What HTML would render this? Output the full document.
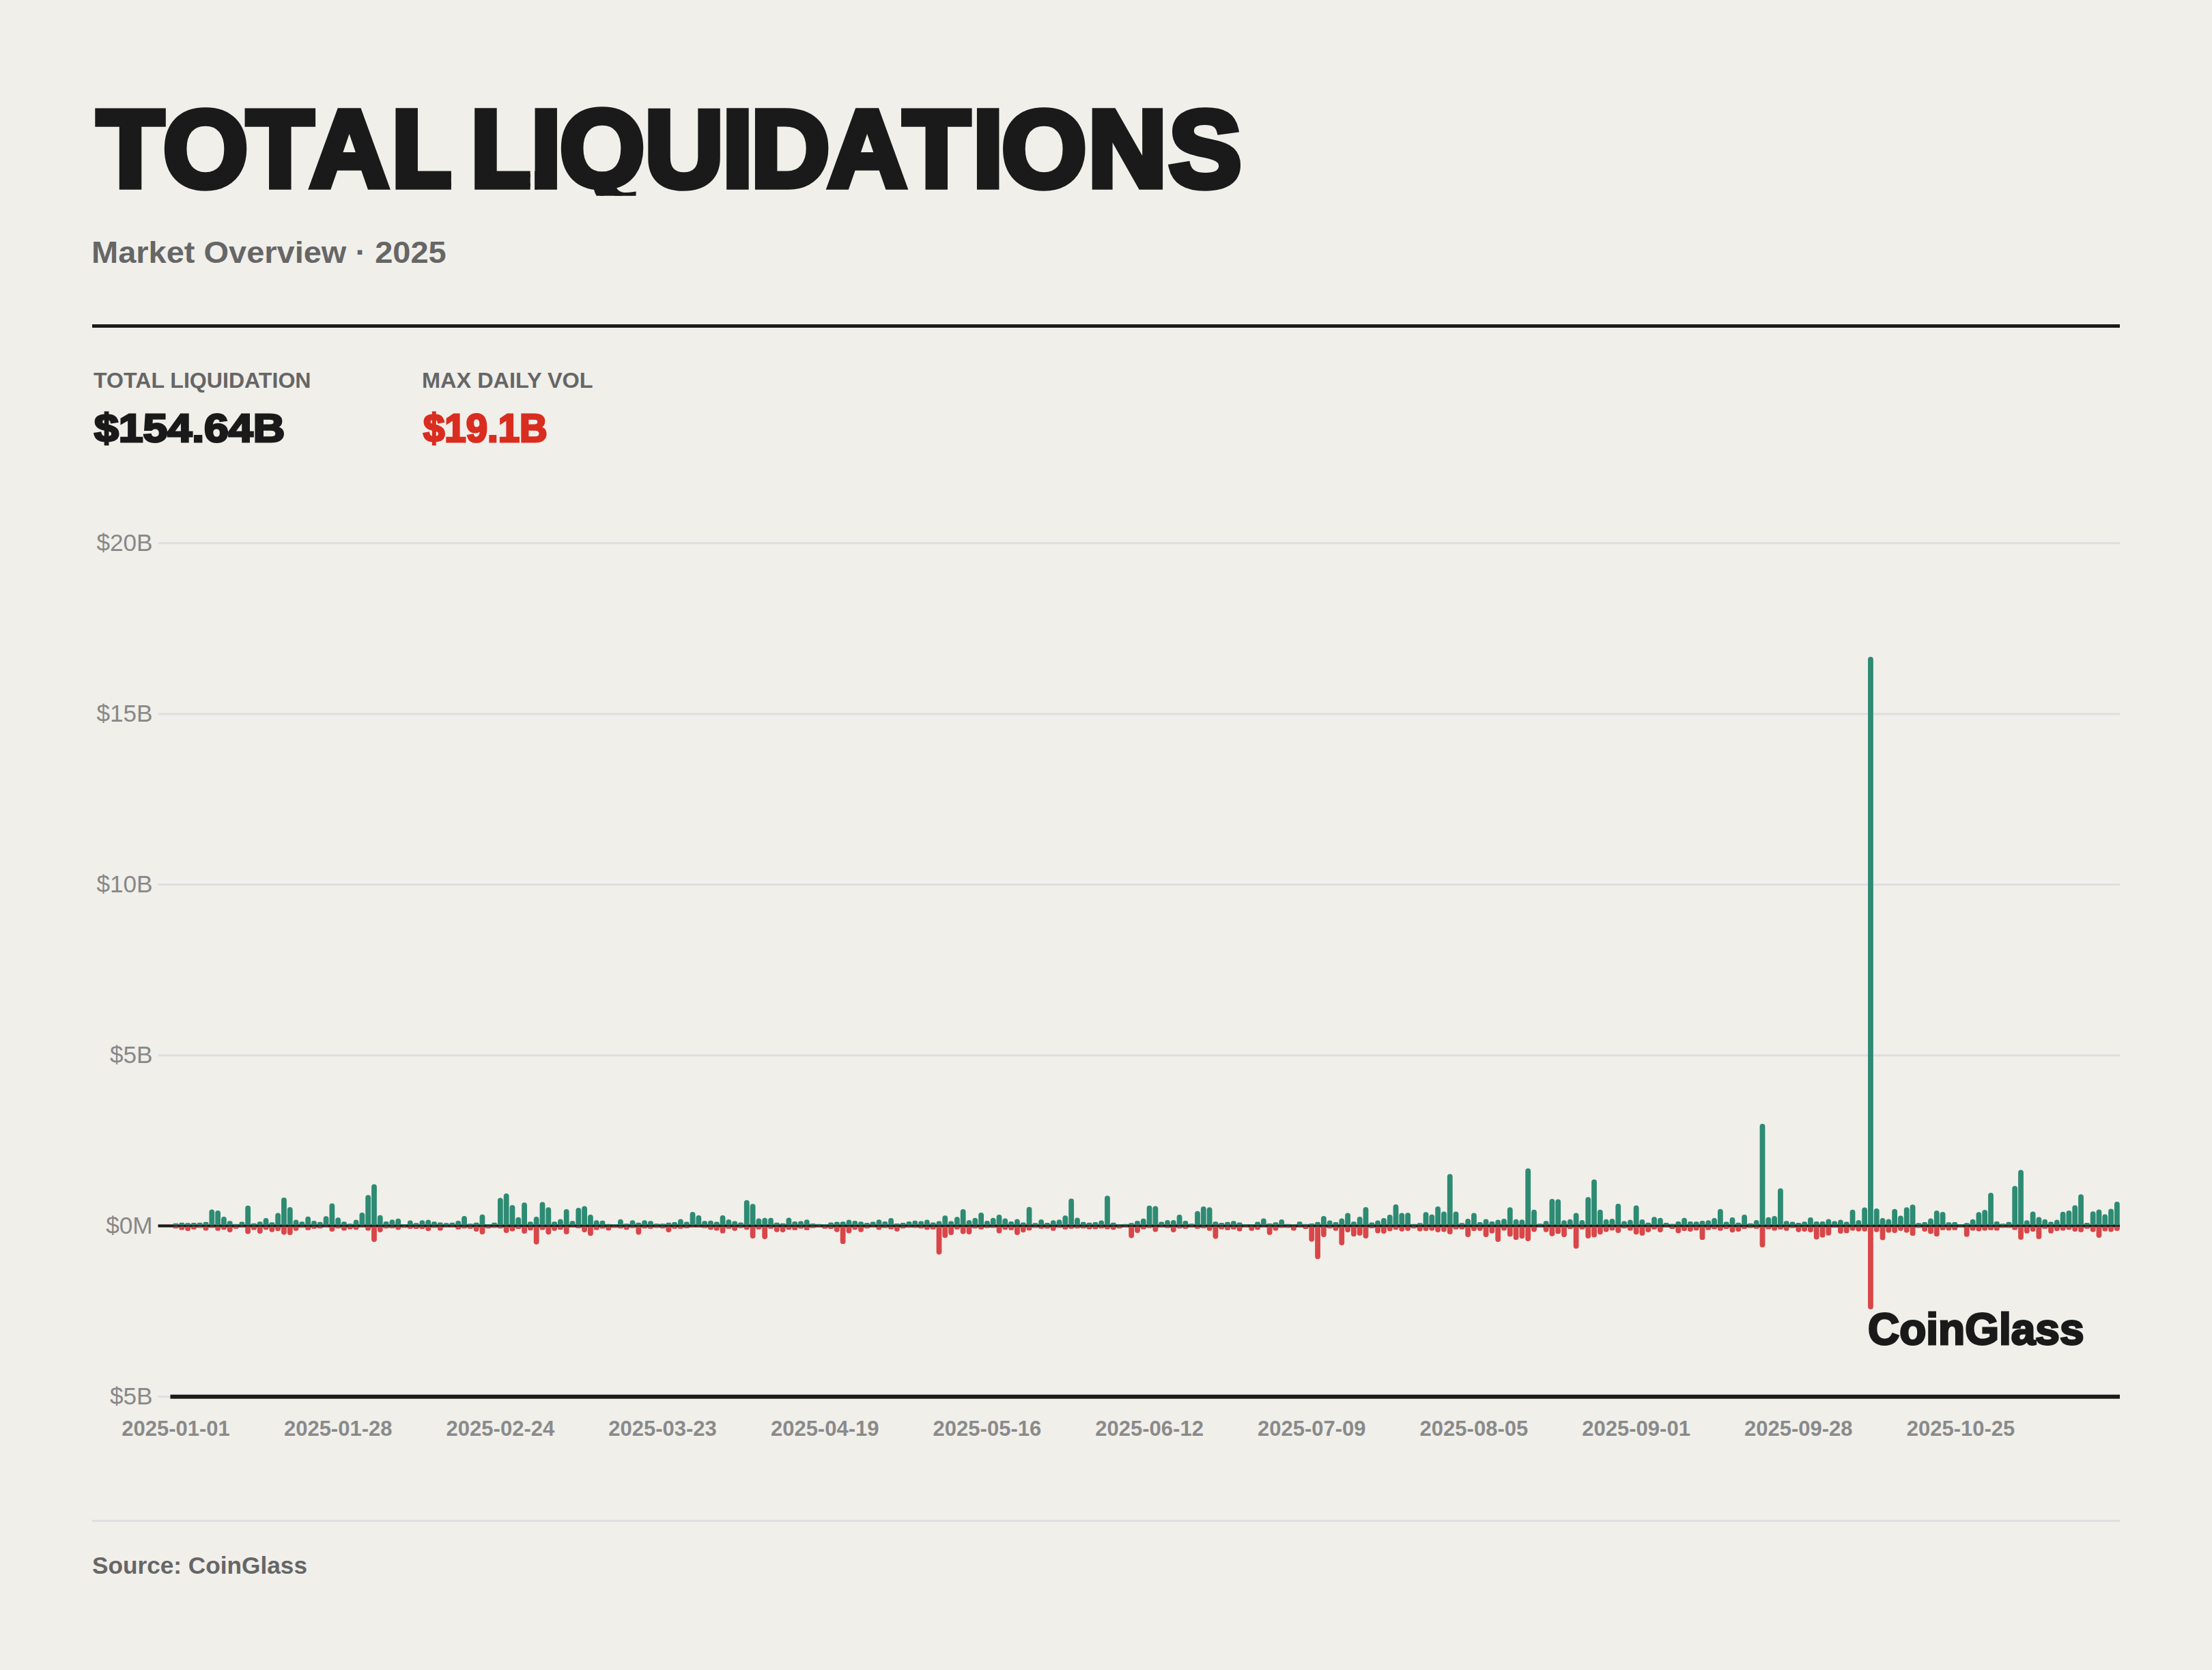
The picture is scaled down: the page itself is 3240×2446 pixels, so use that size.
<!DOCTYPE html>
<html lang="en">
<head>
<meta charset="utf-8">
<title>Total Liquidations</title>
<style>
html,body{margin:0;padding:0;}
body{width:3240px;height:2446px;background:#f0efea;font-family:"Liberation Sans",sans-serif;position:relative;overflow:hidden;color:#1a1a1a;}
.abs{position:absolute;white-space:nowrap;line-height:1;transform-origin:0 0;margin:0;font-weight:700;}
.tsvg{display:block;}
.ttl{font-weight:700;fill:#1a1a1a;stroke:#1a1a1a;stroke-linejoin:miter;}
.sub{color:#666;}
.rule{position:absolute;left:135px;top:474.5px;width:2970px;height:5.5px;background:#1a1a1a;}
.frule{position:absolute;left:135px;top:2226.3px;width:2970px;height:3px;background:#dddee0;}
.lab{color:#666;}
.red{color:#d92d20;}
.wm{color:#1a1a1a;}
svg.chart{position:absolute;left:0;top:0;}
svg text{font-family:"Liberation Sans",sans-serif;}
.yl{font-size:35.2px;fill:#888;}
.xl{font-size:31px;font-weight:700;fill:#8a8a8a;}
.g{fill:#2d8b73;}
.r{fill:#d94648;}
</style>
</head>
<body>
<h1 class="abs" style="left:0;top:0"><svg class="tsvg" width="3240" height="400" viewBox="0 0 3240 400"><clipPath id="tc"><rect x="0" y="0" width="660.9" height="400"/><rect x="690" y="0" width="86.7" height="400"/><rect x="783.2" y="0" width="37.8" height="400"/><rect x="821" y="0" width="125" height="286.8"/><rect x="946" y="0" width="2294" height="400"/></clipPath><text class="ttl" clip-path="url(#tc)" y="273.05" x="142.2 238.9 361.6 454.1 573.5 661.0 689.3 777.5 820.1 944.4 1058.2 1100.1 1212.6 1323.0 1424.9 1467.3 1593.8 1712.1" font-size="159.71" stroke-width="9.5">TOTAL LIQUIDATIONS</text></svg></h1>
<div class="abs sub" id="sub" style="left:133.86px;top:348.46px;font-size:44.35px;transform:scaleX(1.0594);">Market Overview · 2025</div>
<div class="rule"></div>
<div class="abs lab" id="lab1" style="left:137.40px;top:540.99px;font-size:32.03px;transform:scaleX(1.0024);">TOTAL LIQUIDATION</div>
<div class="abs val" id="val1" style="left:137.97px;top:599.27px;font-size:57.68px;transform:scaleX(1.1161);-webkit-text-stroke:3px currentColor;">$154.64B</div>
<div class="abs lab" id="lab2" style="left:617.77px;top:540.99px;font-size:32.03px;transform:scaleX(1.0138);">MAX DAILY VOL</div>
<div class="abs val red" id="val2" style="left:620.47px;top:599.27px;font-size:57.68px;transform:scaleX(0.9770);-webkit-text-stroke:3px currentColor;">$19.1B</div>
<svg class="chart" width="3240" height="2446" viewBox="0 0 3240 2446">
<rect x="231.5" y="794.1" width="2873.5" height="3" fill="#dddee0"/>
<rect x="231.5" y="1044.2" width="2873.5" height="3" fill="#dddee0"/>
<rect x="231.5" y="1294.2" width="2873.5" height="3" fill="#dddee0"/>
<rect x="231.5" y="1544.3" width="2873.5" height="3" fill="#dddee0"/>
<rect x="231.5" y="2044.2" width="20" height="3" fill="#dddee0"/>
<rect x="231.5" y="1793.40" width="2873.5" height="4.2" fill="#1a1a1a"/>
<g class="bars">
<path class="g" d="M253.6 1793.1V1793.1A1.4 1.4 0 0 1 255 1791.7H260A1.4 1.4 0 0 1 261.4 1793.1V1793.1A1.4 1.4 0 0 1 260 1794.5H255A1.4 1.4 0 0 1 253.6 1793.1ZM262.4 1792.9V1792.6A1.9 1.9 0 0 1 264.3 1790.7H268.3A1.9 1.9 0 0 1 270.2 1792.6V1792.9A1.6 1.6 0 0 1 268.6 1794.5H264A1.6 1.6 0 0 1 262.4 1792.9ZM271.21 1792.9V1792.9A1.6 1.6 0 0 1 272.81 1791.3H277.41A1.6 1.6 0 0 1 279.01 1792.9V1792.9A1.6 1.6 0 0 1 277.41 1794.5H272.81A1.6 1.6 0 0 1 271.21 1792.9ZM280.01 1792.9V1792.8A1.7 1.7 0 0 1 281.71 1791.1H286.11A1.7 1.7 0 0 1 287.81 1792.8V1792.9A1.6 1.6 0 0 1 286.21 1794.5H281.61A1.6 1.6 0 0 1 280.01 1792.9ZM288.81 1792.9V1792.6A1.9 1.9 0 0 1 290.71 1790.7H294.71A1.9 1.9 0 0 1 296.61 1792.6V1792.9A1.6 1.6 0 0 1 295.01 1794.5H290.41A1.6 1.6 0 0 1 288.81 1792.9ZM297.62 1792.9V1792.15A2.35 2.35 0 0 1 299.97 1789.8H303.06A2.35 2.35 0 0 1 305.42 1792.15V1792.9A1.6 1.6 0 0 1 303.81 1794.5H299.22A1.6 1.6 0 0 1 297.62 1792.9ZM306.42 1792.9V1775.4A3.9 3.9 0 0 1 310.32 1771.5H310.32A3.9 3.9 0 0 1 314.22 1775.4V1792.9A1.6 1.6 0 0 1 312.62 1794.5H308.02A1.6 1.6 0 0 1 306.42 1792.9ZM315.22 1792.9V1777A3.9 3.9 0 0 1 319.12 1773.1H319.12A3.9 3.9 0 0 1 323.02 1777V1792.9A1.6 1.6 0 0 1 321.42 1794.5H316.82A1.6 1.6 0 0 1 315.22 1792.9ZM324.02 1792.9V1785.9A3.9 3.9 0 0 1 327.92 1782H327.92A3.9 3.9 0 0 1 331.82 1785.9V1792.9A1.6 1.6 0 0 1 330.22 1794.5H325.62A1.6 1.6 0 0 1 324.02 1792.9ZM332.83 1792.9V1791.35A3.15 3.15 0 0 1 335.98 1788.2H337.48A3.15 3.15 0 0 1 340.63 1791.35V1792.9A1.6 1.6 0 0 1 339.03 1794.5H334.43A1.6 1.6 0 0 1 332.83 1792.9ZM341.63 1793.6V1793.6A0.9 0.9 0 0 1 342.53 1792.7H348.53A0.9 0.9 0 0 1 349.43 1793.6V1793.6A0.9 0.9 0 0 1 348.53 1794.5H342.53A0.9 0.9 0 0 1 341.63 1793.6ZM350.43 1792.9V1791.95A2.55 2.55 0 0 1 352.98 1789.4H355.68A2.55 2.55 0 0 1 358.23 1791.95V1792.9A1.6 1.6 0 0 1 356.63 1794.5H352.03A1.6 1.6 0 0 1 350.43 1792.9ZM359.24 1792.9V1769.7A3.9 3.9 0 0 1 363.14 1765.8H363.14A3.9 3.9 0 0 1 367.04 1769.7V1792.9A1.6 1.6 0 0 1 365.44 1794.5H360.84A1.6 1.6 0 0 1 359.24 1792.9ZM368.04 1793.1V1793.1A1.4 1.4 0 0 1 369.44 1791.7H374.44A1.4 1.4 0 0 1 375.84 1793.1V1793.1A1.4 1.4 0 0 1 374.44 1794.5H369.44A1.4 1.4 0 0 1 368.04 1793.1ZM376.84 1792.9V1791.9A2.6 2.6 0 0 1 379.44 1789.3H382.04A2.6 2.6 0 0 1 384.64 1791.9V1792.9A1.6 1.6 0 0 1 383.04 1794.5H378.44A1.6 1.6 0 0 1 376.84 1792.9ZM385.65 1792.9V1788A3.9 3.9 0 0 1 389.55 1784.1H389.55A3.9 3.9 0 0 1 393.45 1788V1792.9A1.6 1.6 0 0 1 391.85 1794.5H387.25A1.6 1.6 0 0 1 385.65 1792.9ZM394.45 1792.9V1792.35A2.15 2.15 0 0 1 396.6 1790.2H400.1A2.15 2.15 0 0 1 402.25 1792.35V1792.9A1.6 1.6 0 0 1 400.65 1794.5H396.05A1.6 1.6 0 0 1 394.45 1792.9ZM403.25 1792.9V1780.4A3.9 3.9 0 0 1 407.15 1776.5H407.15A3.9 3.9 0 0 1 411.05 1780.4V1792.9A1.6 1.6 0 0 1 409.45 1794.5H404.85A1.6 1.6 0 0 1 403.25 1792.9ZM412.05 1792.9V1758A3.9 3.9 0 0 1 415.95 1754.1H415.95A3.9 3.9 0 0 1 419.85 1758V1792.9A1.6 1.6 0 0 1 418.25 1794.5H413.65A1.6 1.6 0 0 1 412.05 1792.9ZM420.86 1792.9V1771.8A3.9 3.9 0 0 1 424.76 1767.9H424.76A3.9 3.9 0 0 1 428.66 1771.8V1792.9A1.6 1.6 0 0 1 427.06 1794.5H422.46A1.6 1.6 0 0 1 420.86 1792.9ZM429.66 1792.9V1790.5A3.9 3.9 0 0 1 433.56 1786.6H433.56A3.9 3.9 0 0 1 437.46 1790.5V1792.9A1.6 1.6 0 0 1 435.86 1794.5H431.26A1.6 1.6 0 0 1 429.66 1792.9ZM438.46 1792.9V1791.85A2.65 2.65 0 0 1 441.11 1789.2H443.61A2.65 2.65 0 0 1 446.26 1791.85V1792.9A1.6 1.6 0 0 1 444.66 1794.5H440.06A1.6 1.6 0 0 1 438.46 1792.9ZM447.27 1792.9V1785.7A3.9 3.9 0 0 1 451.17 1781.8H451.17A3.9 3.9 0 0 1 455.07 1785.7V1792.9A1.6 1.6 0 0 1 453.47 1794.5H448.87A1.6 1.6 0 0 1 447.27 1792.9ZM456.07 1792.9V1791.2A3.3 3.3 0 0 1 459.37 1787.9H460.57A3.3 3.3 0 0 1 463.87 1791.2V1792.9A1.6 1.6 0 0 1 462.27 1794.5H457.67A1.6 1.6 0 0 1 456.07 1792.9ZM464.87 1792.9V1792.15A2.35 2.35 0 0 1 467.22 1789.8H470.32A2.35 2.35 0 0 1 472.67 1792.15V1792.9A1.6 1.6 0 0 1 471.07 1794.5H466.47A1.6 1.6 0 0 1 464.87 1792.9ZM473.68 1792.9V1785.2A3.9 3.9 0 0 1 477.58 1781.3H477.58A3.9 3.9 0 0 1 481.48 1785.2V1792.9A1.6 1.6 0 0 1 479.88 1794.5H475.28A1.6 1.6 0 0 1 473.68 1792.9ZM482.48 1792.9V1766.5A3.9 3.9 0 0 1 486.38 1762.6H486.38A3.9 3.9 0 0 1 490.28 1766.5V1792.9A1.6 1.6 0 0 1 488.68 1794.5H484.08A1.6 1.6 0 0 1 482.48 1792.9ZM491.28 1792.9V1787.1A3.9 3.9 0 0 1 495.18 1783.2H495.18A3.9 3.9 0 0 1 499.08 1787.1V1792.9A1.6 1.6 0 0 1 497.48 1794.5H492.88A1.6 1.6 0 0 1 491.28 1792.9ZM500.08 1792.9V1791.9A2.6 2.6 0 0 1 502.68 1789.3H505.28A2.6 2.6 0 0 1 507.88 1791.9V1792.9A1.6 1.6 0 0 1 506.28 1794.5H501.68A1.6 1.6 0 0 1 500.08 1792.9ZM508.89 1793.4V1793.4A1.1 1.1 0 0 1 509.99 1792.3H515.59A1.1 1.1 0 0 1 516.69 1793.4V1793.4A1.1 1.1 0 0 1 515.59 1794.5H509.99A1.1 1.1 0 0 1 508.89 1793.4ZM517.69 1792.9V1790.5A3.9 3.9 0 0 1 521.59 1786.6H521.59A3.9 3.9 0 0 1 525.49 1790.5V1792.9A1.6 1.6 0 0 1 523.89 1794.5H519.29A1.6 1.6 0 0 1 517.69 1792.9ZM526.49 1792.9V1779.8A3.9 3.9 0 0 1 530.39 1775.9H530.39A3.9 3.9 0 0 1 534.29 1779.8V1792.9A1.6 1.6 0 0 1 532.69 1794.5H528.09A1.6 1.6 0 0 1 526.49 1792.9ZM535.3 1792.9V1754.1A3.9 3.9 0 0 1 539.2 1750.2H539.2A3.9 3.9 0 0 1 543.1 1754.1V1792.9A1.6 1.6 0 0 1 541.5 1794.5H536.9A1.6 1.6 0 0 1 535.3 1792.9ZM544.1 1792.9V1738.3A3.9 3.9 0 0 1 548 1734.4H548A3.9 3.9 0 0 1 551.9 1738.3V1792.9A1.6 1.6 0 0 1 550.3 1794.5H545.7A1.6 1.6 0 0 1 544.1 1792.9ZM552.9 1792.9V1783.6A3.9 3.9 0 0 1 556.8 1779.7H556.8A3.9 3.9 0 0 1 560.7 1783.6V1792.9A1.6 1.6 0 0 1 559.1 1794.5H554.5A1.6 1.6 0 0 1 552.9 1792.9ZM561.71 1792.9V1791.7A2.8 2.8 0 0 1 564.5 1788.9H566.71A2.8 2.8 0 0 1 569.5 1791.7V1792.9A1.6 1.6 0 0 1 567.9 1794.5H563.31A1.6 1.6 0 0 1 561.71 1792.9ZM570.51 1792.9V1790.2A3.9 3.9 0 0 1 574.41 1786.3H574.41A3.9 3.9 0 0 1 578.31 1790.2V1792.9A1.6 1.6 0 0 1 576.71 1794.5H572.11A1.6 1.6 0 0 1 570.51 1792.9ZM579.31 1792.9V1788.6A3.9 3.9 0 0 1 583.21 1784.7H583.21A3.9 3.9 0 0 1 587.11 1788.6V1792.9A1.6 1.6 0 0 1 585.51 1794.5H580.91A1.6 1.6 0 0 1 579.31 1792.9ZM588.11 1793.75V1793.75A0.75 0.75 0 0 1 588.86 1793H595.16A0.75 0.75 0 0 1 595.91 1793.75V1793.75A0.75 0.75 0 0 1 595.16 1794.5H588.86A0.75 0.75 0 0 1 588.11 1793.75ZM596.92 1792.9V1791A3.5 3.5 0 0 1 600.42 1787.5H601.22A3.5 3.5 0 0 1 604.72 1791V1792.9A1.6 1.6 0 0 1 603.12 1794.5H598.52A1.6 1.6 0 0 1 596.92 1792.9ZM605.72 1792.9V1792.9A1.6 1.6 0 0 1 607.32 1791.3H611.92A1.6 1.6 0 0 1 613.52 1792.9V1792.9A1.6 1.6 0 0 1 611.92 1794.5H607.32A1.6 1.6 0 0 1 605.72 1792.9ZM614.52 1792.9V1790.9A3.6 3.6 0 0 1 618.12 1787.3H618.72A3.6 3.6 0 0 1 622.32 1790.9V1792.9A1.6 1.6 0 0 1 620.72 1794.5H616.12A1.6 1.6 0 0 1 614.52 1792.9ZM623.33 1792.9V1790.5A3.9 3.9 0 0 1 627.23 1786.6H627.23A3.9 3.9 0 0 1 631.13 1790.5V1792.9A1.6 1.6 0 0 1 629.53 1794.5H624.93A1.6 1.6 0 0 1 623.33 1792.9ZM632.13 1792.9V1791.85A2.65 2.65 0 0 1 634.78 1789.2H637.28A2.65 2.65 0 0 1 639.93 1791.85V1792.9A1.6 1.6 0 0 1 638.33 1794.5H633.73A1.6 1.6 0 0 1 632.13 1792.9ZM640.93 1792.9V1792.45A2.05 2.05 0 0 1 642.98 1790.4H646.68A2.05 2.05 0 0 1 648.73 1792.45V1792.9A1.6 1.6 0 0 1 647.13 1794.5H642.53A1.6 1.6 0 0 1 640.93 1792.9ZM649.74 1792.9V1792.9A1.6 1.6 0 0 1 651.34 1791.3H655.93A1.6 1.6 0 0 1 657.53 1792.9V1792.9A1.6 1.6 0 0 1 655.93 1794.5H651.34A1.6 1.6 0 0 1 649.74 1792.9ZM658.54 1792.9V1792.65A1.85 1.85 0 0 1 660.39 1790.8H664.49A1.85 1.85 0 0 1 666.34 1792.65V1792.9A1.6 1.6 0 0 1 664.74 1794.5H660.14A1.6 1.6 0 0 1 658.54 1792.9ZM667.34 1792.9V1791.2A3.3 3.3 0 0 1 670.64 1787.9H671.84A3.3 3.3 0 0 1 675.14 1791.2V1792.9A1.6 1.6 0 0 1 673.54 1794.5H668.94A1.6 1.6 0 0 1 667.34 1792.9ZM676.14 1792.9V1784.8A3.9 3.9 0 0 1 680.04 1780.9H680.04A3.9 3.9 0 0 1 683.94 1784.8V1792.9A1.6 1.6 0 0 1 682.34 1794.5H677.74A1.6 1.6 0 0 1 676.14 1792.9ZM684.95 1793.4V1793.4A1.1 1.1 0 0 1 686.05 1792.3H691.65A1.1 1.1 0 0 1 692.75 1793.4V1793.4A1.1 1.1 0 0 1 691.65 1794.5H686.05A1.1 1.1 0 0 1 684.95 1793.4ZM693.75 1792.9V1792.6A1.9 1.9 0 0 1 695.65 1790.7H699.65A1.9 1.9 0 0 1 701.55 1792.6V1792.9A1.6 1.6 0 0 1 699.95 1794.5H695.35A1.6 1.6 0 0 1 693.75 1792.9ZM702.55 1792.9V1782.6A3.9 3.9 0 0 1 706.45 1778.7H706.45A3.9 3.9 0 0 1 710.35 1782.6V1792.9A1.6 1.6 0 0 1 708.75 1794.5H704.15A1.6 1.6 0 0 1 702.55 1792.9ZM711.36 1793.75V1793.75A0.75 0.75 0 0 1 712.11 1793H718.41A0.75 0.75 0 0 1 719.16 1793.75V1793.75A0.75 0.75 0 0 1 718.41 1794.5H712.11A0.75 0.75 0 0 1 711.36 1793.75ZM720.16 1792.9V1792.65A1.85 1.85 0 0 1 722.01 1790.8H726.11A1.85 1.85 0 0 1 727.96 1792.65V1792.9A1.6 1.6 0 0 1 726.36 1794.5H721.76A1.6 1.6 0 0 1 720.16 1792.9ZM728.96 1792.9V1758.3A3.9 3.9 0 0 1 732.86 1754.4H732.86A3.9 3.9 0 0 1 736.76 1758.3V1792.9A1.6 1.6 0 0 1 735.16 1794.5H730.56A1.6 1.6 0 0 1 728.96 1792.9ZM737.76 1792.9V1751.9A3.9 3.9 0 0 1 741.66 1748H741.66A3.9 3.9 0 0 1 745.56 1751.9V1792.9A1.6 1.6 0 0 1 743.96 1794.5H739.37A1.6 1.6 0 0 1 737.76 1792.9ZM746.57 1792.9V1769A3.9 3.9 0 0 1 750.47 1765.1H750.47A3.9 3.9 0 0 1 754.37 1769V1792.9A1.6 1.6 0 0 1 752.77 1794.5H748.17A1.6 1.6 0 0 1 746.57 1792.9ZM755.37 1792.9V1786.7A3.9 3.9 0 0 1 759.27 1782.8H759.27A3.9 3.9 0 0 1 763.17 1786.7V1792.9A1.6 1.6 0 0 1 761.57 1794.5H756.97A1.6 1.6 0 0 1 755.37 1792.9ZM764.17 1792.9V1765.2A3.9 3.9 0 0 1 768.07 1761.3H768.07A3.9 3.9 0 0 1 771.97 1765.2V1792.9A1.6 1.6 0 0 1 770.37 1794.5H765.77A1.6 1.6 0 0 1 764.17 1792.9ZM772.98 1792.9V1791.85A2.65 2.65 0 0 1 775.63 1789.2H778.13A2.65 2.65 0 0 1 780.78 1791.85V1792.9A1.6 1.6 0 0 1 779.18 1794.5H774.58A1.6 1.6 0 0 1 772.98 1792.9ZM781.78 1792.9V1785.9A3.9 3.9 0 0 1 785.68 1782H785.68A3.9 3.9 0 0 1 789.58 1785.9V1792.9A1.6 1.6 0 0 1 787.98 1794.5H783.38A1.6 1.6 0 0 1 781.78 1792.9ZM790.58 1792.9V1764.4A3.9 3.9 0 0 1 794.48 1760.5H794.48A3.9 3.9 0 0 1 798.38 1764.4V1792.9A1.6 1.6 0 0 1 796.78 1794.5H792.18A1.6 1.6 0 0 1 790.58 1792.9ZM799.39 1792.9V1772.2A3.9 3.9 0 0 1 803.29 1768.3H803.29A3.9 3.9 0 0 1 807.19 1772.2V1792.9A1.6 1.6 0 0 1 805.59 1794.5H800.99A1.6 1.6 0 0 1 799.39 1792.9ZM808.19 1792.9V1791.85A2.65 2.65 0 0 1 810.84 1789.2H813.34A2.65 2.65 0 0 1 815.99 1791.85V1792.9A1.6 1.6 0 0 1 814.39 1794.5H809.79A1.6 1.6 0 0 1 808.19 1792.9ZM816.99 1792.9V1789.3A3.9 3.9 0 0 1 820.89 1785.4H820.89A3.9 3.9 0 0 1 824.79 1789.3V1792.9A1.6 1.6 0 0 1 823.19 1794.5H818.59A1.6 1.6 0 0 1 816.99 1792.9ZM825.8 1792.9V1775A3.9 3.9 0 0 1 829.7 1771.1H829.7A3.9 3.9 0 0 1 833.6 1775V1792.9A1.6 1.6 0 0 1 832 1794.5H827.4A1.6 1.6 0 0 1 825.8 1792.9ZM834.6 1792.9V1791.35A3.15 3.15 0 0 1 837.75 1788.2H839.25A3.15 3.15 0 0 1 842.4 1791.35V1792.9A1.6 1.6 0 0 1 840.8 1794.5H836.2A1.6 1.6 0 0 1 834.6 1792.9ZM843.4 1792.9V1772.8A3.9 3.9 0 0 1 847.3 1768.9H847.3A3.9 3.9 0 0 1 851.2 1772.8V1792.9A1.6 1.6 0 0 1 849.6 1794.5H845A1.6 1.6 0 0 1 843.4 1792.9ZM852.2 1792.9V1770.3A3.9 3.9 0 0 1 856.1 1766.4H856.1A3.9 3.9 0 0 1 860 1770.3V1792.9A1.6 1.6 0 0 1 858.4 1794.5H853.8A1.6 1.6 0 0 1 852.2 1792.9ZM861.01 1792.9V1782.9A3.9 3.9 0 0 1 864.91 1779H864.91A3.9 3.9 0 0 1 868.81 1782.9V1792.9A1.6 1.6 0 0 1 867.21 1794.5H862.61A1.6 1.6 0 0 1 861.01 1792.9ZM869.81 1792.9V1790.9A3.6 3.6 0 0 1 873.41 1787.3H874.01A3.6 3.6 0 0 1 877.61 1790.9V1792.9A1.6 1.6 0 0 1 876.01 1794.5H871.41A1.6 1.6 0 0 1 869.81 1792.9ZM878.61 1792.9V1791.1A3.4 3.4 0 0 1 882.01 1787.7H883.01A3.4 3.4 0 0 1 886.41 1791.1V1792.9A1.6 1.6 0 0 1 884.81 1794.5H880.21A1.6 1.6 0 0 1 878.61 1792.9ZM887.42 1793.6V1793.6A0.9 0.9 0 0 1 888.32 1792.7H894.32A0.9 0.9 0 0 1 895.22 1793.6V1793.6A0.9 0.9 0 0 1 894.32 1794.5H888.32A0.9 0.9 0 0 1 887.42 1793.6ZM896.22 1793.75V1793.75A0.75 0.75 0 0 1 896.97 1793H903.27A0.75 0.75 0 0 1 904.02 1793.75V1793.75A0.75 0.75 0 0 1 903.27 1794.5H896.97A0.75 0.75 0 0 1 896.22 1793.75ZM905.02 1792.9V1789.7A3.9 3.9 0 0 1 908.92 1785.8H908.92A3.9 3.9 0 0 1 912.82 1789.7V1792.9A1.6 1.6 0 0 1 911.22 1794.5H906.62A1.6 1.6 0 0 1 905.02 1792.9ZM913.83 1793.4V1793.4A1.1 1.1 0 0 1 914.93 1792.3H920.52A1.1 1.1 0 0 1 921.62 1793.4V1793.4A1.1 1.1 0 0 1 920.52 1794.5H914.93A1.1 1.1 0 0 1 913.83 1793.4ZM922.63 1792.9V1790.9A3.6 3.6 0 0 1 926.23 1787.3H926.83A3.6 3.6 0 0 1 930.43 1790.9V1792.9A1.6 1.6 0 0 1 928.83 1794.5H924.23A1.6 1.6 0 0 1 922.63 1792.9ZM931.43 1792.9V1792.6A1.9 1.9 0 0 1 933.33 1790.7H937.33A1.9 1.9 0 0 1 939.23 1792.6V1792.9A1.6 1.6 0 0 1 937.63 1794.5H933.03A1.6 1.6 0 0 1 931.43 1792.9ZM940.23 1792.9V1790.9A3.6 3.6 0 0 1 943.83 1787.3H944.43A3.6 3.6 0 0 1 948.03 1790.9V1792.9A1.6 1.6 0 0 1 946.43 1794.5H941.83A1.6 1.6 0 0 1 940.23 1792.9ZM949.04 1792.9V1791.35A3.15 3.15 0 0 1 952.19 1788.2H953.69A3.15 3.15 0 0 1 956.84 1791.35V1792.9A1.6 1.6 0 0 1 955.24 1794.5H950.64A1.6 1.6 0 0 1 949.04 1792.9ZM957.84 1793.4V1793.4A1.1 1.1 0 0 1 958.94 1792.3H964.54A1.1 1.1 0 0 1 965.64 1793.4V1793.4A1.1 1.1 0 0 1 964.54 1794.5H958.94A1.1 1.1 0 0 1 957.84 1793.4ZM966.64 1793.4V1793.4A1.1 1.1 0 0 1 967.74 1792.3H973.34A1.1 1.1 0 0 1 974.44 1793.4V1793.4A1.1 1.1 0 0 1 973.34 1794.5H967.74A1.1 1.1 0 0 1 966.64 1793.4ZM975.45 1792.9V1792.65A1.85 1.85 0 0 1 977.3 1790.8H981.4A1.85 1.85 0 0 1 983.25 1792.65V1792.9A1.6 1.6 0 0 1 981.65 1794.5H977.05A1.6 1.6 0 0 1 975.45 1792.9ZM984.25 1792.9V1792.3A2.2 2.2 0 0 1 986.45 1790.1H989.85A2.2 2.2 0 0 1 992.05 1792.3V1792.9A1.6 1.6 0 0 1 990.45 1794.5H985.85A1.6 1.6 0 0 1 984.25 1792.9ZM993.05 1792.9V1789.3A3.9 3.9 0 0 1 996.95 1785.4H996.95A3.9 3.9 0 0 1 1000.85 1789.3V1792.9A1.6 1.6 0 0 1 999.25 1794.5H994.65A1.6 1.6 0 0 1 993.05 1792.9ZM1001.86 1792.9V1792.05A2.45 2.45 0 0 1 1004.31 1789.6H1007.21A2.45 2.45 0 0 1 1009.66 1792.05V1792.9A1.6 1.6 0 0 1 1008.06 1794.5H1003.46A1.6 1.6 0 0 1 1001.86 1792.9ZM1010.66 1792.9V1778.8A3.9 3.9 0 0 1 1014.56 1774.9H1014.56A3.9 3.9 0 0 1 1018.46 1778.8V1792.9A1.6 1.6 0 0 1 1016.86 1794.5H1012.26A1.6 1.6 0 0 1 1010.66 1792.9ZM1019.46 1792.9V1783.8A3.9 3.9 0 0 1 1023.36 1779.9H1023.36A3.9 3.9 0 0 1 1027.26 1783.8V1792.9A1.6 1.6 0 0 1 1025.66 1794.5H1021.06A1.6 1.6 0 0 1 1019.46 1792.9ZM1028.26 1792.9V1791.35A3.15 3.15 0 0 1 1031.41 1788.2H1032.91A3.15 3.15 0 0 1 1036.06 1791.35V1792.9A1.6 1.6 0 0 1 1034.46 1794.5H1029.86A1.6 1.6 0 0 1 1028.26 1792.9ZM1037.07 1792.9V1791.1A3.4 3.4 0 0 1 1040.47 1787.7H1041.47A3.4 3.4 0 0 1 1044.87 1791.1V1792.9A1.6 1.6 0 0 1 1043.27 1794.5H1038.67A1.6 1.6 0 0 1 1037.07 1792.9ZM1045.87 1792.9V1791.95A2.55 2.55 0 0 1 1048.42 1789.4H1051.12A2.55 2.55 0 0 1 1053.67 1791.95V1792.9A1.6 1.6 0 0 1 1052.07 1794.5H1047.47A1.6 1.6 0 0 1 1045.87 1792.9ZM1054.67 1792.9V1784A3.9 3.9 0 0 1 1058.57 1780.1H1058.57A3.9 3.9 0 0 1 1062.47 1784V1792.9A1.6 1.6 0 0 1 1060.87 1794.5H1056.27A1.6 1.6 0 0 1 1054.67 1792.9ZM1063.48 1792.9V1789.9A3.9 3.9 0 0 1 1067.38 1786H1067.38A3.9 3.9 0 0 1 1071.28 1789.9V1792.9A1.6 1.6 0 0 1 1069.68 1794.5H1065.08A1.6 1.6 0 0 1 1063.48 1792.9ZM1072.28 1792.9V1791.5A3 3 0 0 1 1075.28 1788.5H1077.08A3 3 0 0 1 1080.08 1791.5V1792.9A1.6 1.6 0 0 1 1078.48 1794.5H1073.88A1.6 1.6 0 0 1 1072.28 1792.9ZM1081.08 1792.9V1792.45A2.05 2.05 0 0 1 1083.13 1790.4H1086.83A2.05 2.05 0 0 1 1088.88 1792.45V1792.9A1.6 1.6 0 0 1 1087.28 1794.5H1082.68A1.6 1.6 0 0 1 1081.08 1792.9ZM1089.88 1792.9V1761.7A3.9 3.9 0 0 1 1093.79 1757.8H1093.78A3.9 3.9 0 0 1 1097.68 1761.7V1792.9A1.6 1.6 0 0 1 1096.09 1794.5H1091.48A1.6 1.6 0 0 1 1089.88 1792.9ZM1098.69 1792.9V1767.1A3.9 3.9 0 0 1 1102.59 1763.2H1102.59A3.9 3.9 0 0 1 1106.49 1767.1V1792.9A1.6 1.6 0 0 1 1104.89 1794.5H1100.29A1.6 1.6 0 0 1 1098.69 1792.9ZM1107.49 1792.9V1788.3A3.9 3.9 0 0 1 1111.39 1784.4H1111.39A3.9 3.9 0 0 1 1115.29 1788.3V1792.9A1.6 1.6 0 0 1 1113.69 1794.5H1109.09A1.6 1.6 0 0 1 1107.49 1792.9ZM1116.29 1792.9V1787.6A3.9 3.9 0 0 1 1120.19 1783.7H1120.19A3.9 3.9 0 0 1 1124.09 1787.6V1792.9A1.6 1.6 0 0 1 1122.49 1794.5H1117.89A1.6 1.6 0 0 1 1116.29 1792.9ZM1125.1 1792.9V1787.6A3.9 3.9 0 0 1 1129 1783.7H1129A3.9 3.9 0 0 1 1132.9 1787.6V1792.9A1.6 1.6 0 0 1 1131.3 1794.5H1126.7A1.6 1.6 0 0 1 1125.1 1792.9ZM1133.9 1792.9V1792.65A1.85 1.85 0 0 1 1135.75 1790.8H1139.85A1.85 1.85 0 0 1 1141.7 1792.65V1792.9A1.6 1.6 0 0 1 1140.1 1794.5H1135.5A1.6 1.6 0 0 1 1133.9 1792.9ZM1142.7 1793.1V1793.1A1.4 1.4 0 0 1 1144.1 1791.7H1149.1A1.4 1.4 0 0 1 1150.5 1793.1V1793.1A1.4 1.4 0 0 1 1149.1 1794.5H1144.1A1.4 1.4 0 0 1 1142.7 1793.1ZM1151.51 1792.9V1787.4A3.9 3.9 0 0 1 1155.41 1783.5H1155.41A3.9 3.9 0 0 1 1159.31 1787.4V1792.9A1.6 1.6 0 0 1 1157.71 1794.5H1153.11A1.6 1.6 0 0 1 1151.51 1792.9ZM1160.31 1792.9V1791.7A2.8 2.8 0 0 1 1163.11 1788.9H1165.31A2.8 2.8 0 0 1 1168.11 1791.7V1792.9A1.6 1.6 0 0 1 1166.51 1794.5H1161.91A1.6 1.6 0 0 1 1160.31 1792.9ZM1169.11 1792.9V1791.5A3 3 0 0 1 1172.11 1788.5H1173.91A3 3 0 0 1 1176.91 1791.5V1792.9A1.6 1.6 0 0 1 1175.31 1794.5H1170.71A1.6 1.6 0 0 1 1169.11 1792.9ZM1177.91 1792.9V1790.2A3.9 3.9 0 0 1 1181.82 1786.3H1181.81A3.9 3.9 0 0 1 1185.71 1790.2V1792.9A1.6 1.6 0 0 1 1184.12 1794.5H1179.51A1.6 1.6 0 0 1 1177.91 1792.9ZM1186.72 1793.25V1793.25A1.25 1.25 0 0 1 1187.97 1792H1193.27A1.25 1.25 0 0 1 1194.52 1793.25V1793.25A1.25 1.25 0 0 1 1193.27 1794.5H1187.97A1.25 1.25 0 0 1 1186.72 1793.25ZM1195.52 1793.6V1793.6A0.9 0.9 0 0 1 1196.42 1792.7H1202.42A0.9 0.9 0 0 1 1203.32 1793.6V1793.6A0.9 0.9 0 0 1 1202.42 1794.5H1196.42A0.9 0.9 0 0 1 1195.52 1793.6ZM1204.32 1793.85V1793.85A0.65 0.65 0 0 1 1204.97 1793.2H1211.47A0.65 0.65 0 0 1 1212.12 1793.85V1793.85A0.65 0.65 0 0 1 1211.47 1794.5H1204.97A0.65 0.65 0 0 1 1204.32 1793.85ZM1213.13 1792.9V1792.45A2.05 2.05 0 0 1 1215.18 1790.4H1218.88A2.05 2.05 0 0 1 1220.93 1792.45V1792.9A1.6 1.6 0 0 1 1219.33 1794.5H1214.73A1.6 1.6 0 0 1 1213.13 1792.9ZM1221.93 1792.9V1791.95A2.55 2.55 0 0 1 1224.48 1789.4H1227.18A2.55 2.55 0 0 1 1229.73 1791.95V1792.9A1.6 1.6 0 0 1 1228.13 1794.5H1223.53A1.6 1.6 0 0 1 1221.93 1792.9ZM1230.73 1792.9V1791.85A2.65 2.65 0 0 1 1233.38 1789.2H1235.88A2.65 2.65 0 0 1 1238.53 1791.85V1792.9A1.6 1.6 0 0 1 1236.93 1794.5H1232.33A1.6 1.6 0 0 1 1230.73 1792.9ZM1239.54 1792.9V1790.3A3.9 3.9 0 0 1 1243.44 1786.4H1243.44A3.9 3.9 0 0 1 1247.34 1790.3V1792.9A1.6 1.6 0 0 1 1245.74 1794.5H1241.14A1.6 1.6 0 0 1 1239.54 1792.9ZM1248.34 1792.9V1791.2A3.3 3.3 0 0 1 1251.64 1787.9H1252.84A3.3 3.3 0 0 1 1256.14 1791.2V1792.9A1.6 1.6 0 0 1 1254.54 1794.5H1249.94A1.6 1.6 0 0 1 1248.34 1792.9ZM1257.14 1792.9V1791.85A2.65 2.65 0 0 1 1259.79 1789.2H1262.29A2.65 2.65 0 0 1 1264.94 1791.85V1792.9A1.6 1.6 0 0 1 1263.34 1794.5H1258.74A1.6 1.6 0 0 1 1257.14 1792.9ZM1265.95 1792.9V1792.8A1.7 1.7 0 0 1 1267.65 1791.1H1272.05A1.7 1.7 0 0 1 1273.75 1792.8V1792.9A1.6 1.6 0 0 1 1272.15 1794.5H1267.55A1.6 1.6 0 0 1 1265.95 1792.9ZM1274.75 1792.9V1792.05A2.45 2.45 0 0 1 1277.2 1789.6H1280.1A2.45 2.45 0 0 1 1282.55 1792.05V1792.9A1.6 1.6 0 0 1 1280.95 1794.5H1276.35A1.6 1.6 0 0 1 1274.75 1792.9ZM1283.55 1792.9V1790.2A3.9 3.9 0 0 1 1287.45 1786.3H1287.45A3.9 3.9 0 0 1 1291.35 1790.2V1792.9A1.6 1.6 0 0 1 1289.75 1794.5H1285.15A1.6 1.6 0 0 1 1283.55 1792.9ZM1292.35 1792.9V1791.7A2.8 2.8 0 0 1 1295.15 1788.9H1297.35A2.8 2.8 0 0 1 1300.15 1791.7V1792.9A1.6 1.6 0 0 1 1298.55 1794.5H1293.95A1.6 1.6 0 0 1 1292.35 1792.9ZM1301.16 1792.9V1788A3.9 3.9 0 0 1 1305.06 1784.1H1305.06A3.9 3.9 0 0 1 1308.96 1788V1792.9A1.6 1.6 0 0 1 1307.36 1794.5H1302.76A1.6 1.6 0 0 1 1301.16 1792.9ZM1309.96 1793.3V1793.3A1.2 1.2 0 0 1 1311.16 1792.1H1316.56A1.2 1.2 0 0 1 1317.76 1793.3V1793.3A1.2 1.2 0 0 1 1316.56 1794.5H1311.16A1.2 1.2 0 0 1 1309.96 1793.3ZM1318.76 1792.9V1792.8A1.7 1.7 0 0 1 1320.46 1791.1H1324.86A1.7 1.7 0 0 1 1326.56 1792.8V1792.9A1.6 1.6 0 0 1 1324.96 1794.5H1320.36A1.6 1.6 0 0 1 1318.76 1792.9ZM1327.57 1792.9V1791.7A2.8 2.8 0 0 1 1330.37 1788.9H1332.57A2.8 2.8 0 0 1 1335.37 1791.7V1792.9A1.6 1.6 0 0 1 1333.77 1794.5H1329.17A1.6 1.6 0 0 1 1327.57 1792.9ZM1336.37 1792.9V1791.15A3.35 3.35 0 0 1 1339.72 1787.8H1340.82A3.35 3.35 0 0 1 1344.17 1791.15V1792.9A1.6 1.6 0 0 1 1342.57 1794.5H1337.97A1.6 1.6 0 0 1 1336.37 1792.9ZM1345.17 1792.9V1791.5A3 3 0 0 1 1348.17 1788.5H1349.97A3 3 0 0 1 1352.97 1791.5V1792.9A1.6 1.6 0 0 1 1351.37 1794.5H1346.77A1.6 1.6 0 0 1 1345.17 1792.9ZM1353.97 1792.9V1790.5A3.9 3.9 0 0 1 1357.88 1786.6H1357.87A3.9 3.9 0 0 1 1361.77 1790.5V1792.9A1.6 1.6 0 0 1 1360.17 1794.5H1355.57A1.6 1.6 0 0 1 1353.97 1792.9ZM1362.78 1792.9V1792.45A2.05 2.05 0 0 1 1364.83 1790.4H1368.53A2.05 2.05 0 0 1 1370.58 1792.45V1792.9A1.6 1.6 0 0 1 1368.98 1794.5H1364.38A1.6 1.6 0 0 1 1362.78 1792.9ZM1371.58 1792.9V1791.5A3 3 0 0 1 1374.58 1788.5H1376.38A3 3 0 0 1 1379.38 1791.5V1792.9A1.6 1.6 0 0 1 1377.78 1794.5H1373.18A1.6 1.6 0 0 1 1371.58 1792.9ZM1380.38 1792.9V1784.2A3.9 3.9 0 0 1 1384.28 1780.3H1384.28A3.9 3.9 0 0 1 1388.18 1784.2V1792.9A1.6 1.6 0 0 1 1386.58 1794.5H1381.98A1.6 1.6 0 0 1 1380.38 1792.9ZM1389.19 1792.9V1791.5A3 3 0 0 1 1392.19 1788.5H1393.99A3 3 0 0 1 1396.99 1791.5V1792.9A1.6 1.6 0 0 1 1395.39 1794.5H1390.79A1.6 1.6 0 0 1 1389.19 1792.9ZM1397.99 1792.9V1786.1A3.9 3.9 0 0 1 1401.89 1782.2H1401.89A3.9 3.9 0 0 1 1405.79 1786.1V1792.9A1.6 1.6 0 0 1 1404.19 1794.5H1399.59A1.6 1.6 0 0 1 1397.99 1792.9ZM1406.79 1792.9V1775A3.9 3.9 0 0 1 1410.69 1771.1H1410.69A3.9 3.9 0 0 1 1414.59 1775V1792.9A1.6 1.6 0 0 1 1412.99 1794.5H1408.39A1.6 1.6 0 0 1 1406.79 1792.9ZM1415.6 1792.9V1790.75A3.75 3.75 0 0 1 1419.35 1787H1419.65A3.75 3.75 0 0 1 1423.4 1790.75V1792.9A1.6 1.6 0 0 1 1421.8 1794.5H1417.2A1.6 1.6 0 0 1 1415.6 1792.9ZM1424.4 1792.9V1787.6A3.9 3.9 0 0 1 1428.3 1783.7H1428.3A3.9 3.9 0 0 1 1432.2 1787.6V1792.9A1.6 1.6 0 0 1 1430.6 1794.5H1426A1.6 1.6 0 0 1 1424.4 1792.9ZM1433.2 1792.9V1779.8A3.9 3.9 0 0 1 1437.1 1775.9H1437.1A3.9 3.9 0 0 1 1441 1779.8V1792.9A1.6 1.6 0 0 1 1439.4 1794.5H1434.8A1.6 1.6 0 0 1 1433.2 1792.9ZM1442.01 1792.9V1791.2A3.3 3.3 0 0 1 1445.31 1787.9H1446.51A3.3 3.3 0 0 1 1449.81 1791.2V1792.9A1.6 1.6 0 0 1 1448.21 1794.5H1443.61A1.6 1.6 0 0 1 1442.01 1792.9ZM1450.81 1792.9V1787.6A3.9 3.9 0 0 1 1454.71 1783.7H1454.71A3.9 3.9 0 0 1 1458.61 1787.6V1792.9A1.6 1.6 0 0 1 1457.01 1794.5H1452.41A1.6 1.6 0 0 1 1450.81 1792.9ZM1459.61 1792.9V1782.9A3.9 3.9 0 0 1 1463.51 1779H1463.51A3.9 3.9 0 0 1 1467.41 1782.9V1792.9A1.6 1.6 0 0 1 1465.81 1794.5H1461.21A1.6 1.6 0 0 1 1459.61 1792.9ZM1468.41 1792.9V1788.3A3.9 3.9 0 0 1 1472.31 1784.4H1472.31A3.9 3.9 0 0 1 1476.21 1788.3V1792.9A1.6 1.6 0 0 1 1474.61 1794.5H1470.01A1.6 1.6 0 0 1 1468.41 1792.9ZM1477.22 1792.9V1791.7A2.8 2.8 0 0 1 1480.02 1788.9H1482.22A2.8 2.8 0 0 1 1485.02 1791.7V1792.9A1.6 1.6 0 0 1 1483.42 1794.5H1478.82A1.6 1.6 0 0 1 1477.22 1792.9ZM1486.02 1792.9V1789.3A3.9 3.9 0 0 1 1489.92 1785.4H1489.92A3.9 3.9 0 0 1 1493.82 1789.3V1792.9A1.6 1.6 0 0 1 1492.22 1794.5H1487.62A1.6 1.6 0 0 1 1486.02 1792.9ZM1494.82 1792.9V1792.45A2.05 2.05 0 0 1 1496.87 1790.4H1500.57A2.05 2.05 0 0 1 1502.62 1792.45V1792.9A1.6 1.6 0 0 1 1501.02 1794.5H1496.42A1.6 1.6 0 0 1 1494.82 1792.9ZM1503.63 1792.9V1771.6A3.9 3.9 0 0 1 1507.53 1767.7H1507.53A3.9 3.9 0 0 1 1511.43 1771.6V1792.9A1.6 1.6 0 0 1 1509.83 1794.5H1505.23A1.6 1.6 0 0 1 1503.63 1792.9ZM1512.43 1792.9V1792.9A1.6 1.6 0 0 1 1514.03 1791.3H1518.63A1.6 1.6 0 0 1 1520.23 1792.9V1792.9A1.6 1.6 0 0 1 1518.63 1794.5H1514.03A1.6 1.6 0 0 1 1512.43 1792.9ZM1521.23 1792.9V1789.9A3.9 3.9 0 0 1 1525.13 1786H1525.13A3.9 3.9 0 0 1 1529.03 1789.9V1792.9A1.6 1.6 0 0 1 1527.43 1794.5H1522.83A1.6 1.6 0 0 1 1521.23 1792.9ZM1530.04 1792.9V1792.8A1.7 1.7 0 0 1 1531.74 1791.1H1536.13A1.7 1.7 0 0 1 1537.84 1792.8V1792.9A1.6 1.6 0 0 1 1536.24 1794.5H1531.63A1.6 1.6 0 0 1 1530.04 1792.9ZM1538.84 1792.9V1790.9A3.6 3.6 0 0 1 1542.44 1787.3H1543.04A3.6 3.6 0 0 1 1546.64 1790.9V1792.9A1.6 1.6 0 0 1 1545.04 1794.5H1540.44A1.6 1.6 0 0 1 1538.84 1792.9ZM1547.64 1792.9V1790.2A3.9 3.9 0 0 1 1551.54 1786.3H1551.54A3.9 3.9 0 0 1 1555.44 1790.2V1792.9A1.6 1.6 0 0 1 1553.84 1794.5H1549.24A1.6 1.6 0 0 1 1547.64 1792.9ZM1556.44 1792.9V1784.2A3.9 3.9 0 0 1 1560.34 1780.3H1560.34A3.9 3.9 0 0 1 1564.24 1784.2V1792.9A1.6 1.6 0 0 1 1562.64 1794.5H1558.04A1.6 1.6 0 0 1 1556.44 1792.9ZM1565.25 1792.9V1759.5A3.9 3.9 0 0 1 1569.15 1755.6H1569.15A3.9 3.9 0 0 1 1573.05 1759.5V1792.9A1.6 1.6 0 0 1 1571.45 1794.5H1566.85A1.6 1.6 0 0 1 1565.25 1792.9ZM1574.05 1792.9V1787.4A3.9 3.9 0 0 1 1577.95 1783.5H1577.95A3.9 3.9 0 0 1 1581.85 1787.4V1792.9A1.6 1.6 0 0 1 1580.25 1794.5H1575.65A1.6 1.6 0 0 1 1574.05 1792.9ZM1582.85 1792.9V1792.15A2.35 2.35 0 0 1 1585.2 1789.8H1588.3A2.35 2.35 0 0 1 1590.65 1792.15V1792.9A1.6 1.6 0 0 1 1589.05 1794.5H1584.45A1.6 1.6 0 0 1 1582.85 1792.9ZM1591.66 1792.9V1792.65A1.85 1.85 0 0 1 1593.51 1790.8H1597.61A1.85 1.85 0 0 1 1599.46 1792.65V1792.9A1.6 1.6 0 0 1 1597.86 1794.5H1593.26A1.6 1.6 0 0 1 1591.66 1792.9ZM1600.46 1792.9V1792.25A2.25 2.25 0 0 1 1602.71 1790H1606.01A2.25 2.25 0 0 1 1608.26 1792.25V1792.9A1.6 1.6 0 0 1 1606.66 1794.5H1602.06A1.6 1.6 0 0 1 1600.46 1792.9ZM1609.26 1792.9V1791A3.5 3.5 0 0 1 1612.76 1787.5H1613.56A3.5 3.5 0 0 1 1617.06 1791V1792.9A1.6 1.6 0 0 1 1615.46 1794.5H1610.86A1.6 1.6 0 0 1 1609.26 1792.9ZM1618.07 1792.9V1755.1A3.9 3.9 0 0 1 1621.97 1751.2H1621.96A3.9 3.9 0 0 1 1625.87 1755.1V1792.9A1.6 1.6 0 0 1 1624.27 1794.5H1619.66A1.6 1.6 0 0 1 1618.07 1792.9ZM1626.87 1792.9V1792.65A1.85 1.85 0 0 1 1628.72 1790.8H1632.82A1.85 1.85 0 0 1 1634.67 1792.65V1792.9A1.6 1.6 0 0 1 1633.07 1794.5H1628.47A1.6 1.6 0 0 1 1626.87 1792.9ZM1635.67 1793.75V1793.75A0.75 0.75 0 0 1 1636.42 1793H1642.72A0.75 0.75 0 0 1 1643.47 1793.75V1793.75A0.75 0.75 0 0 1 1642.72 1794.5H1636.42A0.75 0.75 0 0 1 1635.67 1793.75ZM1644.47 1793.6V1793.6A0.9 0.9 0 0 1 1645.37 1792.7H1651.37A0.9 0.9 0 0 1 1652.27 1793.6V1793.6A0.9 0.9 0 0 1 1651.37 1794.5H1645.37A0.9 0.9 0 0 1 1644.47 1793.6ZM1653.28 1792.9V1792.9A1.6 1.6 0 0 1 1654.88 1791.3H1659.48A1.6 1.6 0 0 1 1661.08 1792.9V1792.9A1.6 1.6 0 0 1 1659.48 1794.5H1654.88A1.6 1.6 0 0 1 1653.28 1792.9ZM1662.08 1792.9V1791.2A3.3 3.3 0 0 1 1665.38 1787.9H1666.58A3.3 3.3 0 0 1 1669.88 1791.2V1792.9A1.6 1.6 0 0 1 1668.28 1794.5H1663.68A1.6 1.6 0 0 1 1662.08 1792.9ZM1670.88 1792.9V1788.6A3.9 3.9 0 0 1 1674.78 1784.7H1674.78A3.9 3.9 0 0 1 1678.68 1788.6V1792.9A1.6 1.6 0 0 1 1677.08 1794.5H1672.48A1.6 1.6 0 0 1 1670.88 1792.9ZM1679.69 1792.9V1769.7A3.9 3.9 0 0 1 1683.59 1765.8H1683.59A3.9 3.9 0 0 1 1687.49 1769.7V1792.9A1.6 1.6 0 0 1 1685.89 1794.5H1681.29A1.6 1.6 0 0 1 1679.69 1792.9ZM1688.49 1792.9V1770.3A3.9 3.9 0 0 1 1692.39 1766.4H1692.39A3.9 3.9 0 0 1 1696.29 1770.3V1792.9A1.6 1.6 0 0 1 1694.69 1794.5H1690.09A1.6 1.6 0 0 1 1688.49 1792.9ZM1697.29 1792.9V1791.95A2.55 2.55 0 0 1 1699.84 1789.4H1702.54A2.55 2.55 0 0 1 1705.09 1791.95V1792.9A1.6 1.6 0 0 1 1703.49 1794.5H1698.89A1.6 1.6 0 0 1 1697.29 1792.9ZM1706.1 1792.9V1790.75A3.75 3.75 0 0 1 1709.85 1787H1710.14A3.75 3.75 0 0 1 1713.89 1790.75V1792.9A1.6 1.6 0 0 1 1712.3 1794.5H1707.69A1.6 1.6 0 0 1 1706.1 1792.9ZM1714.9 1792.9V1790.75A3.75 3.75 0 0 1 1718.65 1787H1718.95A3.75 3.75 0 0 1 1722.7 1790.75V1792.9A1.6 1.6 0 0 1 1721.1 1794.5H1716.5A1.6 1.6 0 0 1 1714.9 1792.9ZM1723.7 1792.9V1782.9A3.9 3.9 0 0 1 1727.6 1779H1727.6A3.9 3.9 0 0 1 1731.5 1782.9V1792.9A1.6 1.6 0 0 1 1729.9 1794.5H1725.3A1.6 1.6 0 0 1 1723.7 1792.9ZM1732.5 1792.9V1791.2A3.3 3.3 0 0 1 1735.8 1787.9H1737A3.3 3.3 0 0 1 1740.3 1791.2V1792.9A1.6 1.6 0 0 1 1738.7 1794.5H1734.1A1.6 1.6 0 0 1 1732.5 1792.9ZM1741.31 1793.4V1793.4A1.1 1.1 0 0 1 1742.41 1792.3H1748.01A1.1 1.1 0 0 1 1749.11 1793.4V1793.4A1.1 1.1 0 0 1 1748.01 1794.5H1742.41A1.1 1.1 0 0 1 1741.31 1793.4ZM1750.11 1792.9V1777.6A3.9 3.9 0 0 1 1754.01 1773.7H1754.01A3.9 3.9 0 0 1 1757.91 1777.6V1792.9A1.6 1.6 0 0 1 1756.31 1794.5H1751.71A1.6 1.6 0 0 1 1750.11 1792.9ZM1758.91 1792.9V1770.9A3.9 3.9 0 0 1 1762.81 1767H1762.81A3.9 3.9 0 0 1 1766.71 1770.9V1792.9A1.6 1.6 0 0 1 1765.11 1794.5H1760.51A1.6 1.6 0 0 1 1758.91 1792.9ZM1767.72 1792.9V1772.2A3.9 3.9 0 0 1 1771.62 1768.3H1771.62A3.9 3.9 0 0 1 1775.52 1772.2V1792.9A1.6 1.6 0 0 1 1773.92 1794.5H1769.32A1.6 1.6 0 0 1 1767.72 1792.9ZM1776.52 1792.9V1791.85A2.65 2.65 0 0 1 1779.17 1789.2H1781.67A2.65 2.65 0 0 1 1784.32 1791.85V1792.9A1.6 1.6 0 0 1 1782.72 1794.5H1778.12A1.6 1.6 0 0 1 1776.52 1792.9ZM1785.32 1792.9V1792.8A1.7 1.7 0 0 1 1787.02 1791.1H1791.42A1.7 1.7 0 0 1 1793.12 1792.8V1792.9A1.6 1.6 0 0 1 1791.52 1794.5H1786.92A1.6 1.6 0 0 1 1785.32 1792.9ZM1794.12 1792.9V1792.15A2.35 2.35 0 0 1 1796.47 1789.8H1799.57A2.35 2.35 0 0 1 1801.92 1792.15V1792.9A1.6 1.6 0 0 1 1800.33 1794.5H1795.72A1.6 1.6 0 0 1 1794.12 1792.9ZM1802.93 1792.9V1791.4A3.1 3.1 0 0 1 1806.03 1788.3H1807.63A3.1 3.1 0 0 1 1810.73 1791.4V1792.9A1.6 1.6 0 0 1 1809.13 1794.5H1804.53A1.6 1.6 0 0 1 1802.93 1792.9ZM1811.73 1792.9V1792.45A2.05 2.05 0 0 1 1813.78 1790.4H1817.48A2.05 2.05 0 0 1 1819.53 1792.45V1792.9A1.6 1.6 0 0 1 1817.93 1794.5H1813.33A1.6 1.6 0 0 1 1811.73 1792.9ZM1820.53 1793.75V1793.75A0.75 0.75 0 0 1 1821.28 1793H1827.58A0.75 0.75 0 0 1 1828.33 1793.75V1793.75A0.75 0.75 0 0 1 1827.58 1794.5H1821.28A0.75 0.75 0 0 1 1820.53 1793.75ZM1829.34 1793.75V1793.75A0.75 0.75 0 0 1 1830.09 1793H1836.39A0.75 0.75 0 0 1 1837.14 1793.75V1793.75A0.75 0.75 0 0 1 1836.39 1794.5H1830.09A0.75 0.75 0 0 1 1829.34 1793.75ZM1838.14 1792.9V1791.95A2.55 2.55 0 0 1 1840.69 1789.4H1843.39A2.55 2.55 0 0 1 1845.94 1791.95V1792.9A1.6 1.6 0 0 1 1844.34 1794.5H1839.74A1.6 1.6 0 0 1 1838.14 1792.9ZM1846.94 1792.9V1788.4A3.9 3.9 0 0 1 1850.84 1784.5H1850.84A3.9 3.9 0 0 1 1854.74 1788.4V1792.9A1.6 1.6 0 0 1 1853.14 1794.5H1848.54A1.6 1.6 0 0 1 1846.94 1792.9ZM1855.75 1793.25V1793.25A1.25 1.25 0 0 1 1857 1792H1862.3A1.25 1.25 0 0 1 1863.55 1793.25V1793.25A1.25 1.25 0 0 1 1862.3 1794.5H1857A1.25 1.25 0 0 1 1855.75 1793.25ZM1864.55 1792.9V1792.35A2.15 2.15 0 0 1 1866.7 1790.2H1870.2A2.15 2.15 0 0 1 1872.35 1792.35V1792.9A1.6 1.6 0 0 1 1870.75 1794.5H1866.15A1.6 1.6 0 0 1 1864.55 1792.9ZM1873.35 1792.9V1789.9A3.9 3.9 0 0 1 1877.25 1786H1877.25A3.9 3.9 0 0 1 1881.15 1789.9V1792.9A1.6 1.6 0 0 1 1879.55 1794.5H1874.95A1.6 1.6 0 0 1 1873.35 1792.9ZM1882.15 1793.6V1793.6A0.9 0.9 0 0 1 1883.05 1792.7H1889.05A0.9 0.9 0 0 1 1889.95 1793.6V1793.6A0.9 0.9 0 0 1 1889.05 1794.5H1883.05A0.9 0.9 0 0 1 1882.15 1793.6ZM1890.96 1793.85V1793.85A0.65 0.65 0 0 1 1891.61 1793.2H1898.11A0.65 0.65 0 0 1 1898.76 1793.85V1793.85A0.65 0.65 0 0 1 1898.11 1794.5H1891.61A0.65 0.65 0 0 1 1890.96 1793.85ZM1899.76 1792.9V1791.85A2.65 2.65 0 0 1 1902.41 1789.2H1904.91A2.65 2.65 0 0 1 1907.56 1791.85V1792.9A1.6 1.6 0 0 1 1905.96 1794.5H1901.36A1.6 1.6 0 0 1 1899.76 1792.9ZM1908.56 1793.6V1793.6A0.9 0.9 0 0 1 1909.46 1792.7H1915.46A0.9 0.9 0 0 1 1916.36 1793.6V1793.6A0.9 0.9 0 0 1 1915.46 1794.5H1909.46A0.9 0.9 0 0 1 1908.56 1793.6ZM1917.37 1793.25V1793.25A1.25 1.25 0 0 1 1918.62 1792H1923.92A1.25 1.25 0 0 1 1925.17 1793.25V1793.25A1.25 1.25 0 0 1 1923.92 1794.5H1918.62A1.25 1.25 0 0 1 1917.37 1793.25ZM1926.17 1792.9V1792.15A2.35 2.35 0 0 1 1928.52 1789.8H1931.62A2.35 2.35 0 0 1 1933.97 1792.15V1792.9A1.6 1.6 0 0 1 1932.37 1794.5H1927.77A1.6 1.6 0 0 1 1926.17 1792.9ZM1934.97 1792.9V1784.8A3.9 3.9 0 0 1 1938.87 1780.9H1938.87A3.9 3.9 0 0 1 1942.77 1784.8V1792.9A1.6 1.6 0 0 1 1941.17 1794.5H1936.57A1.6 1.6 0 0 1 1934.97 1792.9ZM1943.78 1792.9V1791A3.5 3.5 0 0 1 1947.28 1787.5H1948.08A3.5 3.5 0 0 1 1951.58 1791V1792.9A1.6 1.6 0 0 1 1949.98 1794.5H1945.38A1.6 1.6 0 0 1 1943.78 1792.9ZM1952.58 1792.9V1792.3A2.2 2.2 0 0 1 1954.78 1790.1H1958.18A2.2 2.2 0 0 1 1960.38 1792.3V1792.9A1.6 1.6 0 0 1 1958.78 1794.5H1954.18A1.6 1.6 0 0 1 1952.58 1792.9ZM1961.38 1792.9V1788.4A3.9 3.9 0 0 1 1965.28 1784.5H1965.28A3.9 3.9 0 0 1 1969.18 1788.4V1792.9A1.6 1.6 0 0 1 1967.58 1794.5H1962.98A1.6 1.6 0 0 1 1961.38 1792.9ZM1970.19 1792.9V1780.4A3.9 3.9 0 0 1 1974.09 1776.5H1974.09A3.9 3.9 0 0 1 1977.99 1780.4V1792.9A1.6 1.6 0 0 1 1976.39 1794.5H1971.79A1.6 1.6 0 0 1 1970.19 1792.9ZM1978.99 1792.9V1791.85A2.65 2.65 0 0 1 1981.64 1789.2H1984.14A2.65 2.65 0 0 1 1986.79 1791.85V1792.9A1.6 1.6 0 0 1 1985.19 1794.5H1980.59A1.6 1.6 0 0 1 1978.99 1792.9ZM1987.79 1792.9V1785.9A3.9 3.9 0 0 1 1991.69 1782H1991.69A3.9 3.9 0 0 1 1995.59 1785.9V1792.9A1.6 1.6 0 0 1 1993.99 1794.5H1989.39A1.6 1.6 0 0 1 1987.79 1792.9ZM1996.59 1792.9V1771.8A3.9 3.9 0 0 1 2000.49 1767.9H2000.49A3.9 3.9 0 0 1 2004.39 1771.8V1792.9A1.6 1.6 0 0 1 2002.79 1794.5H1998.19A1.6 1.6 0 0 1 1996.59 1792.9ZM2005.4 1792.9V1792.45A2.05 2.05 0 0 1 2007.45 1790.4H2011.15A2.05 2.05 0 0 1 2013.2 1792.45V1792.9A1.6 1.6 0 0 1 2011.6 1794.5H2007A1.6 1.6 0 0 1 2005.4 1792.9ZM2014.2 1792.9V1791A3.5 3.5 0 0 1 2017.7 1787.5H2018.5A3.5 3.5 0 0 1 2022 1791V1792.9A1.6 1.6 0 0 1 2020.4 1794.5H2015.8A1.6 1.6 0 0 1 2014.2 1792.9ZM2023 1792.9V1788A3.9 3.9 0 0 1 2026.9 1784.1H2026.9A3.9 3.9 0 0 1 2030.8 1788V1792.9A1.6 1.6 0 0 1 2029.2 1794.5H2024.6A1.6 1.6 0 0 1 2023 1792.9ZM2031.81 1792.9V1782.9A3.9 3.9 0 0 1 2035.71 1779H2035.71A3.9 3.9 0 0 1 2039.61 1782.9V1792.9A1.6 1.6 0 0 1 2038.01 1794.5H2033.41A1.6 1.6 0 0 1 2031.81 1792.9ZM2040.61 1792.9V1767.8A3.9 3.9 0 0 1 2044.51 1763.9H2044.51A3.9 3.9 0 0 1 2048.41 1767.8V1792.9A1.6 1.6 0 0 1 2046.81 1794.5H2042.21A1.6 1.6 0 0 1 2040.61 1792.9ZM2049.41 1792.9V1780.4A3.9 3.9 0 0 1 2053.31 1776.5H2053.31A3.9 3.9 0 0 1 2057.21 1780.4V1792.9A1.6 1.6 0 0 1 2055.61 1794.5H2051.01A1.6 1.6 0 0 1 2049.41 1792.9ZM2058.22 1792.9V1780.2A3.9 3.9 0 0 1 2062.12 1776.3H2062.12A3.9 3.9 0 0 1 2066.02 1780.2V1792.9A1.6 1.6 0 0 1 2064.42 1794.5H2059.82A1.6 1.6 0 0 1 2058.22 1792.9ZM2067.02 1793.6V1793.6A0.9 0.9 0 0 1 2067.92 1792.7H2073.92A0.9 0.9 0 0 1 2074.82 1793.6V1793.6A0.9 0.9 0 0 1 2073.92 1794.5H2067.92A0.9 0.9 0 0 1 2067.02 1793.6ZM2075.82 1792.9V1792.9A1.6 1.6 0 0 1 2077.42 1791.3H2082.02A1.6 1.6 0 0 1 2083.62 1792.9V1792.9A1.6 1.6 0 0 1 2082.02 1794.5H2077.42A1.6 1.6 0 0 1 2075.82 1792.9ZM2084.62 1792.9V1779.1A3.9 3.9 0 0 1 2088.52 1775.2H2088.52A3.9 3.9 0 0 1 2092.42 1779.1V1792.9A1.6 1.6 0 0 1 2090.82 1794.5H2086.22A1.6 1.6 0 0 1 2084.62 1792.9ZM2093.43 1792.9V1782.6A3.9 3.9 0 0 1 2097.33 1778.7H2097.33A3.9 3.9 0 0 1 2101.23 1782.6V1792.9A1.6 1.6 0 0 1 2099.63 1794.5H2095.03A1.6 1.6 0 0 1 2093.43 1792.9ZM2102.23 1792.9V1770.9A3.9 3.9 0 0 1 2106.13 1767H2106.13A3.9 3.9 0 0 1 2110.03 1770.9V1792.9A1.6 1.6 0 0 1 2108.43 1794.5H2103.83A1.6 1.6 0 0 1 2102.23 1792.9ZM2111.03 1792.9V1778.3A3.9 3.9 0 0 1 2114.93 1774.4H2114.93A3.9 3.9 0 0 1 2118.83 1778.3V1792.9A1.6 1.6 0 0 1 2117.23 1794.5H2112.63A1.6 1.6 0 0 1 2111.03 1792.9ZM2119.84 1792.9V1723.5A3.9 3.9 0 0 1 2123.74 1719.6H2123.74A3.9 3.9 0 0 1 2127.64 1723.5V1792.9A1.6 1.6 0 0 1 2126.04 1794.5H2121.44A1.6 1.6 0 0 1 2119.84 1792.9ZM2128.64 1792.9V1778.3A3.9 3.9 0 0 1 2132.54 1774.4H2132.54A3.9 3.9 0 0 1 2136.44 1778.3V1792.9A1.6 1.6 0 0 1 2134.84 1794.5H2130.24A1.6 1.6 0 0 1 2128.64 1792.9ZM2137.44 1792.9V1792.85A1.65 1.65 0 0 1 2139.09 1791.2H2143.59A1.65 1.65 0 0 1 2145.24 1792.85V1792.9A1.6 1.6 0 0 1 2143.64 1794.5H2139.04A1.6 1.6 0 0 1 2137.44 1792.9ZM2146.25 1792.9V1788.8A3.9 3.9 0 0 1 2150.15 1784.9H2150.15A3.9 3.9 0 0 1 2154.05 1788.8V1792.9A1.6 1.6 0 0 1 2152.45 1794.5H2147.85A1.6 1.6 0 0 1 2146.25 1792.9ZM2155.05 1792.9V1780.4A3.9 3.9 0 0 1 2158.95 1776.5H2158.95A3.9 3.9 0 0 1 2162.85 1780.4V1792.9A1.6 1.6 0 0 1 2161.25 1794.5H2156.65A1.6 1.6 0 0 1 2155.05 1792.9ZM2163.85 1792.9V1792.3A2.2 2.2 0 0 1 2166.05 1790.1H2169.45A2.2 2.2 0 0 1 2171.65 1792.3V1792.9A1.6 1.6 0 0 1 2170.05 1794.5H2165.45A1.6 1.6 0 0 1 2163.85 1792.9ZM2172.65 1792.9V1789.5A3.9 3.9 0 0 1 2176.55 1785.6H2176.55A3.9 3.9 0 0 1 2180.45 1789.5V1792.9A1.6 1.6 0 0 1 2178.85 1794.5H2174.25A1.6 1.6 0 0 1 2172.65 1792.9ZM2181.46 1792.9V1791.7A2.8 2.8 0 0 1 2184.26 1788.9H2186.46A2.8 2.8 0 0 1 2189.26 1791.7V1792.9A1.6 1.6 0 0 1 2187.66 1794.5H2183.06A1.6 1.6 0 0 1 2181.46 1792.9ZM2190.26 1792.9V1790.5A3.9 3.9 0 0 1 2194.16 1786.6H2194.16A3.9 3.9 0 0 1 2198.06 1790.5V1792.9A1.6 1.6 0 0 1 2196.46 1794.5H2191.86A1.6 1.6 0 0 1 2190.26 1792.9ZM2199.06 1792.9V1789A3.9 3.9 0 0 1 2202.96 1785.1H2202.96A3.9 3.9 0 0 1 2206.86 1789V1792.9A1.6 1.6 0 0 1 2205.26 1794.5H2200.66A1.6 1.6 0 0 1 2199.06 1792.9ZM2207.87 1792.9V1772.2A3.9 3.9 0 0 1 2211.77 1768.3H2211.77A3.9 3.9 0 0 1 2215.67 1772.2V1792.9A1.6 1.6 0 0 1 2214.07 1794.5H2209.47A1.6 1.6 0 0 1 2207.87 1792.9ZM2216.67 1792.9V1789.7A3.9 3.9 0 0 1 2220.57 1785.8H2220.57A3.9 3.9 0 0 1 2224.47 1789.7V1792.9A1.6 1.6 0 0 1 2222.87 1794.5H2218.27A1.6 1.6 0 0 1 2216.67 1792.9ZM2225.47 1792.9V1790.2A3.9 3.9 0 0 1 2229.37 1786.3H2229.37A3.9 3.9 0 0 1 2233.27 1790.2V1792.9A1.6 1.6 0 0 1 2231.67 1794.5H2227.07A1.6 1.6 0 0 1 2225.47 1792.9ZM2234.28 1792.9V1715.2A3.9 3.9 0 0 1 2238.18 1711.3H2238.18A3.9 3.9 0 0 1 2242.08 1715.2V1792.9A1.6 1.6 0 0 1 2240.48 1794.5H2235.88A1.6 1.6 0 0 1 2234.28 1792.9ZM2243.08 1792.9V1775.7A3.9 3.9 0 0 1 2246.98 1771.8H2246.98A3.9 3.9 0 0 1 2250.88 1775.7V1792.9A1.6 1.6 0 0 1 2249.28 1794.5H2244.68A1.6 1.6 0 0 1 2243.08 1792.9ZM2251.88 1793.4V1793.4A1.1 1.1 0 0 1 2252.98 1792.3H2258.58A1.1 1.1 0 0 1 2259.68 1793.4V1793.4A1.1 1.1 0 0 1 2258.58 1794.5H2252.98A1.1 1.1 0 0 1 2251.88 1793.4ZM2260.68 1792.9V1791.35A3.15 3.15 0 0 1 2263.83 1788.2H2265.33A3.15 3.15 0 0 1 2268.48 1791.35V1792.9A1.6 1.6 0 0 1 2266.88 1794.5H2262.28A1.6 1.6 0 0 1 2260.68 1792.9ZM2269.49 1792.9V1759.9A3.9 3.9 0 0 1 2273.39 1756H2273.39A3.9 3.9 0 0 1 2277.29 1759.9V1792.9A1.6 1.6 0 0 1 2275.69 1794.5H2271.09A1.6 1.6 0 0 1 2269.49 1792.9ZM2278.29 1792.9V1760.4A3.9 3.9 0 0 1 2282.19 1756.5H2282.19A3.9 3.9 0 0 1 2286.09 1760.4V1792.9A1.6 1.6 0 0 1 2284.49 1794.5H2279.89A1.6 1.6 0 0 1 2278.29 1792.9ZM2287.09 1792.9V1790.9A3.6 3.6 0 0 1 2290.69 1787.3H2291.29A3.6 3.6 0 0 1 2294.89 1790.9V1792.9A1.6 1.6 0 0 1 2293.29 1794.5H2288.69A1.6 1.6 0 0 1 2287.09 1792.9ZM2295.9 1792.9V1789.7A3.9 3.9 0 0 1 2299.8 1785.8H2299.8A3.9 3.9 0 0 1 2303.7 1789.7V1792.9A1.6 1.6 0 0 1 2302.1 1794.5H2297.5A1.6 1.6 0 0 1 2295.9 1792.9ZM2304.7 1792.9V1780.4A3.9 3.9 0 0 1 2308.6 1776.5H2308.6A3.9 3.9 0 0 1 2312.5 1780.4V1792.9A1.6 1.6 0 0 1 2310.9 1794.5H2306.3A1.6 1.6 0 0 1 2304.7 1792.9ZM2313.5 1792.9V1790.7A3.8 3.8 0 0 1 2317.3 1786.9H2317.5A3.8 3.8 0 0 1 2321.3 1790.7V1792.9A1.6 1.6 0 0 1 2319.7 1794.5H2315.1A1.6 1.6 0 0 1 2313.5 1792.9ZM2322.31 1792.9V1757.2A3.9 3.9 0 0 1 2326.21 1753.3H2326.21A3.9 3.9 0 0 1 2330.11 1757.2V1792.9A1.6 1.6 0 0 1 2328.51 1794.5H2323.91A1.6 1.6 0 0 1 2322.31 1792.9ZM2331.11 1792.9V1731.4A3.9 3.9 0 0 1 2335.01 1727.5H2335.01A3.9 3.9 0 0 1 2338.91 1731.4V1792.9A1.6 1.6 0 0 1 2337.31 1794.5H2332.71A1.6 1.6 0 0 1 2331.11 1792.9ZM2339.91 1792.9V1775.7A3.9 3.9 0 0 1 2343.81 1771.8H2343.81A3.9 3.9 0 0 1 2347.71 1775.7V1792.9A1.6 1.6 0 0 1 2346.11 1794.5H2341.51A1.6 1.6 0 0 1 2339.91 1792.9ZM2348.71 1792.9V1789.7A3.9 3.9 0 0 1 2352.61 1785.8H2352.61A3.9 3.9 0 0 1 2356.51 1789.7V1792.9A1.6 1.6 0 0 1 2354.91 1794.5H2350.31A1.6 1.6 0 0 1 2348.71 1792.9ZM2357.52 1792.9V1788.9A3.9 3.9 0 0 1 2361.42 1785H2361.42A3.9 3.9 0 0 1 2365.32 1788.9V1792.9A1.6 1.6 0 0 1 2363.72 1794.5H2359.12A1.6 1.6 0 0 1 2357.52 1792.9ZM2366.32 1792.9V1766.9A3.9 3.9 0 0 1 2370.22 1763H2370.22A3.9 3.9 0 0 1 2374.12 1766.9V1792.9A1.6 1.6 0 0 1 2372.52 1794.5H2367.92A1.6 1.6 0 0 1 2366.32 1792.9ZM2375.12 1792.9V1791.5A3 3 0 0 1 2378.12 1788.5H2379.92A3 3 0 0 1 2382.92 1791.5V1792.9A1.6 1.6 0 0 1 2381.32 1794.5H2376.72A1.6 1.6 0 0 1 2375.12 1792.9ZM2383.93 1792.9V1790.5A3.9 3.9 0 0 1 2387.83 1786.6H2387.83A3.9 3.9 0 0 1 2391.73 1790.5V1792.9A1.6 1.6 0 0 1 2390.13 1794.5H2385.53A1.6 1.6 0 0 1 2383.93 1792.9ZM2392.73 1792.9V1769.4A3.9 3.9 0 0 1 2396.63 1765.5H2396.63A3.9 3.9 0 0 1 2400.53 1769.4V1792.9A1.6 1.6 0 0 1 2398.93 1794.5H2394.33A1.6 1.6 0 0 1 2392.73 1792.9ZM2401.53 1792.9V1789.9A3.9 3.9 0 0 1 2405.43 1786H2405.43A3.9 3.9 0 0 1 2409.33 1789.9V1792.9A1.6 1.6 0 0 1 2407.73 1794.5H2403.13A1.6 1.6 0 0 1 2401.53 1792.9ZM2410.34 1792.9V1792.65A1.85 1.85 0 0 1 2412.18 1790.8H2416.29A1.85 1.85 0 0 1 2418.14 1792.65V1792.9A1.6 1.6 0 0 1 2416.54 1794.5H2411.93A1.6 1.6 0 0 1 2410.34 1792.9ZM2419.14 1792.9V1786.1A3.9 3.9 0 0 1 2423.04 1782.2H2423.04A3.9 3.9 0 0 1 2426.94 1786.1V1792.9A1.6 1.6 0 0 1 2425.34 1794.5H2420.74A1.6 1.6 0 0 1 2419.14 1792.9ZM2427.94 1792.9V1787.6A3.9 3.9 0 0 1 2431.84 1783.7H2431.84A3.9 3.9 0 0 1 2435.74 1787.6V1792.9A1.6 1.6 0 0 1 2434.14 1794.5H2429.54A1.6 1.6 0 0 1 2427.94 1792.9ZM2436.74 1792.9V1792.8A1.7 1.7 0 0 1 2438.44 1791.1H2442.84A1.7 1.7 0 0 1 2444.54 1792.8V1792.9A1.6 1.6 0 0 1 2442.94 1794.5H2438.34A1.6 1.6 0 0 1 2436.74 1792.9ZM2445.55 1793.55V1793.55A0.95 0.95 0 0 1 2446.5 1792.6H2452.4A0.95 0.95 0 0 1 2453.35 1793.55V1793.55A0.95 0.95 0 0 1 2452.4 1794.5H2446.5A0.95 0.95 0 0 1 2445.55 1793.55ZM2454.35 1792.9V1791.7A2.8 2.8 0 0 1 2457.15 1788.9H2459.35A2.8 2.8 0 0 1 2462.15 1791.7V1792.9A1.6 1.6 0 0 1 2460.55 1794.5H2455.95A1.6 1.6 0 0 1 2454.35 1792.9ZM2463.15 1792.9V1787.6A3.9 3.9 0 0 1 2467.05 1783.7H2467.05A3.9 3.9 0 0 1 2470.95 1787.6V1792.9A1.6 1.6 0 0 1 2469.35 1794.5H2464.75A1.6 1.6 0 0 1 2463.15 1792.9ZM2471.96 1792.9V1791.7A2.8 2.8 0 0 1 2474.76 1788.9H2476.96A2.8 2.8 0 0 1 2479.76 1791.7V1792.9A1.6 1.6 0 0 1 2478.16 1794.5H2473.56A1.6 1.6 0 0 1 2471.96 1792.9ZM2480.76 1792.9V1791.85A2.65 2.65 0 0 1 2483.41 1789.2H2485.91A2.65 2.65 0 0 1 2488.56 1791.85V1792.9A1.6 1.6 0 0 1 2486.96 1794.5H2482.36A1.6 1.6 0 0 1 2480.76 1792.9ZM2489.56 1792.9V1791.2A3.3 3.3 0 0 1 2492.86 1787.9H2494.06A3.3 3.3 0 0 1 2497.36 1791.2V1792.9A1.6 1.6 0 0 1 2495.76 1794.5H2491.16A1.6 1.6 0 0 1 2489.56 1792.9ZM2498.37 1792.9V1790.9A3.6 3.6 0 0 1 2501.97 1787.3H2502.57A3.6 3.6 0 0 1 2506.17 1790.9V1792.9A1.6 1.6 0 0 1 2504.57 1794.5H2499.97A1.6 1.6 0 0 1 2498.37 1792.9ZM2507.17 1792.9V1788A3.9 3.9 0 0 1 2511.07 1784.1H2511.07A3.9 3.9 0 0 1 2514.97 1788V1792.9A1.6 1.6 0 0 1 2513.37 1794.5H2508.77A1.6 1.6 0 0 1 2507.17 1792.9ZM2515.97 1792.9V1774.7A3.9 3.9 0 0 1 2519.87 1770.8H2519.87A3.9 3.9 0 0 1 2523.77 1774.7V1792.9A1.6 1.6 0 0 1 2522.17 1794.5H2517.57A1.6 1.6 0 0 1 2515.97 1792.9ZM2524.77 1792.9V1792.05A2.45 2.45 0 0 1 2527.22 1789.6H2530.12A2.45 2.45 0 0 1 2532.57 1792.05V1792.9A1.6 1.6 0 0 1 2530.97 1794.5H2526.37A1.6 1.6 0 0 1 2524.77 1792.9ZM2533.58 1792.9V1787A3.9 3.9 0 0 1 2537.48 1783.1H2537.48A3.9 3.9 0 0 1 2541.38 1787V1792.9A1.6 1.6 0 0 1 2539.78 1794.5H2535.18A1.6 1.6 0 0 1 2533.58 1792.9ZM2542.38 1792.9V1792.6A1.9 1.9 0 0 1 2544.28 1790.7H2548.28A1.9 1.9 0 0 1 2550.18 1792.6V1792.9A1.6 1.6 0 0 1 2548.58 1794.5H2543.98A1.6 1.6 0 0 1 2542.38 1792.9ZM2551.18 1792.9V1782.9A3.9 3.9 0 0 1 2555.08 1779H2555.08A3.9 3.9 0 0 1 2558.98 1782.9V1792.9A1.6 1.6 0 0 1 2557.38 1794.5H2552.78A1.6 1.6 0 0 1 2551.18 1792.9ZM2559.99 1793.1V1793.1A1.4 1.4 0 0 1 2561.39 1791.7H2566.39A1.4 1.4 0 0 1 2567.79 1793.1V1793.1A1.4 1.4 0 0 1 2566.39 1794.5H2561.39A1.4 1.4 0 0 1 2559.99 1793.1ZM2568.79 1792.9V1790.75A3.75 3.75 0 0 1 2572.54 1787H2572.84A3.75 3.75 0 0 1 2576.59 1790.75V1792.9A1.6 1.6 0 0 1 2574.99 1794.5H2570.39A1.6 1.6 0 0 1 2568.79 1792.9ZM2577.59 1792.9V1649.9A3.9 3.9 0 0 1 2581.49 1646H2581.49A3.9 3.9 0 0 1 2585.39 1649.9V1792.9A1.6 1.6 0 0 1 2583.79 1794.5H2579.19A1.6 1.6 0 0 1 2577.59 1792.9ZM2586.39 1792.9V1786.7A3.9 3.9 0 0 1 2590.3 1782.8H2590.3A3.9 3.9 0 0 1 2594.2 1786.7V1792.9A1.6 1.6 0 0 1 2592.6 1794.5H2587.99A1.6 1.6 0 0 1 2586.39 1792.9ZM2595.2 1792.9V1784.8A3.9 3.9 0 0 1 2599.1 1780.9H2599.1A3.9 3.9 0 0 1 2603 1784.8V1792.9A1.6 1.6 0 0 1 2601.4 1794.5H2596.8A1.6 1.6 0 0 1 2595.2 1792.9ZM2604 1792.9V1744.3A3.9 3.9 0 0 1 2607.9 1740.4H2607.9A3.9 3.9 0 0 1 2611.8 1744.3V1792.9A1.6 1.6 0 0 1 2610.2 1794.5H2605.6A1.6 1.6 0 0 1 2604 1792.9ZM2612.8 1792.9V1791.35A3.15 3.15 0 0 1 2615.95 1788.2H2617.45A3.15 3.15 0 0 1 2620.6 1791.35V1792.9A1.6 1.6 0 0 1 2619 1794.5H2614.4A1.6 1.6 0 0 1 2612.8 1792.9ZM2621.61 1792.9V1792.05A2.45 2.45 0 0 1 2624.06 1789.6H2626.96A2.45 2.45 0 0 1 2629.41 1792.05V1792.9A1.6 1.6 0 0 1 2627.81 1794.5H2623.21A1.6 1.6 0 0 1 2621.61 1792.9ZM2630.41 1792.9V1792.8A1.7 1.7 0 0 1 2632.11 1791.1H2636.51A1.7 1.7 0 0 1 2638.21 1792.8V1792.9A1.6 1.6 0 0 1 2636.61 1794.5H2632.01A1.6 1.6 0 0 1 2630.41 1792.9ZM2639.21 1792.9V1791.85A2.65 2.65 0 0 1 2641.86 1789.2H2644.36A2.65 2.65 0 0 1 2647.01 1791.85V1792.9A1.6 1.6 0 0 1 2645.41 1794.5H2640.81A1.6 1.6 0 0 1 2639.21 1792.9ZM2648.02 1792.9V1787A3.9 3.9 0 0 1 2651.92 1783.1H2651.92A3.9 3.9 0 0 1 2655.82 1787V1792.9A1.6 1.6 0 0 1 2654.22 1794.5H2649.62A1.6 1.6 0 0 1 2648.02 1792.9ZM2656.82 1792.9V1791.7A2.8 2.8 0 0 1 2659.62 1788.9H2661.82A2.8 2.8 0 0 1 2664.62 1791.7V1792.9A1.6 1.6 0 0 1 2663.02 1794.5H2658.42A1.6 1.6 0 0 1 2656.82 1792.9ZM2665.62 1792.9V1791.7A2.8 2.8 0 0 1 2668.42 1788.9H2670.62A2.8 2.8 0 0 1 2673.42 1791.7V1792.9A1.6 1.6 0 0 1 2671.82 1794.5H2667.22A1.6 1.6 0 0 1 2665.62 1792.9ZM2674.43 1792.9V1789.3A3.9 3.9 0 0 1 2678.33 1785.4H2678.33A3.9 3.9 0 0 1 2682.23 1789.3V1792.9A1.6 1.6 0 0 1 2680.63 1794.5H2676.03A1.6 1.6 0 0 1 2674.43 1792.9ZM2683.23 1792.9V1791.5A3 3 0 0 1 2686.23 1788.5H2688.03A3 3 0 0 1 2691.03 1791.5V1792.9A1.6 1.6 0 0 1 2689.43 1794.5H2684.83A1.6 1.6 0 0 1 2683.23 1792.9ZM2692.03 1792.9V1790.5A3.9 3.9 0 0 1 2695.93 1786.6H2695.93A3.9 3.9 0 0 1 2699.83 1790.5V1792.9A1.6 1.6 0 0 1 2698.23 1794.5H2693.63A1.6 1.6 0 0 1 2692.03 1792.9ZM2700.83 1792.9V1792.05A2.45 2.45 0 0 1 2703.28 1789.6H2706.18A2.45 2.45 0 0 1 2708.63 1792.05V1792.9A1.6 1.6 0 0 1 2707.03 1794.5H2702.43A1.6 1.6 0 0 1 2700.83 1792.9ZM2709.64 1792.9V1775.7A3.9 3.9 0 0 1 2713.54 1771.8H2713.54A3.9 3.9 0 0 1 2717.44 1775.7V1792.9A1.6 1.6 0 0 1 2715.84 1794.5H2711.24A1.6 1.6 0 0 1 2709.64 1792.9ZM2718.44 1792.9V1790.75A3.75 3.75 0 0 1 2722.19 1787H2722.49A3.75 3.75 0 0 1 2726.24 1790.75V1792.9A1.6 1.6 0 0 1 2724.64 1794.5H2720.04A1.6 1.6 0 0 1 2718.44 1792.9ZM2727.24 1792.9V1772.4A3.9 3.9 0 0 1 2731.14 1768.5H2731.14A3.9 3.9 0 0 1 2735.04 1772.4V1792.9A1.6 1.6 0 0 1 2733.44 1794.5H2728.84A1.6 1.6 0 0 1 2727.24 1792.9ZM2736.05 1792.9V965.9A3.9 3.9 0 0 1 2739.95 962H2739.95A3.9 3.9 0 0 1 2743.85 965.9V1792.9A1.6 1.6 0 0 1 2742.25 1794.5H2737.65A1.6 1.6 0 0 1 2736.05 1792.9ZM2744.85 1792.9V1773.8A3.9 3.9 0 0 1 2748.75 1769.9H2748.75A3.9 3.9 0 0 1 2752.65 1773.8V1792.9A1.6 1.6 0 0 1 2751.05 1794.5H2746.45A1.6 1.6 0 0 1 2744.85 1792.9ZM2753.65 1792.9V1788A3.9 3.9 0 0 1 2757.55 1784.1H2757.55A3.9 3.9 0 0 1 2761.45 1788V1792.9A1.6 1.6 0 0 1 2759.85 1794.5H2755.25A1.6 1.6 0 0 1 2753.65 1792.9ZM2762.45 1792.9V1789.3A3.9 3.9 0 0 1 2766.36 1785.4H2766.36A3.9 3.9 0 0 1 2770.26 1789.3V1792.9A1.6 1.6 0 0 1 2768.66 1794.5H2764.05A1.6 1.6 0 0 1 2762.45 1792.9ZM2771.26 1792.9V1774.7A3.9 3.9 0 0 1 2775.16 1770.8H2775.16A3.9 3.9 0 0 1 2779.06 1774.7V1792.9A1.6 1.6 0 0 1 2777.46 1794.5H2772.86A1.6 1.6 0 0 1 2771.26 1792.9ZM2780.06 1792.9V1784.5A3.9 3.9 0 0 1 2783.96 1780.6H2783.96A3.9 3.9 0 0 1 2787.86 1784.5V1792.9A1.6 1.6 0 0 1 2786.26 1794.5H2781.66A1.6 1.6 0 0 1 2780.06 1792.9ZM2788.86 1792.9V1772.2A3.9 3.9 0 0 1 2792.76 1768.3H2792.76A3.9 3.9 0 0 1 2796.66 1772.2V1792.9A1.6 1.6 0 0 1 2795.06 1794.5H2790.46A1.6 1.6 0 0 1 2788.86 1792.9ZM2797.67 1792.9V1768.1A3.9 3.9 0 0 1 2801.57 1764.2H2801.57A3.9 3.9 0 0 1 2805.47 1768.1V1792.9A1.6 1.6 0 0 1 2803.87 1794.5H2799.27A1.6 1.6 0 0 1 2797.67 1792.9ZM2806.47 1792.9V1792.9A1.6 1.6 0 0 1 2808.07 1791.3H2812.67A1.6 1.6 0 0 1 2814.27 1792.9V1792.9A1.6 1.6 0 0 1 2812.67 1794.5H2808.07A1.6 1.6 0 0 1 2806.47 1792.9ZM2815.27 1792.9V1792.3A2.2 2.2 0 0 1 2817.47 1790.1H2820.87A2.2 2.2 0 0 1 2823.07 1792.3V1792.9A1.6 1.6 0 0 1 2821.47 1794.5H2816.87A1.6 1.6 0 0 1 2815.27 1792.9ZM2824.08 1792.9V1788.4A3.9 3.9 0 0 1 2827.98 1784.5H2827.98A3.9 3.9 0 0 1 2831.88 1788.4V1792.9A1.6 1.6 0 0 1 2830.28 1794.5H2825.68A1.6 1.6 0 0 1 2824.08 1792.9ZM2832.88 1792.9V1777A3.9 3.9 0 0 1 2836.78 1773.1H2836.78A3.9 3.9 0 0 1 2840.68 1777V1792.9A1.6 1.6 0 0 1 2839.08 1794.5H2834.48A1.6 1.6 0 0 1 2832.88 1792.9ZM2841.68 1792.9V1778.8A3.9 3.9 0 0 1 2845.58 1774.9H2845.58A3.9 3.9 0 0 1 2849.48 1778.8V1792.9A1.6 1.6 0 0 1 2847.88 1794.5H2843.28A1.6 1.6 0 0 1 2841.68 1792.9ZM2850.49 1792.9V1792.35A2.15 2.15 0 0 1 2852.64 1790.2H2856.14A2.15 2.15 0 0 1 2858.29 1792.35V1792.9A1.6 1.6 0 0 1 2856.69 1794.5H2852.09A1.6 1.6 0 0 1 2850.49 1792.9ZM2859.29 1792.9V1792.3A2.2 2.2 0 0 1 2861.49 1790.1H2864.89A2.2 2.2 0 0 1 2867.09 1792.3V1792.9A1.6 1.6 0 0 1 2865.49 1794.5H2860.89A1.6 1.6 0 0 1 2859.29 1792.9ZM2868.09 1793.75V1793.75A0.75 0.75 0 0 1 2868.84 1793H2875.14A0.75 0.75 0 0 1 2875.89 1793.75V1793.75A0.75 0.75 0 0 1 2875.14 1794.5H2868.84A0.75 0.75 0 0 1 2868.09 1793.75ZM2876.89 1792.9V1792.9A1.6 1.6 0 0 1 2878.49 1791.3H2883.09A1.6 1.6 0 0 1 2884.69 1792.9V1792.9A1.6 1.6 0 0 1 2883.09 1794.5H2878.49A1.6 1.6 0 0 1 2876.89 1792.9ZM2885.7 1792.9V1789.7A3.9 3.9 0 0 1 2889.6 1785.8H2889.6A3.9 3.9 0 0 1 2893.5 1789.7V1792.9A1.6 1.6 0 0 1 2891.9 1794.5H2887.3A1.6 1.6 0 0 1 2885.7 1792.9ZM2894.5 1792.9V1779.1A3.9 3.9 0 0 1 2898.4 1775.2H2898.4A3.9 3.9 0 0 1 2902.3 1779.1V1792.9A1.6 1.6 0 0 1 2900.7 1794.5H2896.1A1.6 1.6 0 0 1 2894.5 1792.9ZM2903.3 1792.9V1776A3.9 3.9 0 0 1 2907.2 1772.1H2907.2A3.9 3.9 0 0 1 2911.1 1776V1792.9A1.6 1.6 0 0 1 2909.5 1794.5H2904.9A1.6 1.6 0 0 1 2903.3 1792.9ZM2912.11 1792.9V1750.9A3.9 3.9 0 0 1 2916.01 1747H2916.01A3.9 3.9 0 0 1 2919.91 1750.9V1792.9A1.6 1.6 0 0 1 2918.31 1794.5H2913.71A1.6 1.6 0 0 1 2912.11 1792.9ZM2920.91 1792.9V1791.8A2.7 2.7 0 0 1 2923.61 1789.1H2926.01A2.7 2.7 0 0 1 2928.71 1791.8V1792.9A1.6 1.6 0 0 1 2927.11 1794.5H2922.51A1.6 1.6 0 0 1 2920.91 1792.9ZM2929.71 1793.35V1793.35A1.15 1.15 0 0 1 2930.86 1792.2H2936.36A1.15 1.15 0 0 1 2937.51 1793.35V1793.35A1.15 1.15 0 0 1 2936.36 1794.5H2930.86A1.15 1.15 0 0 1 2929.71 1793.35ZM2938.52 1792.9V1792.1A2.4 2.4 0 0 1 2940.92 1789.7H2943.92A2.4 2.4 0 0 1 2946.32 1792.1V1792.9A1.6 1.6 0 0 1 2944.72 1794.5H2940.12A1.6 1.6 0 0 1 2938.52 1792.9ZM2947.32 1792.9V1740.9A3.9 3.9 0 0 1 2951.22 1737H2951.22A3.9 3.9 0 0 1 2955.12 1740.9V1792.9A1.6 1.6 0 0 1 2953.52 1794.5H2948.92A1.6 1.6 0 0 1 2947.32 1792.9ZM2956.12 1792.9V1717.4A3.9 3.9 0 0 1 2960.02 1713.5H2960.02A3.9 3.9 0 0 1 2963.92 1717.4V1792.9A1.6 1.6 0 0 1 2962.32 1794.5H2957.72A1.6 1.6 0 0 1 2956.12 1792.9ZM2964.92 1792.9V1790.85A3.65 3.65 0 0 1 2968.57 1787.2H2969.07A3.65 3.65 0 0 1 2972.72 1790.85V1792.9A1.6 1.6 0 0 1 2971.12 1794.5H2966.52A1.6 1.6 0 0 1 2964.92 1792.9ZM2973.73 1792.9V1778.4A3.9 3.9 0 0 1 2977.63 1774.5H2977.63A3.9 3.9 0 0 1 2981.53 1778.4V1792.9A1.6 1.6 0 0 1 2979.93 1794.5H2975.33A1.6 1.6 0 0 1 2973.73 1792.9ZM2982.53 1792.9V1786.3A3.9 3.9 0 0 1 2986.43 1782.4H2986.43A3.9 3.9 0 0 1 2990.33 1786.3V1792.9A1.6 1.6 0 0 1 2988.73 1794.5H2984.13A1.6 1.6 0 0 1 2982.53 1792.9ZM2991.33 1792.9V1789.7A3.9 3.9 0 0 1 2995.23 1785.8H2995.23A3.9 3.9 0 0 1 2999.13 1789.7V1792.9A1.6 1.6 0 0 1 2997.53 1794.5H2992.93A1.6 1.6 0 0 1 2991.33 1792.9ZM3000.14 1792.9V1792.05A2.45 2.45 0 0 1 3002.59 1789.6H3005.49A2.45 2.45 0 0 1 3007.94 1792.05V1792.9A1.6 1.6 0 0 1 3006.34 1794.5H3001.74A1.6 1.6 0 0 1 3000.14 1792.9ZM3008.94 1792.9V1790.4A3.9 3.9 0 0 1 3012.84 1786.5H3012.84A3.9 3.9 0 0 1 3016.74 1790.4V1792.9A1.6 1.6 0 0 1 3015.14 1794.5H3010.54A1.6 1.6 0 0 1 3008.94 1792.9ZM3017.74 1792.9V1778.7A3.9 3.9 0 0 1 3021.64 1774.8H3021.64A3.9 3.9 0 0 1 3025.54 1778.7V1792.9A1.6 1.6 0 0 1 3023.94 1794.5H3019.34A1.6 1.6 0 0 1 3017.74 1792.9ZM3026.55 1792.9V1776.9A3.9 3.9 0 0 1 3030.45 1773H3030.45A3.9 3.9 0 0 1 3034.35 1776.9V1792.9A1.6 1.6 0 0 1 3032.75 1794.5H3028.14A1.6 1.6 0 0 1 3026.55 1792.9ZM3035.35 1792.9V1769.1A3.9 3.9 0 0 1 3039.25 1765.2H3039.25A3.9 3.9 0 0 1 3043.15 1769.1V1792.9A1.6 1.6 0 0 1 3041.55 1794.5H3036.95A1.6 1.6 0 0 1 3035.35 1792.9ZM3044.15 1792.9V1753.1A3.9 3.9 0 0 1 3048.05 1749.2H3048.05A3.9 3.9 0 0 1 3051.95 1753.1V1792.9A1.6 1.6 0 0 1 3050.35 1794.5H3045.75A1.6 1.6 0 0 1 3044.15 1792.9ZM3052.95 1792.9V1792.8A1.7 1.7 0 0 1 3054.65 1791.1H3059.05A1.7 1.7 0 0 1 3060.75 1792.8V1792.9A1.6 1.6 0 0 1 3059.15 1794.5H3054.55A1.6 1.6 0 0 1 3052.95 1792.9ZM3061.76 1792.9V1778.2A3.9 3.9 0 0 1 3065.66 1774.3H3065.66A3.9 3.9 0 0 1 3069.56 1778.2V1792.9A1.6 1.6 0 0 1 3067.96 1794.5H3063.36A1.6 1.6 0 0 1 3061.76 1792.9ZM3070.56 1792.9V1775.4A3.9 3.9 0 0 1 3074.46 1771.5H3074.46A3.9 3.9 0 0 1 3078.36 1775.4V1792.9A1.6 1.6 0 0 1 3076.76 1794.5H3072.16A1.6 1.6 0 0 1 3070.56 1792.9ZM3079.36 1792.9V1782.5A3.9 3.9 0 0 1 3083.26 1778.6H3083.26A3.9 3.9 0 0 1 3087.16 1782.5V1792.9A1.6 1.6 0 0 1 3085.56 1794.5H3080.96A1.6 1.6 0 0 1 3079.36 1792.9ZM3088.17 1792.9V1774.4A3.9 3.9 0 0 1 3092.07 1770.5H3092.07A3.9 3.9 0 0 1 3095.97 1774.4V1792.9A1.6 1.6 0 0 1 3094.37 1794.5H3089.77A1.6 1.6 0 0 1 3088.17 1792.9ZM3096.97 1792.9V1764A3.9 3.9 0 0 1 3100.87 1760.1H3100.87A3.9 3.9 0 0 1 3104.77 1764V1792.9A1.6 1.6 0 0 1 3103.17 1794.5H3098.57A1.6 1.6 0 0 1 3096.97 1792.9Z"/>
<path class="r" d="M253.6 1797.9V1797.9A1.4 1.4 0 0 0 255 1799.3H260A1.4 1.4 0 0 0 261.4 1797.9V1797.9A1.4 1.4 0 0 0 260 1796.5H255A1.4 1.4 0 0 0 253.6 1797.9ZM262.4 1798.1V1799.05A2.55 2.55 0 0 0 264.95 1801.6H267.65A2.55 2.55 0 0 0 270.2 1799.05V1798.1A1.6 1.6 0 0 0 268.6 1796.5H264A1.6 1.6 0 0 0 262.4 1798.1ZM271.21 1798.1V1799.8A3.3 3.3 0 0 0 274.51 1803.1H275.71A3.3 3.3 0 0 0 279.01 1799.8V1798.1A1.6 1.6 0 0 0 277.41 1796.5H272.81A1.6 1.6 0 0 0 271.21 1798.1ZM280.01 1798.1V1798.65A2.15 2.15 0 0 0 282.16 1800.8H285.66A2.15 2.15 0 0 0 287.81 1798.65V1798.1A1.6 1.6 0 0 0 286.21 1796.5H281.61A1.6 1.6 0 0 0 280.01 1798.1ZM288.81 1797.45V1797.45A0.95 0.95 0 0 0 289.76 1798.4H295.66A0.95 0.95 0 0 0 296.61 1797.45V1797.45A0.95 0.95 0 0 0 295.66 1796.5H289.76A0.95 0.95 0 0 0 288.81 1797.45ZM297.62 1798.1V1799.5A3 3 0 0 0 300.62 1802.5H302.42A3 3 0 0 0 305.42 1799.5V1798.1A1.6 1.6 0 0 0 303.81 1796.5H299.22A1.6 1.6 0 0 0 297.62 1798.1ZM306.42 1797.45V1797.45A0.95 0.95 0 0 0 307.37 1798.4H313.27A0.95 0.95 0 0 0 314.22 1797.45V1797.45A0.95 0.95 0 0 0 313.27 1796.5H307.37A0.95 0.95 0 0 0 306.42 1797.45ZM315.22 1798.1V1799.6A3.1 3.1 0 0 0 318.32 1802.7H319.92A3.1 3.1 0 0 0 323.02 1799.6V1798.1A1.6 1.6 0 0 0 321.42 1796.5H316.82A1.6 1.6 0 0 0 315.22 1798.1ZM324.02 1798.1V1798.85A2.35 2.35 0 0 0 326.37 1801.2H329.47A2.35 2.35 0 0 0 331.82 1798.85V1798.1A1.6 1.6 0 0 0 330.22 1796.5H325.62A1.6 1.6 0 0 0 324.02 1798.1ZM332.83 1798.1V1801.1A3.9 3.9 0 0 0 336.73 1805H336.73A3.9 3.9 0 0 0 340.63 1801.1V1798.1A1.6 1.6 0 0 0 339.03 1796.5H334.43A1.6 1.6 0 0 0 332.83 1798.1ZM341.63 1798.1V1798.1A1.6 1.6 0 0 0 343.23 1799.7H347.83A1.6 1.6 0 0 0 349.43 1798.1V1798.1A1.6 1.6 0 0 0 347.83 1796.5H343.23A1.6 1.6 0 0 0 341.63 1798.1ZM350.43 1797.25V1797.25A0.75 0.75 0 0 0 351.18 1798H357.48A0.75 0.75 0 0 0 358.23 1797.25V1797.25A0.75 0.75 0 0 0 357.48 1796.5H351.18A0.75 0.75 0 0 0 350.43 1797.25ZM359.24 1798.1V1803.6A3.9 3.9 0 0 0 363.14 1807.5H363.14A3.9 3.9 0 0 0 367.04 1803.6V1798.1A1.6 1.6 0 0 0 365.44 1796.5H360.84A1.6 1.6 0 0 0 359.24 1798.1ZM368.04 1798.1V1799.05A2.55 2.55 0 0 0 370.59 1801.6H373.29A2.55 2.55 0 0 0 375.84 1799.05V1798.1A1.6 1.6 0 0 0 374.24 1796.5H369.64A1.6 1.6 0 0 0 368.04 1798.1ZM376.84 1798.1V1803A3.9 3.9 0 0 0 380.74 1806.9H380.74A3.9 3.9 0 0 0 384.64 1803V1798.1A1.6 1.6 0 0 0 383.04 1796.5H378.44A1.6 1.6 0 0 0 376.84 1798.1ZM385.65 1798.1V1798.85A2.35 2.35 0 0 0 388 1801.2H391.1A2.35 2.35 0 0 0 393.45 1798.85V1798.1A1.6 1.6 0 0 0 391.85 1796.5H387.25A1.6 1.6 0 0 0 385.65 1798.1ZM394.45 1798.1V1800.8A3.9 3.9 0 0 0 398.35 1804.7H398.35A3.9 3.9 0 0 0 402.25 1800.8V1798.1A1.6 1.6 0 0 0 400.65 1796.5H396.05A1.6 1.6 0 0 0 394.45 1798.1ZM403.25 1798.1V1799.8A3.3 3.3 0 0 0 406.55 1803.1H407.75A3.3 3.3 0 0 0 411.05 1799.8V1798.1A1.6 1.6 0 0 0 409.45 1796.5H404.85A1.6 1.6 0 0 0 403.25 1798.1ZM412.05 1798.1V1804.6A3.9 3.9 0 0 0 415.95 1808.5H415.95A3.9 3.9 0 0 0 419.85 1804.6V1798.1A1.6 1.6 0 0 0 418.25 1796.5H413.65A1.6 1.6 0 0 0 412.05 1798.1ZM420.86 1798.1V1805.1A3.9 3.9 0 0 0 424.76 1809H424.76A3.9 3.9 0 0 0 428.66 1805.1V1798.1A1.6 1.6 0 0 0 427.06 1796.5H422.46A1.6 1.6 0 0 0 420.86 1798.1ZM429.66 1798.1V1799.6A3.1 3.1 0 0 0 432.76 1802.7H434.36A3.1 3.1 0 0 0 437.46 1799.6V1798.1A1.6 1.6 0 0 0 435.86 1796.5H431.26A1.6 1.6 0 0 0 429.66 1798.1ZM438.46 1797.4V1797.4A0.9 0.9 0 0 0 439.36 1798.3H445.36A0.9 0.9 0 0 0 446.26 1797.4V1797.4A0.9 0.9 0 0 0 445.36 1796.5H439.36A0.9 0.9 0 0 0 438.46 1797.4ZM447.27 1798.1V1799.15A2.65 2.65 0 0 0 449.92 1801.8H452.42A2.65 2.65 0 0 0 455.07 1799.15V1798.1A1.6 1.6 0 0 0 453.47 1796.5H448.87A1.6 1.6 0 0 0 447.27 1798.1ZM456.07 1798.1V1798.1A1.6 1.6 0 0 0 457.67 1799.7H462.27A1.6 1.6 0 0 0 463.87 1798.1V1798.1A1.6 1.6 0 0 0 462.27 1796.5H457.67A1.6 1.6 0 0 0 456.07 1798.1ZM464.87 1797.9V1797.9A1.4 1.4 0 0 0 466.27 1799.3H471.27A1.4 1.4 0 0 0 472.67 1797.9V1797.9A1.4 1.4 0 0 0 471.27 1796.5H466.27A1.4 1.4 0 0 0 464.87 1797.9ZM473.68 1797.25V1797.25A0.75 0.75 0 0 0 474.43 1798H480.73A0.75 0.75 0 0 0 481.48 1797.25V1797.25A0.75 0.75 0 0 0 480.73 1796.5H474.43A0.75 0.75 0 0 0 473.68 1797.25ZM482.48 1798.1V1800.25A3.75 3.75 0 0 0 486.23 1804H486.53A3.75 3.75 0 0 0 490.28 1800.25V1798.1A1.6 1.6 0 0 0 488.68 1796.5H484.08A1.6 1.6 0 0 0 482.48 1798.1ZM491.28 1797.9V1797.9A1.4 1.4 0 0 0 492.68 1799.3H497.68A1.4 1.4 0 0 0 499.08 1797.9V1797.9A1.4 1.4 0 0 0 497.68 1796.5H492.68A1.4 1.4 0 0 0 491.28 1797.9ZM500.08 1798.1V1799.5A3 3 0 0 0 503.08 1802.5H504.88A3 3 0 0 0 507.88 1799.5V1798.1A1.6 1.6 0 0 0 506.28 1796.5H501.68A1.6 1.6 0 0 0 500.08 1798.1ZM508.89 1798.1V1798.5A2 2 0 0 0 510.89 1800.5H514.69A2 2 0 0 0 516.69 1798.5V1798.1A1.6 1.6 0 0 0 515.09 1796.5H510.49A1.6 1.6 0 0 0 508.89 1798.1ZM517.69 1798.1V1798.85A2.35 2.35 0 0 0 520.04 1801.2H523.14A2.35 2.35 0 0 0 525.49 1798.85V1798.1A1.6 1.6 0 0 0 523.89 1796.5H519.29A1.6 1.6 0 0 0 517.69 1798.1ZM526.49 1797.25V1797.25A0.75 0.75 0 0 0 527.24 1798H533.54A0.75 0.75 0 0 0 534.29 1797.25V1797.25A0.75 0.75 0 0 0 533.54 1796.5H527.24A0.75 0.75 0 0 0 526.49 1797.25ZM535.3 1798.1V1799.5A3 3 0 0 0 538.3 1802.5H540.1A3 3 0 0 0 543.1 1799.5V1798.1A1.6 1.6 0 0 0 541.5 1796.5H536.9A1.6 1.6 0 0 0 535.3 1798.1ZM544.1 1798.1V1815A3.9 3.9 0 0 0 548 1818.9H548A3.9 3.9 0 0 0 551.9 1815V1798.1A1.6 1.6 0 0 0 550.3 1796.5H545.7A1.6 1.6 0 0 0 544.1 1798.1ZM552.9 1798.1V1801.1A3.9 3.9 0 0 0 556.8 1805H556.8A3.9 3.9 0 0 0 560.7 1801.1V1798.1A1.6 1.6 0 0 0 559.1 1796.5H554.5A1.6 1.6 0 0 0 552.9 1798.1ZM561.71 1797.9V1797.9A1.4 1.4 0 0 0 563.11 1799.3H568.11A1.4 1.4 0 0 0 569.5 1797.9V1797.9A1.4 1.4 0 0 0 568.11 1796.5H563.11A1.4 1.4 0 0 0 561.71 1797.9ZM570.51 1797.75V1797.75A1.25 1.25 0 0 0 571.76 1799H577.06A1.25 1.25 0 0 0 578.31 1797.75V1797.75A1.25 1.25 0 0 0 577.06 1796.5H571.76A1.25 1.25 0 0 0 570.51 1797.75ZM579.31 1798.1V1798.85A2.35 2.35 0 0 0 581.66 1801.2H584.76A2.35 2.35 0 0 0 587.11 1798.85V1798.1A1.6 1.6 0 0 0 585.51 1796.5H580.91A1.6 1.6 0 0 0 579.31 1798.1ZM588.11 1797.45V1797.45A0.95 0.95 0 0 0 589.06 1798.4H594.96A0.95 0.95 0 0 0 595.91 1797.45V1797.45A0.95 0.95 0 0 0 594.96 1796.5H589.06A0.95 0.95 0 0 0 588.11 1797.45ZM596.92 1798.1V1798.1A1.6 1.6 0 0 0 598.52 1799.7H603.12A1.6 1.6 0 0 0 604.72 1798.1V1798.1A1.6 1.6 0 0 0 603.12 1796.5H598.52A1.6 1.6 0 0 0 596.92 1798.1ZM605.72 1798.1V1798.2A1.7 1.7 0 0 0 607.42 1799.9H611.82A1.7 1.7 0 0 0 613.52 1798.2V1798.1A1.6 1.6 0 0 0 611.92 1796.5H607.32A1.6 1.6 0 0 0 605.72 1798.1ZM614.52 1798.1V1798.2A1.7 1.7 0 0 0 616.22 1799.9H620.62A1.7 1.7 0 0 0 622.32 1798.2V1798.1A1.6 1.6 0 0 0 620.72 1796.5H616.12A1.6 1.6 0 0 0 614.52 1798.1ZM623.33 1798.1V1799.8A3.3 3.3 0 0 0 626.63 1803.1H627.83A3.3 3.3 0 0 0 631.13 1799.8V1798.1A1.6 1.6 0 0 0 629.53 1796.5H624.93A1.6 1.6 0 0 0 623.33 1798.1ZM632.13 1797.45V1797.45A0.95 0.95 0 0 0 633.08 1798.4H638.98A0.95 0.95 0 0 0 639.93 1797.45V1797.45A0.95 0.95 0 0 0 638.98 1796.5H633.08A0.95 0.95 0 0 0 632.13 1797.45ZM640.93 1798.1V1799.5A3 3 0 0 0 643.93 1802.5H645.73A3 3 0 0 0 648.73 1799.5V1798.1A1.6 1.6 0 0 0 647.13 1796.5H642.53A1.6 1.6 0 0 0 640.93 1798.1ZM649.74 1797.25V1797.25A0.75 0.75 0 0 0 650.49 1798H656.78A0.75 0.75 0 0 0 657.53 1797.25V1797.25A0.75 0.75 0 0 0 656.78 1796.5H650.49A0.75 0.75 0 0 0 649.74 1797.25ZM658.54 1797.25V1797.25A0.75 0.75 0 0 0 659.29 1798H665.59A0.75 0.75 0 0 0 666.34 1797.25V1797.25A0.75 0.75 0 0 0 665.59 1796.5H659.29A0.75 0.75 0 0 0 658.54 1797.25ZM667.34 1798.1V1798.65A2.15 2.15 0 0 0 669.49 1800.8H672.99A2.15 2.15 0 0 0 675.14 1798.65V1798.1A1.6 1.6 0 0 0 673.54 1796.5H668.94A1.6 1.6 0 0 0 667.34 1798.1ZM676.14 1797.9V1797.9A1.4 1.4 0 0 0 677.54 1799.3H682.54A1.4 1.4 0 0 0 683.94 1797.9V1797.9A1.4 1.4 0 0 0 682.54 1796.5H677.54A1.4 1.4 0 0 0 676.14 1797.9ZM684.95 1798.1V1798.1A1.6 1.6 0 0 0 686.55 1799.7H691.15A1.6 1.6 0 0 0 692.75 1798.1V1798.1A1.6 1.6 0 0 0 691.15 1796.5H686.55A1.6 1.6 0 0 0 684.95 1798.1ZM693.75 1798.1V1800.25A3.75 3.75 0 0 0 697.5 1804H697.8A3.75 3.75 0 0 0 701.55 1800.25V1798.1A1.6 1.6 0 0 0 699.95 1796.5H695.35A1.6 1.6 0 0 0 693.75 1798.1ZM702.55 1798.1V1804A3.9 3.9 0 0 0 706.45 1807.9H706.45A3.9 3.9 0 0 0 710.35 1804V1798.1A1.6 1.6 0 0 0 708.75 1796.5H704.15A1.6 1.6 0 0 0 702.55 1798.1ZM711.36 1797.9V1797.9A1.4 1.4 0 0 0 712.76 1799.3H717.76A1.4 1.4 0 0 0 719.16 1797.9V1797.9A1.4 1.4 0 0 0 717.76 1796.5H712.76A1.4 1.4 0 0 0 711.36 1797.9ZM720.16 1797.45V1797.45A0.95 0.95 0 0 0 721.11 1798.4H727.01A0.95 0.95 0 0 0 727.96 1797.45V1797.45A0.95 0.95 0 0 0 727.01 1796.5H721.11A0.95 0.95 0 0 0 720.16 1797.45ZM728.96 1797.9V1797.9A1.4 1.4 0 0 0 730.36 1799.3H735.36A1.4 1.4 0 0 0 736.76 1797.9V1797.9A1.4 1.4 0 0 0 735.36 1796.5H730.36A1.4 1.4 0 0 0 728.96 1797.9ZM737.76 1798.1V1802.1A3.9 3.9 0 0 0 741.66 1806H741.66A3.9 3.9 0 0 0 745.56 1802.1V1798.1A1.6 1.6 0 0 0 743.96 1796.5H739.37A1.6 1.6 0 0 0 737.76 1798.1ZM746.57 1798.1V1800A3.5 3.5 0 0 0 750.07 1803.5H750.87A3.5 3.5 0 0 0 754.37 1800V1798.1A1.6 1.6 0 0 0 752.77 1796.5H748.17A1.6 1.6 0 0 0 746.57 1798.1ZM755.37 1798.1V1798.2A1.7 1.7 0 0 0 757.07 1799.9H761.47A1.7 1.7 0 0 0 763.17 1798.2V1798.1A1.6 1.6 0 0 0 761.57 1796.5H756.97A1.6 1.6 0 0 0 755.37 1798.1ZM764.17 1798.1V1803A3.9 3.9 0 0 0 768.07 1806.9H768.07A3.9 3.9 0 0 0 771.97 1803V1798.1A1.6 1.6 0 0 0 770.37 1796.5H765.77A1.6 1.6 0 0 0 764.17 1798.1ZM772.98 1798.1V1799.35A2.85 2.85 0 0 0 775.83 1802.2H777.93A2.85 2.85 0 0 0 780.78 1799.35V1798.1A1.6 1.6 0 0 0 779.18 1796.5H774.58A1.6 1.6 0 0 0 772.98 1798.1ZM781.78 1798.1V1818.8A3.9 3.9 0 0 0 785.68 1822.7H785.68A3.9 3.9 0 0 0 789.58 1818.8V1798.1A1.6 1.6 0 0 0 787.98 1796.5H783.38A1.6 1.6 0 0 0 781.78 1798.1ZM790.58 1798.1V1799A2.5 2.5 0 0 0 793.08 1801.5H795.88A2.5 2.5 0 0 0 798.38 1799V1798.1A1.6 1.6 0 0 0 796.78 1796.5H792.18A1.6 1.6 0 0 0 790.58 1798.1ZM799.39 1798.1V1804.3A3.9 3.9 0 0 0 803.29 1808.2H803.29A3.9 3.9 0 0 0 807.19 1804.3V1798.1A1.6 1.6 0 0 0 805.59 1796.5H800.99A1.6 1.6 0 0 0 799.39 1798.1ZM808.19 1798.1V1799.6A3.1 3.1 0 0 0 811.29 1802.7H812.89A3.1 3.1 0 0 0 815.99 1799.6V1798.1A1.6 1.6 0 0 0 814.39 1796.5H809.79A1.6 1.6 0 0 0 808.19 1798.1ZM816.99 1798.1V1798.85A2.35 2.35 0 0 0 819.34 1801.2H822.44A2.35 2.35 0 0 0 824.79 1798.85V1798.1A1.6 1.6 0 0 0 823.19 1796.5H818.59A1.6 1.6 0 0 0 816.99 1798.1ZM825.8 1798.1V1803.9A3.9 3.9 0 0 0 829.7 1807.8H829.7A3.9 3.9 0 0 0 833.6 1803.9V1798.1A1.6 1.6 0 0 0 832 1796.5H827.4A1.6 1.6 0 0 0 825.8 1798.1ZM834.6 1797.25V1797.25A0.75 0.75 0 0 0 835.35 1798H841.65A0.75 0.75 0 0 0 842.4 1797.25V1797.25A0.75 0.75 0 0 0 841.65 1796.5H835.35A0.75 0.75 0 0 0 834.6 1797.25ZM843.4 1797.75V1797.75A1.25 1.25 0 0 0 844.65 1799H849.95A1.25 1.25 0 0 0 851.2 1797.75V1797.75A1.25 1.25 0 0 0 849.95 1796.5H844.65A1.25 1.25 0 0 0 843.4 1797.75ZM852.2 1798.1V1801.1A3.9 3.9 0 0 0 856.1 1805H856.1A3.9 3.9 0 0 0 860 1801.1V1798.1A1.6 1.6 0 0 0 858.4 1796.5H853.8A1.6 1.6 0 0 0 852.2 1798.1ZM861.01 1798.1V1806.2A3.9 3.9 0 0 0 864.91 1810.1H864.91A3.9 3.9 0 0 0 868.81 1806.2V1798.1A1.6 1.6 0 0 0 867.21 1796.5H862.61A1.6 1.6 0 0 0 861.01 1798.1ZM869.81 1798.1V1799.05A2.55 2.55 0 0 0 872.36 1801.6H875.06A2.55 2.55 0 0 0 877.61 1799.05V1798.1A1.6 1.6 0 0 0 876.01 1796.5H871.41A1.6 1.6 0 0 0 869.81 1798.1ZM878.61 1798.05V1798.05A1.55 1.55 0 0 0 880.16 1799.6H884.86A1.55 1.55 0 0 0 886.41 1798.05V1798.05A1.55 1.55 0 0 0 884.86 1796.5H880.16A1.55 1.55 0 0 0 878.61 1798.05ZM887.42 1798.1V1799.35A2.85 2.85 0 0 0 890.27 1802.2H892.37A2.85 2.85 0 0 0 895.22 1799.35V1798.1A1.6 1.6 0 0 0 893.62 1796.5H889.02A1.6 1.6 0 0 0 887.42 1798.1ZM896.22 1797.45V1797.45A0.95 0.95 0 0 0 897.17 1798.4H903.07A0.95 0.95 0 0 0 904.02 1797.45V1797.45A0.95 0.95 0 0 0 903.07 1796.5H897.17A0.95 0.95 0 0 0 896.22 1797.45ZM905.02 1797.9V1797.9A1.4 1.4 0 0 0 906.42 1799.3H911.42A1.4 1.4 0 0 0 912.82 1797.9V1797.9A1.4 1.4 0 0 0 911.42 1796.5H906.42A1.4 1.4 0 0 0 905.02 1797.9ZM913.83 1798.1V1798.85A2.35 2.35 0 0 0 916.18 1801.2H919.27A2.35 2.35 0 0 0 921.62 1798.85V1798.1A1.6 1.6 0 0 0 920.02 1796.5H915.43A1.6 1.6 0 0 0 913.83 1798.1ZM922.63 1797.6V1797.6A1.1 1.1 0 0 0 923.73 1798.7H929.33A1.1 1.1 0 0 0 930.43 1797.6V1797.6A1.1 1.1 0 0 0 929.33 1796.5H923.73A1.1 1.1 0 0 0 922.63 1797.6ZM931.43 1798.1V1804.6A3.9 3.9 0 0 0 935.33 1808.5H935.33A3.9 3.9 0 0 0 939.23 1804.6V1798.1A1.6 1.6 0 0 0 937.63 1796.5H933.03A1.6 1.6 0 0 0 931.43 1798.1ZM940.23 1797.9V1797.9A1.4 1.4 0 0 0 941.63 1799.3H946.63A1.4 1.4 0 0 0 948.03 1797.9V1797.9A1.4 1.4 0 0 0 946.63 1796.5H941.63A1.4 1.4 0 0 0 940.23 1797.9ZM949.04 1798.1V1798.1A1.6 1.6 0 0 0 950.64 1799.7H955.24A1.6 1.6 0 0 0 956.84 1798.1V1798.1A1.6 1.6 0 0 0 955.24 1796.5H950.64A1.6 1.6 0 0 0 949.04 1798.1ZM957.84 1797.45V1797.45A0.95 0.95 0 0 0 958.79 1798.4H964.69A0.95 0.95 0 0 0 965.64 1797.45V1797.45A0.95 0.95 0 0 0 964.69 1796.5H958.79A0.95 0.95 0 0 0 957.84 1797.45ZM966.64 1797.9V1797.9A1.4 1.4 0 0 0 968.04 1799.3H973.04A1.4 1.4 0 0 0 974.44 1797.9V1797.9A1.4 1.4 0 0 0 973.04 1796.5H968.04A1.4 1.4 0 0 0 966.64 1797.9ZM975.45 1798.1V1801.1A3.9 3.9 0 0 0 979.35 1805H979.35A3.9 3.9 0 0 0 983.25 1801.1V1798.1A1.6 1.6 0 0 0 981.65 1796.5H977.05A1.6 1.6 0 0 0 975.45 1798.1ZM984.25 1798.1V1798.1A1.6 1.6 0 0 0 985.85 1799.7H990.45A1.6 1.6 0 0 0 992.05 1798.1V1798.1A1.6 1.6 0 0 0 990.45 1796.5H985.85A1.6 1.6 0 0 0 984.25 1798.1ZM993.05 1798.1V1798.1A1.6 1.6 0 0 0 994.65 1799.7H999.25A1.6 1.6 0 0 0 1000.85 1798.1V1798.1A1.6 1.6 0 0 0 999.25 1796.5H994.65A1.6 1.6 0 0 0 993.05 1798.1ZM1001.86 1797.75V1797.75A1.25 1.25 0 0 0 1003.11 1799H1008.41A1.25 1.25 0 0 0 1009.66 1797.75V1797.75A1.25 1.25 0 0 0 1008.41 1796.5H1003.11A1.25 1.25 0 0 0 1001.86 1797.75ZM1010.66 1797.25V1797.25A0.75 0.75 0 0 0 1011.41 1798H1017.71A0.75 0.75 0 0 0 1018.46 1797.25V1797.25A0.75 0.75 0 0 0 1017.71 1796.5H1011.41A0.75 0.75 0 0 0 1010.66 1797.25ZM1019.46 1797.25V1797.25A0.75 0.75 0 0 0 1020.21 1798H1026.51A0.75 0.75 0 0 0 1027.26 1797.25V1797.25A0.75 0.75 0 0 0 1026.51 1796.5H1020.21A0.75 0.75 0 0 0 1019.46 1797.25ZM1028.26 1797.6V1797.6A1.1 1.1 0 0 0 1029.36 1798.7H1034.96A1.1 1.1 0 0 0 1036.06 1797.6V1797.6A1.1 1.1 0 0 0 1034.96 1796.5H1029.36A1.1 1.1 0 0 0 1028.26 1797.6ZM1037.07 1798.1V1798.85A2.35 2.35 0 0 0 1039.42 1801.2H1042.52A2.35 2.35 0 0 0 1044.87 1798.85V1798.1A1.6 1.6 0 0 0 1043.27 1796.5H1038.67A1.6 1.6 0 0 0 1037.07 1798.1ZM1045.87 1798.1V1799.5A3 3 0 0 0 1048.87 1802.5H1050.67A3 3 0 0 0 1053.67 1799.5V1798.1A1.6 1.6 0 0 0 1052.07 1796.5H1047.47A1.6 1.6 0 0 0 1045.87 1798.1ZM1054.67 1798.1V1802.7A3.9 3.9 0 0 0 1058.57 1806.6H1058.57A3.9 3.9 0 0 0 1062.47 1802.7V1798.1A1.6 1.6 0 0 0 1060.87 1796.5H1056.27A1.6 1.6 0 0 0 1054.67 1798.1ZM1063.48 1798.1V1798.15A1.65 1.65 0 0 0 1065.13 1799.8H1069.63A1.65 1.65 0 0 0 1071.28 1798.15V1798.1A1.6 1.6 0 0 0 1069.68 1796.5H1065.08A1.6 1.6 0 0 0 1063.48 1798.1ZM1072.28 1798.1V1799.6A3.1 3.1 0 0 0 1075.38 1802.7H1076.98A3.1 3.1 0 0 0 1080.08 1799.6V1798.1A1.6 1.6 0 0 0 1078.48 1796.5H1073.88A1.6 1.6 0 0 0 1072.28 1798.1ZM1081.08 1797.6V1797.6A1.1 1.1 0 0 0 1082.18 1798.7H1087.78A1.1 1.1 0 0 0 1088.88 1797.6V1797.6A1.1 1.1 0 0 0 1087.78 1796.5H1082.18A1.1 1.1 0 0 0 1081.08 1797.6ZM1089.88 1798.1V1798.85A2.35 2.35 0 0 0 1092.24 1801.2H1095.34A2.35 2.35 0 0 0 1097.68 1798.85V1798.1A1.6 1.6 0 0 0 1096.09 1796.5H1091.48A1.6 1.6 0 0 0 1089.88 1798.1ZM1098.69 1798.1V1810A3.9 3.9 0 0 0 1102.59 1813.9H1102.59A3.9 3.9 0 0 0 1106.49 1810V1798.1A1.6 1.6 0 0 0 1104.89 1796.5H1100.29A1.6 1.6 0 0 0 1098.69 1798.1ZM1107.49 1798.1V1798.65A2.15 2.15 0 0 0 1109.64 1800.8H1113.14A2.15 2.15 0 0 0 1115.29 1798.65V1798.1A1.6 1.6 0 0 0 1113.69 1796.5H1109.09A1.6 1.6 0 0 0 1107.49 1798.1ZM1116.29 1798.1V1811A3.9 3.9 0 0 0 1120.19 1814.9H1120.19A3.9 3.9 0 0 0 1124.09 1811V1798.1A1.6 1.6 0 0 0 1122.49 1796.5H1117.89A1.6 1.6 0 0 0 1116.29 1798.1ZM1125.1 1798.1V1798.1A1.6 1.6 0 0 0 1126.7 1799.7H1131.3A1.6 1.6 0 0 0 1132.9 1798.1V1798.1A1.6 1.6 0 0 0 1131.3 1796.5H1126.7A1.6 1.6 0 0 0 1125.1 1798.1ZM1133.9 1798.1V1800.8A3.9 3.9 0 0 0 1137.8 1804.7H1137.8A3.9 3.9 0 0 0 1141.7 1800.8V1798.1A1.6 1.6 0 0 0 1140.1 1796.5H1135.5A1.6 1.6 0 0 0 1133.9 1798.1ZM1142.7 1798.1V1801.1A3.9 3.9 0 0 0 1146.6 1805H1146.6A3.9 3.9 0 0 0 1150.5 1801.1V1798.1A1.6 1.6 0 0 0 1148.9 1796.5H1144.3A1.6 1.6 0 0 0 1142.7 1798.1ZM1151.51 1798.1V1798.85A2.35 2.35 0 0 0 1153.86 1801.2H1156.96A2.35 2.35 0 0 0 1159.31 1798.85V1798.1A1.6 1.6 0 0 0 1157.71 1796.5H1153.11A1.6 1.6 0 0 0 1151.51 1798.1ZM1160.31 1798.1V1799.15A2.65 2.65 0 0 0 1162.96 1801.8H1165.46A2.65 2.65 0 0 0 1168.11 1799.15V1798.1A1.6 1.6 0 0 0 1166.51 1796.5H1161.91A1.6 1.6 0 0 0 1160.31 1798.1ZM1169.11 1798.05V1798.05A1.55 1.55 0 0 0 1170.66 1799.6H1175.36A1.55 1.55 0 0 0 1176.91 1798.05V1798.05A1.55 1.55 0 0 0 1175.36 1796.5H1170.66A1.55 1.55 0 0 0 1169.11 1798.05ZM1177.91 1798.1V1799.15A2.65 2.65 0 0 0 1180.57 1801.8H1183.07A2.65 2.65 0 0 0 1185.71 1799.15V1798.1A1.6 1.6 0 0 0 1184.12 1796.5H1179.51A1.6 1.6 0 0 0 1177.91 1798.1ZM1186.72 1797.6V1797.6A1.1 1.1 0 0 0 1187.82 1798.7H1193.42A1.1 1.1 0 0 0 1194.52 1797.6V1797.6A1.1 1.1 0 0 0 1193.42 1796.5H1187.82A1.1 1.1 0 0 0 1186.72 1797.6ZM1195.52 1797.25V1797.25A0.75 0.75 0 0 0 1196.27 1798H1202.57A0.75 0.75 0 0 0 1203.32 1797.25V1797.25A0.75 0.75 0 0 0 1202.57 1796.5H1196.27A0.75 0.75 0 0 0 1195.52 1797.25ZM1204.32 1798.1V1798.1A1.6 1.6 0 0 0 1205.92 1799.7H1210.52A1.6 1.6 0 0 0 1212.12 1798.1V1798.1A1.6 1.6 0 0 0 1210.52 1796.5H1205.92A1.6 1.6 0 0 0 1204.32 1798.1ZM1213.13 1798.1V1798.2A1.7 1.7 0 0 0 1214.83 1799.9H1219.23A1.7 1.7 0 0 0 1220.93 1798.2V1798.1A1.6 1.6 0 0 0 1219.33 1796.5H1214.73A1.6 1.6 0 0 0 1213.13 1798.1ZM1221.93 1798.1V1800.8A3.9 3.9 0 0 0 1225.83 1804.7H1225.83A3.9 3.9 0 0 0 1229.73 1800.8V1798.1A1.6 1.6 0 0 0 1228.13 1796.5H1223.53A1.6 1.6 0 0 0 1221.93 1798.1ZM1230.73 1798.1V1818.2A3.9 3.9 0 0 0 1234.63 1822.1H1234.63A3.9 3.9 0 0 0 1238.53 1818.2V1798.1A1.6 1.6 0 0 0 1236.93 1796.5H1232.33A1.6 1.6 0 0 0 1230.73 1798.1ZM1239.54 1798.1V1802.4A3.9 3.9 0 0 0 1243.44 1806.3H1243.44A3.9 3.9 0 0 0 1247.34 1802.4V1798.1A1.6 1.6 0 0 0 1245.74 1796.5H1241.14A1.6 1.6 0 0 0 1239.54 1798.1ZM1248.34 1798.1V1798.85A2.35 2.35 0 0 0 1250.69 1801.2H1253.79A2.35 2.35 0 0 0 1256.14 1798.85V1798.1A1.6 1.6 0 0 0 1254.54 1796.5H1249.94A1.6 1.6 0 0 0 1248.34 1798.1ZM1257.14 1798.1V1800.8A3.9 3.9 0 0 0 1261.04 1804.7H1261.04A3.9 3.9 0 0 0 1264.94 1800.8V1798.1A1.6 1.6 0 0 0 1263.34 1796.5H1258.74A1.6 1.6 0 0 0 1257.14 1798.1ZM1265.95 1797.9V1797.9A1.4 1.4 0 0 0 1267.35 1799.3H1272.35A1.4 1.4 0 0 0 1273.75 1797.9V1797.9A1.4 1.4 0 0 0 1272.35 1796.5H1267.35A1.4 1.4 0 0 0 1265.95 1797.9ZM1274.75 1797.25V1797.25A0.75 0.75 0 0 0 1275.5 1798H1281.8A0.75 0.75 0 0 0 1282.55 1797.25V1797.25A0.75 0.75 0 0 0 1281.8 1796.5H1275.5A0.75 0.75 0 0 0 1274.75 1797.25ZM1283.55 1798.1V1798.85A2.35 2.35 0 0 0 1285.9 1801.2H1289A2.35 2.35 0 0 0 1291.35 1798.85V1798.1A1.6 1.6 0 0 0 1289.75 1796.5H1285.15A1.6 1.6 0 0 0 1283.55 1798.1ZM1292.35 1797.6V1797.6A1.1 1.1 0 0 0 1293.45 1798.7H1299.05A1.1 1.1 0 0 0 1300.15 1797.6V1797.6A1.1 1.1 0 0 0 1299.05 1796.5H1293.45A1.1 1.1 0 0 0 1292.35 1797.6ZM1301.16 1798.1V1798.55A2.05 2.05 0 0 0 1303.21 1800.6H1306.91A2.05 2.05 0 0 0 1308.96 1798.55V1798.1A1.6 1.6 0 0 0 1307.36 1796.5H1302.76A1.6 1.6 0 0 0 1301.16 1798.1ZM1309.96 1798.1V1800.1A3.6 3.6 0 0 0 1313.56 1803.7H1314.16A3.6 3.6 0 0 0 1317.76 1800.1V1798.1A1.6 1.6 0 0 0 1316.16 1796.5H1311.56A1.6 1.6 0 0 0 1309.96 1798.1ZM1318.76 1797.9V1797.9A1.4 1.4 0 0 0 1320.16 1799.3H1325.16A1.4 1.4 0 0 0 1326.56 1797.9V1797.9A1.4 1.4 0 0 0 1325.16 1796.5H1320.16A1.4 1.4 0 0 0 1318.76 1797.9ZM1327.57 1797.35V1797.35A0.85 0.85 0 0 0 1328.42 1798.2H1334.52A0.85 0.85 0 0 0 1335.37 1797.35V1797.35A0.85 0.85 0 0 0 1334.52 1796.5H1328.42A0.85 0.85 0 0 0 1327.57 1797.35ZM1336.37 1797.45V1797.45A0.95 0.95 0 0 0 1337.32 1798.4H1343.22A0.95 0.95 0 0 0 1344.17 1797.45V1797.45A0.95 0.95 0 0 0 1343.22 1796.5H1337.32A0.95 0.95 0 0 0 1336.37 1797.45ZM1345.17 1797.9V1797.9A1.4 1.4 0 0 0 1346.57 1799.3H1351.57A1.4 1.4 0 0 0 1352.97 1797.9V1797.9A1.4 1.4 0 0 0 1351.57 1796.5H1346.57A1.4 1.4 0 0 0 1345.17 1797.9ZM1353.97 1798.1V1798.85A2.35 2.35 0 0 0 1356.32 1801.2H1359.42A2.35 2.35 0 0 0 1361.77 1798.85V1798.1A1.6 1.6 0 0 0 1360.17 1796.5H1355.57A1.6 1.6 0 0 0 1353.97 1798.1ZM1362.78 1798.1V1798.65A2.15 2.15 0 0 0 1364.93 1800.8H1368.43A2.15 2.15 0 0 0 1370.58 1798.65V1798.1A1.6 1.6 0 0 0 1368.98 1796.5H1364.38A1.6 1.6 0 0 0 1362.78 1798.1ZM1371.58 1798.1V1833.6A3.9 3.9 0 0 0 1375.48 1837.5H1375.48A3.9 3.9 0 0 0 1379.38 1833.6V1798.1A1.6 1.6 0 0 0 1377.78 1796.5H1373.18A1.6 1.6 0 0 0 1371.58 1798.1ZM1380.38 1798.1V1809.3A3.9 3.9 0 0 0 1384.28 1813.2H1384.28A3.9 3.9 0 0 0 1388.18 1809.3V1798.1A1.6 1.6 0 0 0 1386.58 1796.5H1381.98A1.6 1.6 0 0 0 1380.38 1798.1ZM1389.19 1798.1V1805.1A3.9 3.9 0 0 0 1393.09 1809H1393.09A3.9 3.9 0 0 0 1396.99 1805.1V1798.1A1.6 1.6 0 0 0 1395.39 1796.5H1390.79A1.6 1.6 0 0 0 1389.19 1798.1ZM1397.99 1798.1V1798.65A2.15 2.15 0 0 0 1400.14 1800.8H1403.64A2.15 2.15 0 0 0 1405.79 1798.65V1798.1A1.6 1.6 0 0 0 1404.19 1796.5H1399.59A1.6 1.6 0 0 0 1397.99 1798.1ZM1406.79 1798.1V1803.6A3.9 3.9 0 0 0 1410.69 1807.5H1410.69A3.9 3.9 0 0 0 1414.59 1803.6V1798.1A1.6 1.6 0 0 0 1412.99 1796.5H1408.39A1.6 1.6 0 0 0 1406.79 1798.1ZM1415.6 1798.1V1804A3.9 3.9 0 0 0 1419.5 1807.9H1419.5A3.9 3.9 0 0 0 1423.4 1804V1798.1A1.6 1.6 0 0 0 1421.8 1796.5H1417.2A1.6 1.6 0 0 0 1415.6 1798.1ZM1424.4 1797.9V1797.9A1.4 1.4 0 0 0 1425.8 1799.3H1430.8A1.4 1.4 0 0 0 1432.2 1797.9V1797.9A1.4 1.4 0 0 0 1430.8 1796.5H1425.8A1.4 1.4 0 0 0 1424.4 1797.9ZM1433.2 1798.1V1798.65A2.15 2.15 0 0 0 1435.35 1800.8H1438.85A2.15 2.15 0 0 0 1441 1798.65V1798.1A1.6 1.6 0 0 0 1439.4 1796.5H1434.8A1.6 1.6 0 0 0 1433.2 1798.1ZM1442.01 1797.6V1797.6A1.1 1.1 0 0 0 1443.11 1798.7H1448.7A1.1 1.1 0 0 0 1449.81 1797.6V1797.6A1.1 1.1 0 0 0 1448.7 1796.5H1443.11A1.1 1.1 0 0 0 1442.01 1797.6ZM1450.81 1797.45V1797.45A0.95 0.95 0 0 0 1451.76 1798.4H1457.66A0.95 0.95 0 0 0 1458.61 1797.45V1797.45A0.95 0.95 0 0 0 1457.66 1796.5H1451.76A0.95 0.95 0 0 0 1450.81 1797.45ZM1459.61 1798.1V1802.6A3.9 3.9 0 0 0 1463.51 1806.5H1463.51A3.9 3.9 0 0 0 1467.41 1802.6V1798.1A1.6 1.6 0 0 0 1465.81 1796.5H1461.21A1.6 1.6 0 0 0 1459.61 1798.1ZM1468.41 1798.1V1798.85A2.35 2.35 0 0 0 1470.76 1801.2H1473.86A2.35 2.35 0 0 0 1476.21 1798.85V1798.1A1.6 1.6 0 0 0 1474.61 1796.5H1470.01A1.6 1.6 0 0 0 1468.41 1798.1ZM1477.22 1798.1V1799.15A2.65 2.65 0 0 0 1479.87 1801.8H1482.37A2.65 2.65 0 0 0 1485.02 1799.15V1798.1A1.6 1.6 0 0 0 1483.42 1796.5H1478.82A1.6 1.6 0 0 0 1477.22 1798.1ZM1486.02 1798.1V1805.1A3.9 3.9 0 0 0 1489.92 1809H1489.92A3.9 3.9 0 0 0 1493.82 1805.1V1798.1A1.6 1.6 0 0 0 1492.22 1796.5H1487.62A1.6 1.6 0 0 0 1486.02 1798.1ZM1494.82 1798.1V1801.3A3.9 3.9 0 0 0 1498.72 1805.2H1498.72A3.9 3.9 0 0 0 1502.62 1801.3V1798.1A1.6 1.6 0 0 0 1501.02 1796.5H1496.42A1.6 1.6 0 0 0 1494.82 1798.1ZM1503.63 1798.1V1799.35A2.85 2.85 0 0 0 1506.48 1802.2H1508.58A2.85 2.85 0 0 0 1511.43 1799.35V1798.1A1.6 1.6 0 0 0 1509.83 1796.5H1505.23A1.6 1.6 0 0 0 1503.63 1798.1ZM1512.43 1797.45V1797.45A0.95 0.95 0 0 0 1513.38 1798.4H1519.28A0.95 0.95 0 0 0 1520.23 1797.45V1797.45A0.95 0.95 0 0 0 1519.28 1796.5H1513.38A0.95 0.95 0 0 0 1512.43 1797.45ZM1521.23 1798.1V1798.1A1.6 1.6 0 0 0 1522.83 1799.7H1527.43A1.6 1.6 0 0 0 1529.03 1798.1V1798.1A1.6 1.6 0 0 0 1527.43 1796.5H1522.83A1.6 1.6 0 0 0 1521.23 1798.1ZM1530.04 1798.05V1798.05A1.55 1.55 0 0 0 1531.59 1799.6H1536.29A1.55 1.55 0 0 0 1537.84 1798.05V1798.05A1.55 1.55 0 0 0 1536.29 1796.5H1531.59A1.55 1.55 0 0 0 1530.04 1798.05ZM1538.84 1798.1V1799.6A3.1 3.1 0 0 0 1541.94 1802.7H1543.54A3.1 3.1 0 0 0 1546.64 1799.6V1798.1A1.6 1.6 0 0 0 1545.04 1796.5H1540.44A1.6 1.6 0 0 0 1538.84 1798.1ZM1547.64 1797.45V1797.45A0.95 0.95 0 0 0 1548.59 1798.4H1554.49A0.95 0.95 0 0 0 1555.44 1797.45V1797.45A0.95 0.95 0 0 0 1554.49 1796.5H1548.59A0.95 0.95 0 0 0 1547.64 1797.45ZM1556.44 1798.1V1798.65A2.15 2.15 0 0 0 1558.59 1800.8H1562.09A2.15 2.15 0 0 0 1564.24 1798.65V1798.1A1.6 1.6 0 0 0 1562.64 1796.5H1558.04A1.6 1.6 0 0 0 1556.44 1798.1ZM1565.25 1798.1V1798.1A1.6 1.6 0 0 0 1566.85 1799.7H1571.45A1.6 1.6 0 0 0 1573.05 1798.1V1798.1A1.6 1.6 0 0 0 1571.45 1796.5H1566.85A1.6 1.6 0 0 0 1565.25 1798.1ZM1574.05 1797.9V1797.9A1.4 1.4 0 0 0 1575.45 1799.3H1580.45A1.4 1.4 0 0 0 1581.85 1797.9V1797.9A1.4 1.4 0 0 0 1580.45 1796.5H1575.45A1.4 1.4 0 0 0 1574.05 1797.9ZM1582.85 1797.9V1797.9A1.4 1.4 0 0 0 1584.25 1799.3H1589.25A1.4 1.4 0 0 0 1590.65 1797.9V1797.9A1.4 1.4 0 0 0 1589.25 1796.5H1584.25A1.4 1.4 0 0 0 1582.85 1797.9ZM1591.66 1798.1V1798.55A2.05 2.05 0 0 0 1593.71 1800.6H1597.41A2.05 2.05 0 0 0 1599.46 1798.55V1798.1A1.6 1.6 0 0 0 1597.86 1796.5H1593.26A1.6 1.6 0 0 0 1591.66 1798.1ZM1600.46 1798.1V1798.4A1.9 1.9 0 0 0 1602.36 1800.3H1606.36A1.9 1.9 0 0 0 1608.26 1798.4V1798.1A1.6 1.6 0 0 0 1606.66 1796.5H1602.06A1.6 1.6 0 0 0 1600.46 1798.1ZM1609.26 1797.9V1797.9A1.4 1.4 0 0 0 1610.66 1799.3H1615.66A1.4 1.4 0 0 0 1617.06 1797.9V1797.9A1.4 1.4 0 0 0 1615.66 1796.5H1610.66A1.4 1.4 0 0 0 1609.26 1797.9ZM1618.07 1798.1V1798.55A2.05 2.05 0 0 0 1620.12 1800.6H1623.82A2.05 2.05 0 0 0 1625.87 1798.55V1798.1A1.6 1.6 0 0 0 1624.27 1796.5H1619.66A1.6 1.6 0 0 0 1618.07 1798.1ZM1626.87 1798.1V1798.85A2.35 2.35 0 0 0 1629.22 1801.2H1632.32A2.35 2.35 0 0 0 1634.67 1798.85V1798.1A1.6 1.6 0 0 0 1633.07 1796.5H1628.47A1.6 1.6 0 0 0 1626.87 1798.1ZM1635.67 1797.9V1797.9A1.4 1.4 0 0 0 1637.07 1799.3H1642.07A1.4 1.4 0 0 0 1643.47 1797.9V1797.9A1.4 1.4 0 0 0 1642.07 1796.5H1637.07A1.4 1.4 0 0 0 1635.67 1797.9ZM1644.47 1797.25V1797.25A0.75 0.75 0 0 0 1645.22 1798H1651.52A0.75 0.75 0 0 0 1652.27 1797.25V1797.25A0.75 0.75 0 0 0 1651.52 1796.5H1645.22A0.75 0.75 0 0 0 1644.47 1797.25ZM1653.28 1798.1V1809.6A3.9 3.9 0 0 0 1657.18 1813.5H1657.18A3.9 3.9 0 0 0 1661.08 1809.6V1798.1A1.6 1.6 0 0 0 1659.48 1796.5H1654.88A1.6 1.6 0 0 0 1653.28 1798.1ZM1662.08 1798.1V1802.1A3.9 3.9 0 0 0 1665.98 1806H1665.98A3.9 3.9 0 0 0 1669.88 1802.1V1798.1A1.6 1.6 0 0 0 1668.28 1796.5H1663.68A1.6 1.6 0 0 0 1662.08 1798.1ZM1670.88 1798.1V1798.55A2.05 2.05 0 0 0 1672.93 1800.6H1676.63A2.05 2.05 0 0 0 1678.68 1798.55V1798.1A1.6 1.6 0 0 0 1677.08 1796.5H1672.48A1.6 1.6 0 0 0 1670.88 1798.1ZM1679.69 1797.6V1797.6A1.1 1.1 0 0 0 1680.79 1798.7H1686.39A1.1 1.1 0 0 0 1687.49 1797.6V1797.6A1.1 1.1 0 0 0 1686.39 1796.5H1680.79A1.1 1.1 0 0 0 1679.69 1797.6ZM1688.49 1798.1V1800.5A3.9 3.9 0 0 0 1692.39 1804.4H1692.39A3.9 3.9 0 0 0 1696.29 1800.5V1798.1A1.6 1.6 0 0 0 1694.69 1796.5H1690.09A1.6 1.6 0 0 0 1688.49 1798.1ZM1697.29 1797.25V1797.25A0.75 0.75 0 0 0 1698.04 1798H1704.34A0.75 0.75 0 0 0 1705.09 1797.25V1797.25A0.75 0.75 0 0 0 1704.34 1796.5H1698.04A0.75 0.75 0 0 0 1697.29 1797.25ZM1706.1 1797.6V1797.6A1.1 1.1 0 0 0 1707.2 1798.7H1712.8A1.1 1.1 0 0 0 1713.89 1797.6V1797.6A1.1 1.1 0 0 0 1712.8 1796.5H1707.2A1.1 1.1 0 0 0 1706.1 1797.6ZM1714.9 1798.1V1801.1A3.9 3.9 0 0 0 1718.8 1805H1718.8A3.9 3.9 0 0 0 1722.7 1801.1V1798.1A1.6 1.6 0 0 0 1721.1 1796.5H1716.5A1.6 1.6 0 0 0 1714.9 1798.1ZM1723.7 1797.9V1797.9A1.4 1.4 0 0 0 1725.1 1799.3H1730.1A1.4 1.4 0 0 0 1731.5 1797.9V1797.9A1.4 1.4 0 0 0 1730.1 1796.5H1725.1A1.4 1.4 0 0 0 1723.7 1797.9ZM1732.5 1798.1V1798.1A1.6 1.6 0 0 0 1734.1 1799.7H1738.7A1.6 1.6 0 0 0 1740.3 1798.1V1798.1A1.6 1.6 0 0 0 1738.7 1796.5H1734.1A1.6 1.6 0 0 0 1732.5 1798.1ZM1741.31 1797.25V1797.25A0.75 0.75 0 0 0 1742.06 1798H1748.36A0.75 0.75 0 0 0 1749.11 1797.25V1797.25A0.75 0.75 0 0 0 1748.36 1796.5H1742.06A0.75 0.75 0 0 0 1741.31 1797.25ZM1750.11 1798.1V1798.1A1.6 1.6 0 0 0 1751.71 1799.7H1756.31A1.6 1.6 0 0 0 1757.91 1798.1V1798.1A1.6 1.6 0 0 0 1756.31 1796.5H1751.71A1.6 1.6 0 0 0 1750.11 1798.1ZM1758.91 1797.75V1797.75A1.25 1.25 0 0 0 1760.16 1799H1765.46A1.25 1.25 0 0 0 1766.71 1797.75V1797.75A1.25 1.25 0 0 0 1765.46 1796.5H1760.16A1.25 1.25 0 0 0 1758.91 1797.75ZM1767.72 1798.1V1799.6A3.1 3.1 0 0 0 1770.82 1802.7H1772.42A3.1 3.1 0 0 0 1775.52 1799.6V1798.1A1.6 1.6 0 0 0 1773.92 1796.5H1769.32A1.6 1.6 0 0 0 1767.72 1798.1ZM1776.52 1798.1V1810.6A3.9 3.9 0 0 0 1780.42 1814.5H1780.42A3.9 3.9 0 0 0 1784.32 1810.6V1798.1A1.6 1.6 0 0 0 1782.72 1796.5H1778.12A1.6 1.6 0 0 0 1776.52 1798.1ZM1785.32 1798.1V1798.55A2.05 2.05 0 0 0 1787.37 1800.6H1791.07A2.05 2.05 0 0 0 1793.12 1798.55V1798.1A1.6 1.6 0 0 0 1791.52 1796.5H1786.92A1.6 1.6 0 0 0 1785.32 1798.1ZM1794.12 1798.1V1799.15A2.65 2.65 0 0 0 1796.78 1801.8H1799.28A2.65 2.65 0 0 0 1801.92 1799.15V1798.1A1.6 1.6 0 0 0 1800.33 1796.5H1795.72A1.6 1.6 0 0 0 1794.12 1798.1ZM1802.93 1798.1V1798.65A2.15 2.15 0 0 0 1805.08 1800.8H1808.58A2.15 2.15 0 0 0 1810.73 1798.65V1798.1A1.6 1.6 0 0 0 1809.13 1796.5H1804.53A1.6 1.6 0 0 0 1802.93 1798.1ZM1811.73 1798.1V1800A3.5 3.5 0 0 0 1815.23 1803.5H1816.03A3.5 3.5 0 0 0 1819.53 1800V1798.1A1.6 1.6 0 0 0 1817.93 1796.5H1813.33A1.6 1.6 0 0 0 1811.73 1798.1ZM1820.53 1797.25V1797.25A0.75 0.75 0 0 0 1821.28 1798H1827.58A0.75 0.75 0 0 0 1828.33 1797.25V1797.25A0.75 0.75 0 0 0 1827.58 1796.5H1821.28A0.75 0.75 0 0 0 1820.53 1797.25ZM1829.34 1798.1V1799.6A3.1 3.1 0 0 0 1832.44 1802.7H1834.04A3.1 3.1 0 0 0 1837.14 1799.6V1798.1A1.6 1.6 0 0 0 1835.54 1796.5H1830.94A1.6 1.6 0 0 0 1829.34 1798.1ZM1838.14 1798.1V1798.85A2.35 2.35 0 0 0 1840.49 1801.2H1843.59A2.35 2.35 0 0 0 1845.94 1798.85V1798.1A1.6 1.6 0 0 0 1844.34 1796.5H1839.74A1.6 1.6 0 0 0 1838.14 1798.1ZM1846.94 1797.25V1797.25A0.75 0.75 0 0 0 1847.69 1798H1853.99A0.75 0.75 0 0 0 1854.74 1797.25V1797.25A0.75 0.75 0 0 0 1853.99 1796.5H1847.69A0.75 0.75 0 0 0 1846.94 1797.25ZM1855.75 1798.1V1804.9A3.9 3.9 0 0 0 1859.65 1808.8H1859.65A3.9 3.9 0 0 0 1863.55 1804.9V1798.1A1.6 1.6 0 0 0 1861.95 1796.5H1857.35A1.6 1.6 0 0 0 1855.75 1798.1ZM1864.55 1798.1V1799.5A3 3 0 0 0 1867.55 1802.5H1869.35A3 3 0 0 0 1872.35 1799.5V1798.1A1.6 1.6 0 0 0 1870.75 1796.5H1866.15A1.6 1.6 0 0 0 1864.55 1798.1ZM1873.35 1797.5V1797.5A1 1 0 0 0 1874.35 1798.5H1880.15A1 1 0 0 0 1881.15 1797.5V1797.5A1 1 0 0 0 1880.15 1796.5H1874.35A1 1 0 0 0 1873.35 1797.5ZM1882.15 1797.45V1797.45A0.95 0.95 0 0 0 1883.11 1798.4H1889A0.95 0.95 0 0 0 1889.95 1797.45V1797.45A0.95 0.95 0 0 0 1889 1796.5H1883.11A0.95 0.95 0 0 0 1882.15 1797.45ZM1890.96 1798.1V1799.5A3 3 0 0 0 1893.96 1802.5H1895.76A3 3 0 0 0 1898.76 1799.5V1798.1A1.6 1.6 0 0 0 1897.16 1796.5H1892.56A1.6 1.6 0 0 0 1890.96 1798.1ZM1899.76 1797.25V1797.25A0.75 0.75 0 0 0 1900.51 1798H1906.81A0.75 0.75 0 0 0 1907.56 1797.25V1797.25A0.75 0.75 0 0 0 1906.81 1796.5H1900.51A0.75 0.75 0 0 0 1899.76 1797.25ZM1908.56 1798.1V1798.2A1.7 1.7 0 0 0 1910.26 1799.9H1914.66A1.7 1.7 0 0 0 1916.36 1798.2V1798.1A1.6 1.6 0 0 0 1914.76 1796.5H1910.16A1.6 1.6 0 0 0 1908.56 1798.1ZM1917.37 1798.1V1814.8A3.9 3.9 0 0 0 1921.27 1818.7H1921.27A3.9 3.9 0 0 0 1925.17 1814.8V1798.1A1.6 1.6 0 0 0 1923.57 1796.5H1918.97A1.6 1.6 0 0 0 1917.37 1798.1ZM1926.17 1798.1V1840.3A3.9 3.9 0 0 0 1930.07 1844.2H1930.07A3.9 3.9 0 0 0 1933.97 1840.3V1798.1A1.6 1.6 0 0 0 1932.37 1796.5H1927.77A1.6 1.6 0 0 0 1926.17 1798.1ZM1934.97 1798.1V1808.1A3.9 3.9 0 0 0 1938.87 1812H1938.87A3.9 3.9 0 0 0 1942.77 1808.1V1798.1A1.6 1.6 0 0 0 1941.17 1796.5H1936.57A1.6 1.6 0 0 0 1934.97 1798.1ZM1943.78 1797.9V1797.9A1.4 1.4 0 0 0 1945.18 1799.3H1950.18A1.4 1.4 0 0 0 1951.58 1797.9V1797.9A1.4 1.4 0 0 0 1950.18 1796.5H1945.18A1.4 1.4 0 0 0 1943.78 1797.9ZM1952.58 1798.1V1799.6A3.1 3.1 0 0 0 1955.68 1802.7H1957.28A3.1 3.1 0 0 0 1960.38 1799.6V1798.1A1.6 1.6 0 0 0 1958.78 1796.5H1954.18A1.6 1.6 0 0 0 1952.58 1798.1ZM1961.38 1798.1V1820.1A3.9 3.9 0 0 0 1965.28 1824H1965.28A3.9 3.9 0 0 0 1969.18 1820.1V1798.1A1.6 1.6 0 0 0 1967.58 1796.5H1962.98A1.6 1.6 0 0 0 1961.38 1798.1ZM1970.19 1798.1V1801.1A3.9 3.9 0 0 0 1974.09 1805H1974.09A3.9 3.9 0 0 0 1977.99 1801.1V1798.1A1.6 1.6 0 0 0 1976.39 1796.5H1971.79A1.6 1.6 0 0 0 1970.19 1798.1ZM1978.99 1798.1V1807.2A3.9 3.9 0 0 0 1982.89 1811.1H1982.89A3.9 3.9 0 0 0 1986.79 1807.2V1798.1A1.6 1.6 0 0 0 1985.19 1796.5H1980.59A1.6 1.6 0 0 0 1978.99 1798.1ZM1987.79 1798.1V1805.9A3.9 3.9 0 0 0 1991.69 1809.8H1991.69A3.9 3.9 0 0 0 1995.59 1805.9V1798.1A1.6 1.6 0 0 0 1993.99 1796.5H1989.39A1.6 1.6 0 0 0 1987.79 1798.1ZM1996.59 1798.1V1810A3.9 3.9 0 0 0 2000.49 1813.9H2000.49A3.9 3.9 0 0 0 2004.39 1810V1798.1A1.6 1.6 0 0 0 2002.79 1796.5H1998.19A1.6 1.6 0 0 0 1996.59 1798.1ZM2005.4 1797.7V1797.7A1.2 1.2 0 0 0 2006.6 1798.9H2012A1.2 1.2 0 0 0 2013.2 1797.7V1797.7A1.2 1.2 0 0 0 2012 1796.5H2006.6A1.2 1.2 0 0 0 2005.4 1797.7ZM2014.2 1798.1V1802.4A3.9 3.9 0 0 0 2018.1 1806.3H2018.1A3.9 3.9 0 0 0 2022 1802.4V1798.1A1.6 1.6 0 0 0 2020.4 1796.5H2015.8A1.6 1.6 0 0 0 2014.2 1798.1ZM2023 1798.1V1803A3.9 3.9 0 0 0 2026.9 1806.9H2026.9A3.9 3.9 0 0 0 2030.8 1803V1798.1A1.6 1.6 0 0 0 2029.2 1796.5H2024.6A1.6 1.6 0 0 0 2023 1798.1ZM2031.81 1798.1V1799.9A3.4 3.4 0 0 0 2035.21 1803.3H2036.21A3.4 3.4 0 0 0 2039.61 1799.9V1798.1A1.6 1.6 0 0 0 2038.01 1796.5H2033.41A1.6 1.6 0 0 0 2031.81 1798.1ZM2040.61 1798.1V1798.85A2.35 2.35 0 0 0 2042.96 1801.2H2046.06A2.35 2.35 0 0 0 2048.41 1798.85V1798.1A1.6 1.6 0 0 0 2046.81 1796.5H2042.21A1.6 1.6 0 0 0 2040.61 1798.1ZM2049.41 1798.1V1800.1A3.6 3.6 0 0 0 2053.01 1803.7H2053.61A3.6 3.6 0 0 0 2057.21 1800.1V1798.1A1.6 1.6 0 0 0 2055.61 1796.5H2051.01A1.6 1.6 0 0 0 2049.41 1798.1ZM2058.22 1798.1V1799.6A3.1 3.1 0 0 0 2061.32 1802.7H2062.92A3.1 3.1 0 0 0 2066.02 1799.6V1798.1A1.6 1.6 0 0 0 2064.42 1796.5H2059.82A1.6 1.6 0 0 0 2058.22 1798.1ZM2067.02 1797.9V1797.9A1.4 1.4 0 0 0 2068.42 1799.3H2073.42A1.4 1.4 0 0 0 2074.82 1797.9V1797.9A1.4 1.4 0 0 0 2073.42 1796.5H2068.42A1.4 1.4 0 0 0 2067.02 1797.9ZM2075.82 1798.1V1800A3.5 3.5 0 0 0 2079.32 1803.5H2080.12A3.5 3.5 0 0 0 2083.62 1800V1798.1A1.6 1.6 0 0 0 2082.02 1796.5H2077.42A1.6 1.6 0 0 0 2075.82 1798.1ZM2084.62 1798.1V1799.8A3.3 3.3 0 0 0 2087.92 1803.1H2089.12A3.3 3.3 0 0 0 2092.42 1799.8V1798.1A1.6 1.6 0 0 0 2090.82 1796.5H2086.22A1.6 1.6 0 0 0 2084.62 1798.1ZM2093.43 1798.1V1799.5A3 3 0 0 0 2096.43 1802.5H2098.23A3 3 0 0 0 2101.23 1799.5V1798.1A1.6 1.6 0 0 0 2099.63 1796.5H2095.03A1.6 1.6 0 0 0 2093.43 1798.1ZM2102.23 1798.1V1801.1A3.9 3.9 0 0 0 2106.13 1805H2106.13A3.9 3.9 0 0 0 2110.03 1801.1V1798.1A1.6 1.6 0 0 0 2108.43 1796.5H2103.83A1.6 1.6 0 0 0 2102.23 1798.1ZM2111.03 1798.1V1800.5A3.9 3.9 0 0 0 2114.93 1804.4H2114.93A3.9 3.9 0 0 0 2118.83 1800.5V1798.1A1.6 1.6 0 0 0 2117.23 1796.5H2112.63A1.6 1.6 0 0 0 2111.03 1798.1ZM2119.84 1798.1V1803.9A3.9 3.9 0 0 0 2123.74 1807.8H2123.74A3.9 3.9 0 0 0 2127.64 1803.9V1798.1A1.6 1.6 0 0 0 2126.04 1796.5H2121.44A1.6 1.6 0 0 0 2119.84 1798.1ZM2128.64 1798.1V1798.65A2.15 2.15 0 0 0 2130.79 1800.8H2134.29A2.15 2.15 0 0 0 2136.44 1798.65V1798.1A1.6 1.6 0 0 0 2134.84 1796.5H2130.24A1.6 1.6 0 0 0 2128.64 1798.1ZM2137.44 1798.1V1798.6A2.1 2.1 0 0 0 2139.54 1800.7H2143.14A2.1 2.1 0 0 0 2145.24 1798.6V1798.1A1.6 1.6 0 0 0 2143.64 1796.5H2139.04A1.6 1.6 0 0 0 2137.44 1798.1ZM2146.25 1798.1V1808.1A3.9 3.9 0 0 0 2150.15 1812H2150.15A3.9 3.9 0 0 0 2154.05 1808.1V1798.1A1.6 1.6 0 0 0 2152.45 1796.5H2147.85A1.6 1.6 0 0 0 2146.25 1798.1ZM2155.05 1798.1V1799.8A3.3 3.3 0 0 0 2158.35 1803.1H2159.55A3.3 3.3 0 0 0 2162.85 1799.8V1798.1A1.6 1.6 0 0 0 2161.25 1796.5H2156.65A1.6 1.6 0 0 0 2155.05 1798.1ZM2163.85 1798.1V1799.6A3.1 3.1 0 0 0 2166.95 1802.7H2168.55A3.1 3.1 0 0 0 2171.65 1799.6V1798.1A1.6 1.6 0 0 0 2170.05 1796.5H2165.45A1.6 1.6 0 0 0 2163.85 1798.1ZM2172.65 1798.1V1808.1A3.9 3.9 0 0 0 2176.55 1812H2176.55A3.9 3.9 0 0 0 2180.45 1808.1V1798.1A1.6 1.6 0 0 0 2178.85 1796.5H2174.25A1.6 1.6 0 0 0 2172.65 1798.1ZM2181.46 1798.1V1802.7A3.9 3.9 0 0 0 2185.36 1806.6H2185.36A3.9 3.9 0 0 0 2189.26 1802.7V1798.1A1.6 1.6 0 0 0 2187.66 1796.5H2183.06A1.6 1.6 0 0 0 2181.46 1798.1ZM2190.26 1798.1V1815A3.9 3.9 0 0 0 2194.16 1818.9H2194.16A3.9 3.9 0 0 0 2198.06 1815V1798.1A1.6 1.6 0 0 0 2196.46 1796.5H2191.86A1.6 1.6 0 0 0 2190.26 1798.1ZM2199.06 1798.1V1799.5A3 3 0 0 0 2202.06 1802.5H2203.86A3 3 0 0 0 2206.86 1799.5V1798.1A1.6 1.6 0 0 0 2205.26 1796.5H2200.66A1.6 1.6 0 0 0 2199.06 1798.1ZM2207.87 1798.1V1807.4A3.9 3.9 0 0 0 2211.77 1811.3H2211.77A3.9 3.9 0 0 0 2215.67 1807.4V1798.1A1.6 1.6 0 0 0 2214.07 1796.5H2209.47A1.6 1.6 0 0 0 2207.87 1798.1ZM2216.67 1798.1V1812.2A3.9 3.9 0 0 0 2220.57 1816.1H2220.57A3.9 3.9 0 0 0 2224.47 1812.2V1798.1A1.6 1.6 0 0 0 2222.87 1796.5H2218.27A1.6 1.6 0 0 0 2216.67 1798.1ZM2225.47 1798.1V1810.3A3.9 3.9 0 0 0 2229.37 1814.2H2229.37A3.9 3.9 0 0 0 2233.27 1810.3V1798.1A1.6 1.6 0 0 0 2231.67 1796.5H2227.07A1.6 1.6 0 0 0 2225.47 1798.1ZM2234.28 1798.1V1814A3.9 3.9 0 0 0 2238.18 1817.9H2238.18A3.9 3.9 0 0 0 2242.08 1814V1798.1A1.6 1.6 0 0 0 2240.48 1796.5H2235.88A1.6 1.6 0 0 0 2234.28 1798.1ZM2243.08 1798.1V1800.5A3.9 3.9 0 0 0 2246.98 1804.4H2246.98A3.9 3.9 0 0 0 2250.88 1800.5V1798.1A1.6 1.6 0 0 0 2249.28 1796.5H2244.68A1.6 1.6 0 0 0 2243.08 1798.1ZM2251.88 1797.25V1797.25A0.75 0.75 0 0 0 2252.63 1798H2258.93A0.75 0.75 0 0 0 2259.68 1797.25V1797.25A0.75 0.75 0 0 0 2258.93 1796.5H2252.63A0.75 0.75 0 0 0 2251.88 1797.25ZM2260.68 1798.1V1800.8A3.9 3.9 0 0 0 2264.58 1804.7H2264.58A3.9 3.9 0 0 0 2268.48 1800.8V1798.1A1.6 1.6 0 0 0 2266.88 1796.5H2262.28A1.6 1.6 0 0 0 2260.68 1798.1ZM2269.49 1798.1V1806.8A3.9 3.9 0 0 0 2273.39 1810.7H2273.39A3.9 3.9 0 0 0 2277.29 1806.8V1798.1A1.6 1.6 0 0 0 2275.69 1796.5H2271.09A1.6 1.6 0 0 0 2269.49 1798.1ZM2278.29 1798.1V1803.4A3.9 3.9 0 0 0 2282.19 1807.3H2282.19A3.9 3.9 0 0 0 2286.09 1803.4V1798.1A1.6 1.6 0 0 0 2284.49 1796.5H2279.89A1.6 1.6 0 0 0 2278.29 1798.1ZM2287.09 1798.1V1808.1A3.9 3.9 0 0 0 2290.99 1812H2290.99A3.9 3.9 0 0 0 2294.89 1808.1V1798.1A1.6 1.6 0 0 0 2293.29 1796.5H2288.69A1.6 1.6 0 0 0 2287.09 1798.1ZM2295.9 1798.1V1798.2A1.7 1.7 0 0 0 2297.6 1799.9H2302A1.7 1.7 0 0 0 2303.7 1798.2V1798.1A1.6 1.6 0 0 0 2302.1 1796.5H2297.5A1.6 1.6 0 0 0 2295.9 1798.1ZM2304.7 1798.1V1824.9A3.9 3.9 0 0 0 2308.6 1828.8H2308.6A3.9 3.9 0 0 0 2312.5 1824.9V1798.1A1.6 1.6 0 0 0 2310.9 1796.5H2306.3A1.6 1.6 0 0 0 2304.7 1798.1ZM2313.5 1798.1V1798.65A2.15 2.15 0 0 0 2315.65 1800.8H2319.15A2.15 2.15 0 0 0 2321.3 1798.65V1798.1A1.6 1.6 0 0 0 2319.7 1796.5H2315.1A1.6 1.6 0 0 0 2313.5 1798.1ZM2322.31 1798.1V1810A3.9 3.9 0 0 0 2326.21 1813.9H2326.21A3.9 3.9 0 0 0 2330.11 1810V1798.1A1.6 1.6 0 0 0 2328.51 1796.5H2323.91A1.6 1.6 0 0 0 2322.31 1798.1ZM2331.11 1798.1V1808.4A3.9 3.9 0 0 0 2335.01 1812.3H2335.01A3.9 3.9 0 0 0 2338.91 1808.4V1798.1A1.6 1.6 0 0 0 2337.31 1796.5H2332.71A1.6 1.6 0 0 0 2331.11 1798.1ZM2339.91 1798.1V1804.3A3.9 3.9 0 0 0 2343.81 1808.2H2343.81A3.9 3.9 0 0 0 2347.71 1804.3V1798.1A1.6 1.6 0 0 0 2346.11 1796.5H2341.51A1.6 1.6 0 0 0 2339.91 1798.1ZM2348.71 1798.1V1800.5A3.9 3.9 0 0 0 2352.61 1804.4H2352.61A3.9 3.9 0 0 0 2356.51 1800.5V1798.1A1.6 1.6 0 0 0 2354.91 1796.5H2350.31A1.6 1.6 0 0 0 2348.71 1798.1ZM2357.52 1798.1V1799.35A2.85 2.85 0 0 0 2360.37 1802.2H2362.47A2.85 2.85 0 0 0 2365.32 1799.35V1798.1A1.6 1.6 0 0 0 2363.72 1796.5H2359.12A1.6 1.6 0 0 0 2357.52 1798.1ZM2366.32 1798.1V1802.1A3.9 3.9 0 0 0 2370.22 1806H2370.22A3.9 3.9 0 0 0 2374.12 1802.1V1798.1A1.6 1.6 0 0 0 2372.52 1796.5H2367.92A1.6 1.6 0 0 0 2366.32 1798.1ZM2375.12 1797.9V1797.9A1.4 1.4 0 0 0 2376.52 1799.3H2381.52A1.4 1.4 0 0 0 2382.92 1797.9V1797.9A1.4 1.4 0 0 0 2381.52 1796.5H2376.52A1.4 1.4 0 0 0 2375.12 1797.9ZM2383.93 1798.1V1799.5A3 3 0 0 0 2386.93 1802.5H2388.73A3 3 0 0 0 2391.73 1799.5V1798.1A1.6 1.6 0 0 0 2390.13 1796.5H2385.53A1.6 1.6 0 0 0 2383.93 1798.1ZM2392.73 1798.1V1804.3A3.9 3.9 0 0 0 2396.63 1808.2H2396.63A3.9 3.9 0 0 0 2400.53 1804.3V1798.1A1.6 1.6 0 0 0 2398.93 1796.5H2394.33A1.6 1.6 0 0 0 2392.73 1798.1ZM2401.53 1798.1V1805.9A3.9 3.9 0 0 0 2405.43 1809.8H2405.43A3.9 3.9 0 0 0 2409.33 1805.9V1798.1A1.6 1.6 0 0 0 2407.73 1796.5H2403.13A1.6 1.6 0 0 0 2401.53 1798.1ZM2410.34 1798.1V1801.1A3.9 3.9 0 0 0 2414.24 1805H2414.24A3.9 3.9 0 0 0 2418.14 1801.1V1798.1A1.6 1.6 0 0 0 2416.54 1796.5H2411.93A1.6 1.6 0 0 0 2410.34 1798.1ZM2419.14 1798.1V1798.65A2.15 2.15 0 0 0 2421.29 1800.8H2424.79A2.15 2.15 0 0 0 2426.94 1798.65V1798.1A1.6 1.6 0 0 0 2425.34 1796.5H2420.74A1.6 1.6 0 0 0 2419.14 1798.1ZM2427.94 1798.1V1801.1A3.9 3.9 0 0 0 2431.84 1805H2431.84A3.9 3.9 0 0 0 2435.74 1801.1V1798.1A1.6 1.6 0 0 0 2434.14 1796.5H2429.54A1.6 1.6 0 0 0 2427.94 1798.1ZM2436.74 1797.25V1797.25A0.75 0.75 0 0 0 2437.49 1798H2443.79A0.75 0.75 0 0 0 2444.54 1797.25V1797.25A0.75 0.75 0 0 0 2443.79 1796.5H2437.49A0.75 0.75 0 0 0 2436.74 1797.25ZM2445.55 1798.1V1798.2A1.7 1.7 0 0 0 2447.25 1799.9H2451.65A1.7 1.7 0 0 0 2453.35 1798.2V1798.1A1.6 1.6 0 0 0 2451.75 1796.5H2447.15A1.6 1.6 0 0 0 2445.55 1798.1ZM2454.35 1798.1V1802.4A3.9 3.9 0 0 0 2458.25 1806.3H2458.25A3.9 3.9 0 0 0 2462.15 1802.4V1798.1A1.6 1.6 0 0 0 2460.55 1796.5H2455.95A1.6 1.6 0 0 0 2454.35 1798.1ZM2463.15 1798.1V1799.8A3.3 3.3 0 0 0 2466.45 1803.1H2467.65A3.3 3.3 0 0 0 2470.95 1799.8V1798.1A1.6 1.6 0 0 0 2469.35 1796.5H2464.75A1.6 1.6 0 0 0 2463.15 1798.1ZM2471.96 1798.1V1800.25A3.75 3.75 0 0 0 2475.71 1804H2476.01A3.75 3.75 0 0 0 2479.76 1800.25V1798.1A1.6 1.6 0 0 0 2478.16 1796.5H2473.56A1.6 1.6 0 0 0 2471.96 1798.1ZM2480.76 1798.1V1799.35A2.85 2.85 0 0 0 2483.61 1802.2H2485.71A2.85 2.85 0 0 0 2488.56 1799.35V1798.1A1.6 1.6 0 0 0 2486.96 1796.5H2482.36A1.6 1.6 0 0 0 2480.76 1798.1ZM2489.56 1798.1V1812.2A3.9 3.9 0 0 0 2493.46 1816.1H2493.46A3.9 3.9 0 0 0 2497.36 1812.2V1798.1A1.6 1.6 0 0 0 2495.76 1796.5H2491.16A1.6 1.6 0 0 0 2489.56 1798.1ZM2498.37 1798.1V1799.05A2.55 2.55 0 0 0 2500.91 1801.6H2503.62A2.55 2.55 0 0 0 2506.17 1799.05V1798.1A1.6 1.6 0 0 0 2504.57 1796.5H2499.97A1.6 1.6 0 0 0 2498.37 1798.1ZM2507.17 1798.1V1798.55A2.05 2.05 0 0 0 2509.22 1800.6H2512.92A2.05 2.05 0 0 0 2514.97 1798.55V1798.1A1.6 1.6 0 0 0 2513.37 1796.5H2508.77A1.6 1.6 0 0 0 2507.17 1798.1ZM2515.97 1798.1V1799.6A3.1 3.1 0 0 0 2519.07 1802.7H2520.67A3.1 3.1 0 0 0 2523.77 1799.6V1798.1A1.6 1.6 0 0 0 2522.17 1796.5H2517.57A1.6 1.6 0 0 0 2515.97 1798.1ZM2524.77 1798.1V1798.2A1.7 1.7 0 0 0 2526.47 1799.9H2530.87A1.7 1.7 0 0 0 2532.57 1798.2V1798.1A1.6 1.6 0 0 0 2530.97 1796.5H2526.37A1.6 1.6 0 0 0 2524.77 1798.1ZM2533.58 1798.1V1801.3A3.9 3.9 0 0 0 2537.48 1805.2H2537.48A3.9 3.9 0 0 0 2541.38 1801.3V1798.1A1.6 1.6 0 0 0 2539.78 1796.5H2535.18A1.6 1.6 0 0 0 2533.58 1798.1ZM2542.38 1798.1V1800.25A3.75 3.75 0 0 0 2546.13 1804H2546.43A3.75 3.75 0 0 0 2550.18 1800.25V1798.1A1.6 1.6 0 0 0 2548.58 1796.5H2543.98A1.6 1.6 0 0 0 2542.38 1798.1ZM2551.18 1798.1V1798.2A1.7 1.7 0 0 0 2552.88 1799.9H2557.28A1.7 1.7 0 0 0 2558.98 1798.2V1798.1A1.6 1.6 0 0 0 2557.38 1796.5H2552.78A1.6 1.6 0 0 0 2551.18 1798.1ZM2559.99 1797.6V1797.6A1.1 1.1 0 0 0 2561.09 1798.7H2566.69A1.1 1.1 0 0 0 2567.79 1797.6V1797.6A1.1 1.1 0 0 0 2566.69 1796.5H2561.09A1.1 1.1 0 0 0 2559.99 1797.6ZM2568.79 1798.1V1798.1A1.6 1.6 0 0 0 2570.39 1799.7H2574.99A1.6 1.6 0 0 0 2576.59 1798.1V1798.1A1.6 1.6 0 0 0 2574.99 1796.5H2570.39A1.6 1.6 0 0 0 2568.79 1798.1ZM2577.59 1798.1V1823A3.9 3.9 0 0 0 2581.49 1826.9H2581.49A3.9 3.9 0 0 0 2585.39 1823V1798.1A1.6 1.6 0 0 0 2583.79 1796.5H2579.19A1.6 1.6 0 0 0 2577.59 1798.1ZM2586.39 1798.1V1798.55A2.05 2.05 0 0 0 2588.44 1800.6H2592.15A2.05 2.05 0 0 0 2594.2 1798.55V1798.1A1.6 1.6 0 0 0 2592.6 1796.5H2587.99A1.6 1.6 0 0 0 2586.39 1798.1ZM2595.2 1798.1V1799.5A3 3 0 0 0 2598.2 1802.5H2600A3 3 0 0 0 2603 1799.5V1798.1A1.6 1.6 0 0 0 2601.4 1796.5H2596.8A1.6 1.6 0 0 0 2595.2 1798.1ZM2604 1798.1V1798.65A2.15 2.15 0 0 0 2606.15 1800.8H2609.65A2.15 2.15 0 0 0 2611.8 1798.65V1798.1A1.6 1.6 0 0 0 2610.2 1796.5H2605.6A1.6 1.6 0 0 0 2604 1798.1ZM2612.8 1798.1V1799.6A3.1 3.1 0 0 0 2615.9 1802.7H2617.5A3.1 3.1 0 0 0 2620.6 1799.6V1798.1A1.6 1.6 0 0 0 2619 1796.5H2614.4A1.6 1.6 0 0 0 2612.8 1798.1ZM2621.61 1797.6V1797.6A1.1 1.1 0 0 0 2622.71 1798.7H2628.31A1.1 1.1 0 0 0 2629.41 1797.6V1797.6A1.1 1.1 0 0 0 2628.31 1796.5H2622.71A1.1 1.1 0 0 0 2621.61 1797.6ZM2630.41 1798.1V1800.8A3.9 3.9 0 0 0 2634.31 1804.7H2634.31A3.9 3.9 0 0 0 2638.21 1800.8V1798.1A1.6 1.6 0 0 0 2636.61 1796.5H2632.01A1.6 1.6 0 0 0 2630.41 1798.1ZM2639.21 1798.1V1800.25A3.75 3.75 0 0 0 2642.96 1804H2643.26A3.75 3.75 0 0 0 2647.01 1800.25V1798.1A1.6 1.6 0 0 0 2645.41 1796.5H2640.81A1.6 1.6 0 0 0 2639.21 1798.1ZM2648.02 1798.1V1801.1A3.9 3.9 0 0 0 2651.92 1805H2651.92A3.9 3.9 0 0 0 2655.82 1801.1V1798.1A1.6 1.6 0 0 0 2654.22 1796.5H2649.62A1.6 1.6 0 0 0 2648.02 1798.1ZM2656.82 1798.1V1811.5A3.9 3.9 0 0 0 2660.72 1815.4H2660.72A3.9 3.9 0 0 0 2664.62 1811.5V1798.1A1.6 1.6 0 0 0 2663.02 1796.5H2658.42A1.6 1.6 0 0 0 2656.82 1798.1ZM2665.62 1798.1V1808.7A3.9 3.9 0 0 0 2669.52 1812.6H2669.52A3.9 3.9 0 0 0 2673.42 1808.7V1798.1A1.6 1.6 0 0 0 2671.82 1796.5H2667.22A1.6 1.6 0 0 0 2665.62 1798.1ZM2674.43 1798.1V1805.8A3.9 3.9 0 0 0 2678.33 1809.7H2678.33A3.9 3.9 0 0 0 2682.23 1805.8V1798.1A1.6 1.6 0 0 0 2680.63 1796.5H2676.03A1.6 1.6 0 0 0 2674.43 1798.1ZM2683.23 1797.35V1797.35A0.85 0.85 0 0 0 2684.08 1798.2H2690.18A0.85 0.85 0 0 0 2691.03 1797.35V1797.35A0.85 0.85 0 0 0 2690.18 1796.5H2684.08A0.85 0.85 0 0 0 2683.23 1797.35ZM2692.03 1798.1V1803A3.9 3.9 0 0 0 2695.93 1806.9H2695.93A3.9 3.9 0 0 0 2699.83 1803V1798.1A1.6 1.6 0 0 0 2698.23 1796.5H2693.63A1.6 1.6 0 0 0 2692.03 1798.1ZM2700.83 1798.1V1802.4A3.9 3.9 0 0 0 2704.73 1806.3H2704.73A3.9 3.9 0 0 0 2708.63 1802.4V1798.1A1.6 1.6 0 0 0 2707.03 1796.5H2702.43A1.6 1.6 0 0 0 2700.83 1798.1ZM2709.64 1798.1V1799.5A3 3 0 0 0 2712.64 1802.5H2714.44A3 3 0 0 0 2717.44 1799.5V1798.1A1.6 1.6 0 0 0 2715.84 1796.5H2711.24A1.6 1.6 0 0 0 2709.64 1798.1ZM2718.44 1798.1V1800.1A3.6 3.6 0 0 0 2722.04 1803.7H2722.64A3.6 3.6 0 0 0 2726.24 1800.1V1798.1A1.6 1.6 0 0 0 2724.64 1796.5H2720.04A1.6 1.6 0 0 0 2718.44 1798.1ZM2727.24 1798.1V1800.1A3.6 3.6 0 0 0 2730.84 1803.7H2731.44A3.6 3.6 0 0 0 2735.04 1800.1V1798.1A1.6 1.6 0 0 0 2733.44 1796.5H2728.84A1.6 1.6 0 0 0 2727.24 1798.1ZM2736.05 1798.1V1913.8A3.9 3.9 0 0 0 2739.95 1917.7H2739.95A3.9 3.9 0 0 0 2743.85 1913.8V1798.1A1.6 1.6 0 0 0 2742.25 1796.5H2737.65A1.6 1.6 0 0 0 2736.05 1798.1ZM2744.85 1798.1V1800.8A3.9 3.9 0 0 0 2748.75 1804.7H2748.75A3.9 3.9 0 0 0 2752.65 1800.8V1798.1A1.6 1.6 0 0 0 2751.05 1796.5H2746.45A1.6 1.6 0 0 0 2744.85 1798.1ZM2753.65 1798.1V1812.5A3.9 3.9 0 0 0 2757.55 1816.4H2757.55A3.9 3.9 0 0 0 2761.45 1812.5V1798.1A1.6 1.6 0 0 0 2759.85 1796.5H2755.25A1.6 1.6 0 0 0 2753.65 1798.1ZM2762.45 1798.1V1801.7A3.9 3.9 0 0 0 2766.36 1805.6H2766.36A3.9 3.9 0 0 0 2770.26 1801.7V1798.1A1.6 1.6 0 0 0 2768.66 1796.5H2764.05A1.6 1.6 0 0 0 2762.45 1798.1ZM2771.26 1798.1V1802.1A3.9 3.9 0 0 0 2775.16 1806H2775.16A3.9 3.9 0 0 0 2779.06 1802.1V1798.1A1.6 1.6 0 0 0 2777.46 1796.5H2772.86A1.6 1.6 0 0 0 2771.26 1798.1ZM2780.06 1798.1V1799.6A3.1 3.1 0 0 0 2783.16 1802.7H2784.76A3.1 3.1 0 0 0 2787.86 1799.6V1798.1A1.6 1.6 0 0 0 2786.26 1796.5H2781.66A1.6 1.6 0 0 0 2780.06 1798.1ZM2788.86 1798.1V1801.7A3.9 3.9 0 0 0 2792.76 1805.6H2792.76A3.9 3.9 0 0 0 2796.66 1801.7V1798.1A1.6 1.6 0 0 0 2795.06 1796.5H2790.46A1.6 1.6 0 0 0 2788.86 1798.1ZM2797.67 1798.1V1806.2A3.9 3.9 0 0 0 2801.57 1810.1H2801.57A3.9 3.9 0 0 0 2805.47 1806.2V1798.1A1.6 1.6 0 0 0 2803.87 1796.5H2799.27A1.6 1.6 0 0 0 2797.67 1798.1ZM2806.47 1797.45V1797.45A0.95 0.95 0 0 0 2807.42 1798.4H2813.32A0.95 0.95 0 0 0 2814.27 1797.45V1797.45A0.95 0.95 0 0 0 2813.32 1796.5H2807.42A0.95 0.95 0 0 0 2806.47 1797.45ZM2815.27 1798.1V1800.3A3.8 3.8 0 0 0 2819.07 1804.1H2819.27A3.8 3.8 0 0 0 2823.07 1800.3V1798.1A1.6 1.6 0 0 0 2821.47 1796.5H2816.87A1.6 1.6 0 0 0 2815.27 1798.1ZM2824.08 1798.1V1803.4A3.9 3.9 0 0 0 2827.98 1807.3H2827.98A3.9 3.9 0 0 0 2831.88 1803.4V1798.1A1.6 1.6 0 0 0 2830.28 1796.5H2825.68A1.6 1.6 0 0 0 2824.08 1798.1ZM2832.88 1798.1V1807.2A3.9 3.9 0 0 0 2836.78 1811.1H2836.78A3.9 3.9 0 0 0 2840.68 1807.2V1798.1A1.6 1.6 0 0 0 2839.08 1796.5H2834.48A1.6 1.6 0 0 0 2832.88 1798.1ZM2841.68 1798.1V1799.15A2.65 2.65 0 0 0 2844.33 1801.8H2846.83A2.65 2.65 0 0 0 2849.48 1799.15V1798.1A1.6 1.6 0 0 0 2847.88 1796.5H2843.28A1.6 1.6 0 0 0 2841.68 1798.1ZM2850.49 1798.1V1799.35A2.85 2.85 0 0 0 2853.34 1802.2H2855.44A2.85 2.85 0 0 0 2858.29 1799.35V1798.1A1.6 1.6 0 0 0 2856.69 1796.5H2852.09A1.6 1.6 0 0 0 2850.49 1798.1ZM2859.29 1798.1V1799.15A2.65 2.65 0 0 0 2861.94 1801.8H2864.44A2.65 2.65 0 0 0 2867.09 1799.15V1798.1A1.6 1.6 0 0 0 2865.49 1796.5H2860.89A1.6 1.6 0 0 0 2859.29 1798.1ZM2868.09 1797.25V1797.25A0.75 0.75 0 0 0 2868.84 1798H2875.14A0.75 0.75 0 0 0 2875.89 1797.25V1797.25A0.75 0.75 0 0 0 2875.14 1796.5H2868.84A0.75 0.75 0 0 0 2868.09 1797.25ZM2876.89 1798.1V1807.7A3.9 3.9 0 0 0 2880.79 1811.6H2880.79A3.9 3.9 0 0 0 2884.69 1807.7V1798.1A1.6 1.6 0 0 0 2883.09 1796.5H2878.49A1.6 1.6 0 0 0 2876.89 1798.1ZM2885.7 1798.1V1799.5A3 3 0 0 0 2888.7 1802.5H2890.5A3 3 0 0 0 2893.5 1799.5V1798.1A1.6 1.6 0 0 0 2891.9 1796.5H2887.3A1.6 1.6 0 0 0 2885.7 1798.1ZM2894.5 1798.1V1800A3.5 3.5 0 0 0 2898 1803.5H2898.8A3.5 3.5 0 0 0 2902.3 1800V1798.1A1.6 1.6 0 0 0 2900.7 1796.5H2896.1A1.6 1.6 0 0 0 2894.5 1798.1ZM2903.3 1798.1V1799.5A3 3 0 0 0 2906.3 1802.5H2908.1A3 3 0 0 0 2911.1 1799.5V1798.1A1.6 1.6 0 0 0 2909.5 1796.5H2904.9A1.6 1.6 0 0 0 2903.3 1798.1ZM2912.11 1798.1V1799.15A2.65 2.65 0 0 0 2914.76 1801.8H2917.26A2.65 2.65 0 0 0 2919.91 1799.15V1798.1A1.6 1.6 0 0 0 2918.31 1796.5H2913.71A1.6 1.6 0 0 0 2912.11 1798.1ZM2920.91 1798.1V1799.45A2.95 2.95 0 0 0 2923.86 1802.4H2925.76A2.95 2.95 0 0 0 2928.71 1799.45V1798.1A1.6 1.6 0 0 0 2927.11 1796.5H2922.51A1.6 1.6 0 0 0 2920.91 1798.1ZM2929.71 1797.5V1797.5A1 1 0 0 0 2930.71 1798.5H2936.51A1 1 0 0 0 2937.51 1797.5V1797.5A1 1 0 0 0 2936.51 1796.5H2930.71A1 1 0 0 0 2929.71 1797.5ZM2938.52 1797.5V1797.5A1 1 0 0 0 2939.52 1798.5H2945.32A1 1 0 0 0 2946.32 1797.5V1797.5A1 1 0 0 0 2945.32 1796.5H2939.52A1 1 0 0 0 2938.52 1797.5ZM2947.32 1798.1V1799.05A2.55 2.55 0 0 0 2949.87 1801.6H2952.57A2.55 2.55 0 0 0 2955.12 1799.05V1798.1A1.6 1.6 0 0 0 2953.52 1796.5H2948.92A1.6 1.6 0 0 0 2947.32 1798.1ZM2956.12 1798.1V1811.9A3.9 3.9 0 0 0 2960.02 1815.8H2960.02A3.9 3.9 0 0 0 2963.92 1811.9V1798.1A1.6 1.6 0 0 0 2962.32 1796.5H2957.72A1.6 1.6 0 0 0 2956.12 1798.1ZM2964.92 1798.1V1802.7A3.9 3.9 0 0 0 2968.82 1806.6H2968.82A3.9 3.9 0 0 0 2972.72 1802.7V1798.1A1.6 1.6 0 0 0 2971.12 1796.5H2966.52A1.6 1.6 0 0 0 2964.92 1798.1ZM2973.73 1798.1V1800.2A3.7 3.7 0 0 0 2977.43 1803.9H2977.83A3.7 3.7 0 0 0 2981.53 1800.2V1798.1A1.6 1.6 0 0 0 2979.93 1796.5H2975.33A1.6 1.6 0 0 0 2973.73 1798.1ZM2982.53 1798.1V1810.9A3.9 3.9 0 0 0 2986.43 1814.8H2986.43A3.9 3.9 0 0 0 2990.33 1810.9V1798.1A1.6 1.6 0 0 0 2988.73 1796.5H2984.13A1.6 1.6 0 0 0 2982.53 1798.1ZM2991.33 1798.1V1798.15A1.65 1.65 0 0 0 2992.98 1799.8H2997.48A1.65 1.65 0 0 0 2999.13 1798.15V1798.1A1.6 1.6 0 0 0 2997.53 1796.5H2992.93A1.6 1.6 0 0 0 2991.33 1798.1ZM3000.14 1798.1V1802.7A3.9 3.9 0 0 0 3004.04 1806.6H3004.04A3.9 3.9 0 0 0 3007.94 1802.7V1798.1A1.6 1.6 0 0 0 3006.34 1796.5H3001.74A1.6 1.6 0 0 0 3000.14 1798.1ZM3008.94 1798.1V1799.75A3.25 3.25 0 0 0 3012.19 1803H3013.49A3.25 3.25 0 0 0 3016.74 1799.75V1798.1A1.6 1.6 0 0 0 3015.14 1796.5H3010.54A1.6 1.6 0 0 0 3008.94 1798.1ZM3017.74 1798.1V1799.5A3 3 0 0 0 3020.74 1802.5H3022.54A3 3 0 0 0 3025.54 1799.5V1798.1A1.6 1.6 0 0 0 3023.94 1796.5H3019.34A1.6 1.6 0 0 0 3017.74 1798.1ZM3026.55 1798.1V1798.85A2.35 2.35 0 0 0 3028.89 1801.2H3032A2.35 2.35 0 0 0 3034.35 1798.85V1798.1A1.6 1.6 0 0 0 3032.75 1796.5H3028.14A1.6 1.6 0 0 0 3026.55 1798.1ZM3035.35 1798.1V1800.2A3.7 3.7 0 0 0 3039.05 1803.9H3039.45A3.7 3.7 0 0 0 3043.15 1800.2V1798.1A1.6 1.6 0 0 0 3041.55 1796.5H3036.95A1.6 1.6 0 0 0 3035.35 1798.1ZM3044.15 1798.1V1800.9A3.9 3.9 0 0 0 3048.05 1804.8H3048.05A3.9 3.9 0 0 0 3051.95 1800.9V1798.1A1.6 1.6 0 0 0 3050.35 1796.5H3045.75A1.6 1.6 0 0 0 3044.15 1798.1ZM3052.95 1798.1V1798.15A1.65 1.65 0 0 0 3054.6 1799.8H3059.1A1.65 1.65 0 0 0 3060.75 1798.15V1798.1A1.6 1.6 0 0 0 3059.15 1796.5H3054.55A1.6 1.6 0 0 0 3052.95 1798.1ZM3061.76 1798.1V1800.7A3.9 3.9 0 0 0 3065.66 1804.6H3065.66A3.9 3.9 0 0 0 3069.56 1800.7V1798.1A1.6 1.6 0 0 0 3067.96 1796.5H3063.36A1.6 1.6 0 0 0 3061.76 1798.1ZM3070.56 1798.1V1809.1A3.9 3.9 0 0 0 3074.46 1813H3074.46A3.9 3.9 0 0 0 3078.36 1809.1V1798.1A1.6 1.6 0 0 0 3076.76 1796.5H3072.16A1.6 1.6 0 0 0 3070.56 1798.1ZM3079.36 1798.1V1800A3.5 3.5 0 0 0 3082.86 1803.5H3083.66A3.5 3.5 0 0 0 3087.16 1800V1798.1A1.6 1.6 0 0 0 3085.56 1796.5H3080.96A1.6 1.6 0 0 0 3079.36 1798.1ZM3088.17 1798.1V1800.5A3.9 3.9 0 0 0 3092.07 1804.4H3092.07A3.9 3.9 0 0 0 3095.97 1800.5V1798.1A1.6 1.6 0 0 0 3094.37 1796.5H3089.77A1.6 1.6 0 0 0 3088.17 1798.1ZM3096.97 1798.1V1799.65A3.15 3.15 0 0 0 3100.12 1802.8H3101.62A3.15 3.15 0 0 0 3104.77 1799.65V1798.1A1.6 1.6 0 0 0 3103.17 1796.5H3098.57A1.6 1.6 0 0 0 3096.97 1798.1Z"/>
</g>
<rect x="249.5" y="2042.7" width="2855.5" height="6" fill="#1a1a1a"/>
<text class="yl" x="223.6" y="806.8" text-anchor="end">$20B</text>
<text class="yl" x="223.6" y="1056.9" text-anchor="end">$15B</text>
<text class="yl" x="223.6" y="1306.9" text-anchor="end">$10B</text>
<text class="yl" x="223.6" y="1557.0" text-anchor="end">$5B</text>
<text class="yl" x="223.6" y="1806.8" text-anchor="end">$0M</text>
<text class="yl" x="223.6" y="2056.9" text-anchor="end">$5B</text>
<text class="xl" x="257.5" y="2102.8" text-anchor="middle">2025-01-01</text>
<text class="xl" x="495.2" y="2102.8" text-anchor="middle">2025-01-28</text>
<text class="xl" x="732.9" y="2102.8" text-anchor="middle">2025-02-24</text>
<text class="xl" x="970.5" y="2102.8" text-anchor="middle">2025-03-23</text>
<text class="xl" x="1208.2" y="2102.8" text-anchor="middle">2025-04-19</text>
<text class="xl" x="1445.9" y="2102.8" text-anchor="middle">2025-05-16</text>
<text class="xl" x="1683.6" y="2102.8" text-anchor="middle">2025-06-12</text>
<text class="xl" x="1921.3" y="2102.8" text-anchor="middle">2025-07-09</text>
<text class="xl" x="2158.9" y="2102.8" text-anchor="middle">2025-08-05</text>
<text class="xl" x="2396.6" y="2102.8" text-anchor="middle">2025-09-01</text>
<text class="xl" x="2634.3" y="2102.8" text-anchor="middle">2025-09-28</text>
<text class="xl" x="2872.0" y="2102.8" text-anchor="middle">2025-10-25</text>
</svg>
<div class="abs wm" id="wm" style="left:2736.18px;top:1913.75px;font-size:65.51px;transform:scaleX(0.9771);-webkit-text-stroke:3px currentColor;">CoinGlass</div>
<div class="frule"></div>
<div class="abs sub" id="src" style="left:135.25px;top:2275.50px;font-size:34.49px;transform:scaleX(1.0210);">Source: CoinGlass</div>
</body>
</html>
